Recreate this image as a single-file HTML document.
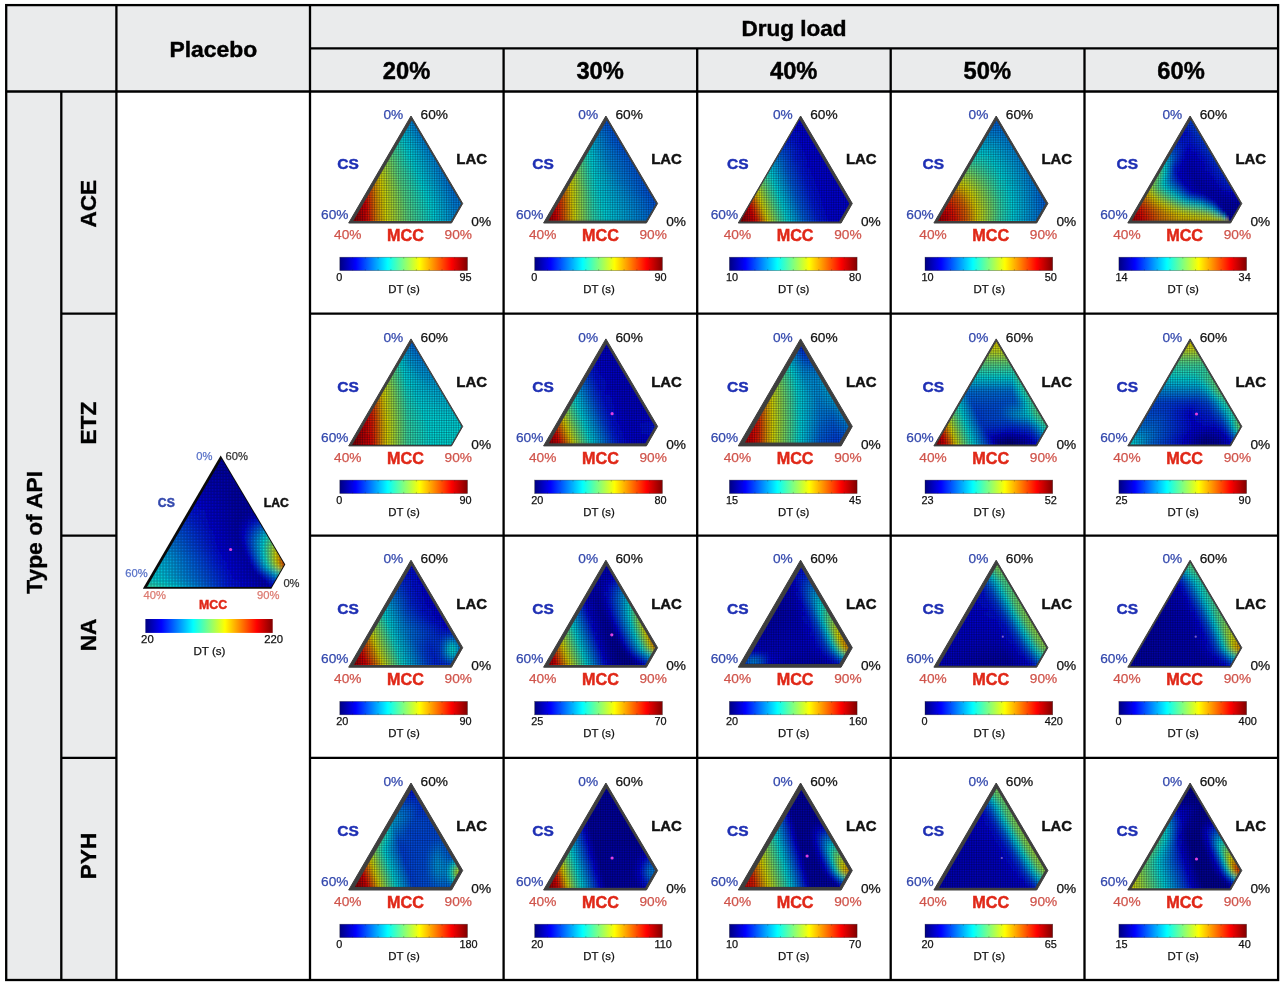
<!DOCTYPE html><html><head><meta charset="utf-8"><title>Disintegration time ternary maps</title>
<style>html,body{margin:0;padding:0;background:#fff}svg{display:block}text{font-family:"Liberation Sans",sans-serif}</style></head><body>
<svg width="1283" height="986" viewBox="0 0 1283 986">
<defs><linearGradient id="jet"><stop offset="0" stop-color="#000080"/><stop offset=".062" stop-color="#0000bf"/><stop offset=".125" stop-color="#00f"/><stop offset=".188" stop-color="#0040ff"/><stop offset=".25" stop-color="#0080ff"/><stop offset=".312" stop-color="#00bfff"/><stop offset=".375" stop-color="#0ff"/><stop offset=".438" stop-color="#40ffbf"/><stop offset=".5" stop-color="#80ff80"/><stop offset=".562" stop-color="#bfff40"/><stop offset=".625" stop-color="#ff0"/><stop offset=".688" stop-color="#ffbf00"/><stop offset=".75" stop-color="#ff8000"/><stop offset=".812" stop-color="#ff4000"/><stop offset=".875" stop-color="#f00"/><stop offset=".938" stop-color="#bf0000"/><stop offset="1" stop-color="#800000"/></linearGradient>
<filter id="vb" x="-10%" y="-10%" width="120%" height="120%"><feGaussianBlur stdDeviation="0.6 2.2"/></filter>
<g id="meshg"><path d="M-3 2v-112M-.6 2v-112M1.8 2v-112M4.2 2v-112M6.6 2v-112M9 2v-112M11.4 2v-112M13.8 2v-112M16.2 2v-112M18.6 2v-112M21 2v-112M23.4 2v-112M25.8 2v-112M28.2 2v-112M30.6 2v-112M33 2v-112M35.4 2v-112M37.8 2v-112M40.2 2v-112M42.6 2v-112M45 2v-112M47.4 2v-112M49.8 2v-112M52.2 2v-112M54.6 2v-112M57 2v-112M59.4 2v-112M61.8 2v-112M64.2 2v-112M66.6 2v-112M69 2v-112M71.4 2v-112M73.8 2v-112M76.2 2v-112M78.6 2v-112M81 2v-112M83.4 2v-112M85.8 2v-112M88.2 2v-112M90.6 2v-112M93 2v-112M95.4 2v-112M97.8 2v-112M100.2 2v-112M102.6 2v-112M105 2v-112M107.4 2v-112M109.8 2v-112M112.2 2v-112M114.6 2v-112M117 2v-112M119.4 2v-112M-4 1H122M-4 -1.4H122M-4 -3.8H122M-4 -6.2H122M-4 -8.6H122M-4 -11H122M-4 -13.4H122M-4 -15.8H122M-4 -18.2H122M-4 -20.6H122M-4 -23H122M-4 -25.4H122M-4 -27.8H122M-4 -30.2H122M-4 -32.6H122M-4 -35H122M-4 -37.4H122M-4 -39.8H122M-4 -42.2H122M-4 -44.6H122M-4 -47H122M-4 -49.4H122M-4 -51.8H122M-4 -54.2H122M-4 -56.6H122M-4 -59H122M-4 -61.4H122M-4 -63.8H122M-4 -66.2H122M-4 -68.6H122M-4 -71H122M-4 -73.4H122M-4 -75.8H122M-4 -78.2H122M-4 -80.6H122M-4 -83H122M-4 -85.4H122M-4 -87.8H122M-4 -90.2H122M-4 -92.6H122M-4 -95H122M-4 -97.4H122M-4 -99.8H122M-4 -102.2H122M-4 -104.6H122M-4 -107H122M-4 -109.4H122" stroke="#00061a" stroke-opacity=".3" stroke-width=".9" fill="none"/></g>
<g id="meshd"><path d="M0 0h1" stroke="#dff" stroke-opacity=".0" stroke-width=".6" fill="none"/></g>
<g id="cbt"><rect x="-8.9" y="34.2" width="127.7" height="13.4" fill="none" stroke="#222" stroke-opacity=".55" stroke-width=".6"/><path d="M3.9 34.2v1.6M3.9 47.6v-1.6M16.6 34.2v1.6M16.6 47.6v-1.6M29.4 34.2v1.6M29.4 47.6v-1.6M42.2 34.2v1.6M42.2 47.6v-1.6M55 34.2v1.6M55 47.6v-1.6M67.7 34.2v1.6M67.7 47.6v-1.6M80.5 34.2v1.6M80.5 47.6v-1.6M93.3 34.2v1.6M93.3 47.6v-1.6M106 34.2v1.6M106 47.6v-1.6" stroke="#222" stroke-opacity=".5" stroke-width=".5"/></g>
</defs>
<rect width="1283" height="986" fill="#fff"/>
<rect x="6.2" y="5.1" width="1271.9" height="86.4" fill="#eaebec"/>
<rect x="6.2" y="91.5" width="110.2" height="888.5" fill="#eaebec"/>
<rect x="6.2" y="5.1" width="1271.9" height="974.9" fill="none" stroke="#000" stroke-width="2.3"/>
<path d="M6.2 91.5L1278.1 91.5M310 48.3L1278.1 48.3M116.4 5.1L116.4 980M310 5.1L310 980M61.3 91.5L61.3 980M503.6 48.3L503.6 980M697.2 48.3L697.2 980M890.7 48.3L890.7 980M1084.5 48.3L1084.5 980M61.3 313.6L116.4 313.6M310 313.6L1278.1 313.6M61.3 535.7L116.4 535.7M310 535.7L1278.1 535.7M61.3 757.9L116.4 757.9M310 757.9L1278.1 757.9" stroke="#000" stroke-width="2.3" fill="none"/>
<text x="213.3" y="57" font-size="22.9" fill="#000" stroke="#000" stroke-width=".45" font-weight="bold" text-anchor="middle">Placebo</text>
<text x="794" y="35.7" font-size="22.5" fill="#000" stroke="#000" stroke-width=".45" font-weight="bold" text-anchor="middle">Drug load</text>
<text x="406.5" y="79.3" font-size="23.7" fill="#000" stroke="#000" stroke-width=".45" font-weight="bold" text-anchor="middle">20%</text>
<text x="600.1" y="79.3" font-size="23.7" fill="#000" stroke="#000" stroke-width=".45" font-weight="bold" text-anchor="middle">30%</text>
<text x="793.7" y="79.3" font-size="23.7" fill="#000" stroke="#000" stroke-width=".45" font-weight="bold" text-anchor="middle">40%</text>
<text x="987.3" y="79.3" font-size="23.7" fill="#000" stroke="#000" stroke-width=".45" font-weight="bold" text-anchor="middle">50%</text>
<text x="1181" y="79.3" font-size="23.7" fill="#000" stroke="#000" stroke-width=".45" font-weight="bold" text-anchor="middle">60%</text>
<g font-weight="bold" text-anchor="middle" fill="#000" stroke="#000" stroke-width=".35">
<text transform="translate(41.9 532.3) rotate(-90)" font-size="22.8">Type of API</text>
<text transform="translate(96.2 203.7) rotate(-90)" font-size="22.6">ACE</text>
<text transform="translate(96.2 423.1) rotate(-90)" font-size="22.6">ETZ</text>
<text transform="translate(96.2 635.0) rotate(-90)" font-size="22.6">NA</text>
<text transform="translate(96.2 856.0) rotate(-90)" font-size="22.6">PYH</text>
</g>
<defs><linearGradient id="g1"><stop offset="0" stop-color="#51d685"/><stop offset=".117" stop-color="#43d694"/><stop offset=".299" stop-color="#00d2d6"/><stop offset=".636" stop-color="#0023d6"/><stop offset=".766" stop-color="#0000cf"/><stop offset=".948" stop-color="#0000a6"/><stop offset="1" stop-color="#0000d3"/></linearGradient><linearGradient id="g2"><stop offset="0" stop-color="#51d685"/><stop offset=".117" stop-color="#43d694"/><stop offset=".299" stop-color="#00d2d6"/><stop offset=".636" stop-color="#0023d6"/><stop offset=".766" stop-color="#0000cf"/><stop offset=".948" stop-color="#0000a6"/><stop offset="1" stop-color="#0000d3"/></linearGradient><linearGradient id="g3"><stop offset="0" stop-color="#44d692"/><stop offset=".117" stop-color="#33d6a3"/><stop offset=".273" stop-color="#00cdd6"/><stop offset=".61" stop-color="#0022d6"/><stop offset=".74" stop-color="#0000ce"/><stop offset=".909" stop-color="#0000a7"/><stop offset=".961" stop-color="#0001d6"/><stop offset="1" stop-color="#002bd6"/></linearGradient><linearGradient id="g4"><stop offset="0" stop-color="#18d6bf"/><stop offset=".182" stop-color="#00ccd6"/><stop offset=".636" stop-color="#000dd6"/><stop offset=".753" stop-color="#0000c2"/><stop offset=".857" stop-color="#0000a8"/><stop offset=".909" stop-color="#000cd6"/><stop offset="1" stop-color="#0089d6"/></linearGradient><linearGradient id="g5"><stop offset="0" stop-color="#04d6d2"/><stop offset=".13" stop-color="#00c7d6"/><stop offset=".636" stop-color="#0001d6"/><stop offset=".805" stop-color="#0000ac"/><stop offset=".844" stop-color="#0000d6"/><stop offset=".961" stop-color="#00bad6"/><stop offset=".974" stop-color="#00d0d6"/><stop offset=".987" stop-color="#13d6c3"/><stop offset="1" stop-color="#13d6c3"/></linearGradient><linearGradient id="g6"><stop offset="0" stop-color="#00d2d6"/><stop offset=".117" stop-color="#00bfd6"/><stop offset=".597" stop-color="#0002d6"/><stop offset=".753" stop-color="#0000b0"/><stop offset=".792" stop-color="#000bd6"/><stop offset=".896" stop-color="#05d6d1"/><stop offset=".961" stop-color="#a3d633"/><stop offset=".974" stop-color="#b5d621"/><stop offset="1" stop-color="#b5d621"/></linearGradient><linearGradient id="g7"><stop offset="0" stop-color="#00c5d6"/><stop offset=".117" stop-color="#00b2d6"/><stop offset=".558" stop-color="#0002d6"/><stop offset=".714" stop-color="#0000b2"/><stop offset=".74" stop-color="#000ed6"/><stop offset=".818" stop-color="#00c1d6"/><stop offset=".831" stop-color="#0cd6ca"/><stop offset=".896" stop-color="#c5d612"/><stop offset=".909" stop-color="#d6be00"/><stop offset=".948" stop-color="#d63700"/><stop offset="1" stop-color="#d63700"/></linearGradient><linearGradient id="g8"><stop offset="0" stop-color="#00b9d6"/><stop offset=".107" stop-color="#00aad6"/><stop offset=".52" stop-color="#0007d6"/><stop offset=".693" stop-color="#0000b4"/><stop offset=".72" stop-color="#000fd6"/><stop offset=".813" stop-color="#0ad6cc"/><stop offset=".88" stop-color="#c0d616"/><stop offset=".893" stop-color="#d6c300"/><stop offset=".933" stop-color="#d64500"/><stop offset="1" stop-color="#d64500"/></linearGradient><linearGradient id="g9"><stop offset="0" stop-color="#00acd6"/><stop offset=".097" stop-color="#00a0d6"/><stop offset=".514" stop-color="#0004d6"/><stop offset=".681" stop-color="#0000b1"/><stop offset=".708" stop-color="#0004d6"/><stop offset=".806" stop-color="#00c2d6"/><stop offset=".819" stop-color="#0cd6ca"/><stop offset=".903" stop-color="#d6d000"/><stop offset=".931" stop-color="#d68500"/><stop offset="1" stop-color="#d68500"/></linearGradient><linearGradient id="g10"><stop offset="0" stop-color="#009dd6"/><stop offset=".101" stop-color="#008fd6"/><stop offset=".507" stop-color="#0000d6"/><stop offset=".667" stop-color="#0000b2"/><stop offset=".696" stop-color="#0000d1"/><stop offset=".797" stop-color="#00a6d6"/><stop offset=".826" stop-color="#0bd6cb"/><stop offset=".899" stop-color="#aad62d"/><stop offset=".913" stop-color="#d1d605"/><stop offset=".928" stop-color="#d6c000"/><stop offset="1" stop-color="#d6c000"/></linearGradient><linearGradient id="g11"><stop offset="0" stop-color="#008cd6"/><stop offset=".106" stop-color="#007ed6"/><stop offset=".485" stop-color="#0001d6"/><stop offset=".667" stop-color="#0000b4"/><stop offset=".697" stop-color="#0003d6"/><stop offset=".818" stop-color="#00bcd6"/><stop offset=".833" stop-color="#00d6d6"/><stop offset=".924" stop-color="#aed628"/><stop offset="1" stop-color="#aed628"/></linearGradient><linearGradient id="g12"><stop offset="0" stop-color="#007bd6"/><stop offset=".111" stop-color="#006cd6"/><stop offset=".476" stop-color="#0000d4"/><stop offset=".651" stop-color="#0000b0"/><stop offset=".698" stop-color="#0005d6"/><stop offset=".857" stop-color="#00d5d6"/><stop offset=".921" stop-color="#65d671"/><stop offset="1" stop-color="#65d671"/></linearGradient><linearGradient id="g13"><stop offset="0" stop-color="#0069d6"/><stop offset=".117" stop-color="#005dd6"/><stop offset=".467" stop-color="#0000d1"/><stop offset=".65" stop-color="#0000ad"/><stop offset=".7" stop-color="#0001d6"/><stop offset=".883" stop-color="#00c9d6"/><stop offset=".917" stop-color="#1cd6bb"/><stop offset="1" stop-color="#1cd6bb"/></linearGradient><linearGradient id="g14"><stop offset="0" stop-color="#005ad6"/><stop offset=".123" stop-color="#004ed6"/><stop offset=".456" stop-color="#0000ce"/><stop offset=".649" stop-color="#0000ab"/><stop offset=".719" stop-color="#0003d6"/><stop offset=".912" stop-color="#00a8d6"/><stop offset="1" stop-color="#00a8d6"/></linearGradient><linearGradient id="g15"><stop offset="0" stop-color="#004bd6"/><stop offset=".132" stop-color="#003ed6"/><stop offset=".415" stop-color="#0000d0"/><stop offset=".66" stop-color="#00a"/><stop offset=".755" stop-color="#0005d6"/><stop offset=".906" stop-color="#0066d6"/><stop offset="1" stop-color="#0066d6"/></linearGradient><linearGradient id="g16"><stop offset="0" stop-color="#003cd6"/><stop offset=".16" stop-color="#002ad6"/><stop offset=".4" stop-color="#0000ce"/><stop offset=".68" stop-color="#0000a6"/><stop offset=".84" stop-color="#000ad6"/><stop offset=".92" stop-color="#0025d6"/><stop offset="1" stop-color="#0025d6"/></linearGradient><linearGradient id="g17"><stop offset="0" stop-color="#002dd6"/><stop offset=".191" stop-color="#001ad6"/><stop offset=".383" stop-color="#0000cb"/><stop offset=".723" stop-color="#0000a4"/><stop offset=".936" stop-color="#0000c7"/><stop offset="1" stop-color="#0000c7"/></linearGradient><linearGradient id="g18"><stop offset="0" stop-color="#0021d6"/><stop offset=".205" stop-color="#000ed6"/><stop offset=".409" stop-color="#0000c2"/><stop offset=".727" stop-color="#0000a3"/><stop offset="1" stop-color="#00009f"/></linearGradient><linearGradient id="g19"><stop offset="0" stop-color="#0014d6"/><stop offset=".293" stop-color="#00c"/><stop offset=".683" stop-color="#0000a4"/><stop offset="1" stop-color="#00009f"/></linearGradient><linearGradient id="g20"><stop offset="0" stop-color="#0008d6"/><stop offset=".289" stop-color="#0000c6"/><stop offset=".684" stop-color="#0000a4"/><stop offset="1" stop-color="#00009f"/></linearGradient><linearGradient id="g21"><stop offset="0" stop-color="#0000d2"/><stop offset=".714" stop-color="#0000a2"/><stop offset="1" stop-color="#00009f"/></linearGradient><linearGradient id="g22"><stop offset="0" stop-color="#0000c8"/><stop offset=".75" stop-color="#0000a1"/><stop offset="1" stop-color="#00009f"/></linearGradient><linearGradient id="g23"><stop offset="0" stop-color="#0000bf"/><stop offset=".857" stop-color="#00009f"/><stop offset="1" stop-color="#00009f"/></linearGradient><linearGradient id="g24"><stop offset="0" stop-color="#0000b6"/><stop offset="1" stop-color="#00009f"/></linearGradient><linearGradient id="g25"><stop offset="0" stop-color="#0000ad"/><stop offset="1" stop-color="#0000a0"/></linearGradient><linearGradient id="g26"><stop offset="0" stop-color="#0000a6"/><stop offset="1" stop-color="#0000a0"/></linearGradient><linearGradient id="g27"><stop offset="0" stop-color="#0000a4"/><stop offset="1" stop-color="#0000a0"/></linearGradient><linearGradient id="g28"><stop offset="0" stop-color="#0000a3"/><stop offset="1" stop-color="#0000a0"/></linearGradient><linearGradient id="g29"><stop offset="0" stop-color="#0000a1"/><stop offset="1" stop-color="#0000a0"/></linearGradient><linearGradient id="g30"><stop offset="0" stop-color="#0000a0"/><stop offset="1" stop-color="#0000a0"/></linearGradient><linearGradient id="g31"><stop offset="0" stop-color="#0000a0"/><stop offset="1" stop-color="#0000a0"/></linearGradient><clipPath id="cplc"><polygon points="3.4,-1.4 63.1,-104 113.1,-19.5 102.7,-1.4"/></clipPath></defs>
<g transform="translate(142.8 588.7) scale(1.25 1.246)">
<polygon points="0,0 62.3,-107 114,-19.5 102.8,0" fill="#0a0a0a"/>
<g clip-path="url(#cplc)"><g filter="url(#vb)"><rect x="-8.2" y="4" width="116.8" height="4.6" fill="url(#g1)"/><rect x="-8.2" y="0" width="116.8" height="4.6" fill="url(#g2)"/><rect x="-5.8" y="-4" width="116.8" height="4.6" fill="url(#g3)"/><rect x="-3.5" y="-8" width="116.8" height="4.6" fill="url(#g4)"/><rect x="-1.2" y="-12" width="116.7" height="4.6" fill="url(#g5)"/><rect x="1.2" y="-16" width="116.7" height="4.6" fill="url(#g6)"/><rect x="3.5" y="-20" width="116.7" height="4.6" fill="url(#g7)"/><rect x="5.8" y="-24" width="113.7" height="4.6" fill="url(#g8)"/><rect x="8.1" y="-28" width="109" height="4.6" fill="url(#g9)"/><rect x="10.5" y="-32" width="104.3" height="4.6" fill="url(#g10)"/><rect x="12.8" y="-36" width="99.6" height="4.6" fill="url(#g11)"/><rect x="15.1" y="-40" width="94.9" height="4.6" fill="url(#g12)"/><rect x="17.5" y="-44" width="90.3" height="4.6" fill="url(#g13)"/><rect x="19.8" y="-48" width="85.6" height="4.6" fill="url(#g14)"/><rect x="22.1" y="-52" width="80.9" height="4.6" fill="url(#g15)"/><rect x="24.4" y="-56" width="76.2" height="4.6" fill="url(#g16)"/><rect x="26.8" y="-60" width="71.5" height="4.6" fill="url(#g17)"/><rect x="29.1" y="-64" width="66.8" height="4.6" fill="url(#g18)"/><rect x="31.4" y="-68" width="62.1" height="4.6" fill="url(#g19)"/><rect x="33.8" y="-72" width="57.4" height="4.6" fill="url(#g20)"/><rect x="36.1" y="-76" width="52.7" height="4.6" fill="url(#g21)"/><rect x="38.4" y="-80" width="48" height="4.6" fill="url(#g22)"/><rect x="40.7" y="-84" width="43.3" height="4.6" fill="url(#g23)"/><rect x="43.1" y="-88" width="38.6" height="4.6" fill="url(#g24)"/><rect x="45.4" y="-92" width="33.9" height="4.6" fill="url(#g25)"/><rect x="47.7" y="-96" width="29.3" height="4.6" fill="url(#g26)"/><rect x="50.1" y="-100" width="24.6" height="4.6" fill="url(#g27)"/><rect x="52.4" y="-104" width="19.9" height="4.6" fill="url(#g28)"/><rect x="54.7" y="-108" width="15.2" height="4.6" fill="url(#g29)"/><rect x="56.5" y="-112" width="15" height="4.6" fill="url(#g30)"/><rect x="56.5" y="-116" width="15" height="4.6" fill="url(#g31)"/></g><use href="#meshg"/><use href="#meshd"/></g>
</g>
<circle cx="230.6" cy="549.5" r="1.6" fill="#e040e0"/>
<text x="212.4" y="459.9" font-size="11.2" fill="#5a73c8" stroke="#5a73c8" stroke-width=".25" text-anchor="end">0%</text>
<text x="225.6" y="459.9" font-size="11.2" fill="#333" stroke="#333" stroke-width=".25">60%</text>
<text x="166.3" y="507.4" font-size="12.2" fill="#3348ad" stroke="#3348ad" stroke-width=".45" font-weight="bold" text-anchor="middle">CS</text>
<text x="276.4" y="507.4" font-size="12.2" fill="#111" stroke="#111" stroke-width=".45" font-weight="bold" text-anchor="middle">LAC</text>
<text x="147.7" y="576.6" font-size="11.2" fill="#5a73c8" stroke="#5a73c8" stroke-width=".25" text-anchor="end">60%</text>
<text x="283.4" y="587.2" font-size="11.2" fill="#333" stroke="#333" stroke-width=".25">0%</text>
<text x="154.7" y="598.9" font-size="11.2" fill="#dc7a70" stroke="#dc7a70" stroke-width=".25" text-anchor="middle">40%</text>
<text x="268.2" y="598.9" font-size="11.2" fill="#dc7a70" stroke="#dc7a70" stroke-width=".25" text-anchor="middle">90%</text>
<text x="213.1" y="608.8" font-size="12.3" fill="#e02818" stroke="#e02818" stroke-width=".45" font-weight="bold" text-anchor="middle">MCC</text>
<rect x="145.4" y="619" width="127.3" height="13.9" fill="url(#jet)"/>
<text x="147.4" y="642.5" font-size="11.3" fill="#111" stroke="#111" stroke-width=".25" text-anchor="middle">20</text>
<text x="273.6" y="642.5" font-size="11.3" fill="#111" stroke="#111" stroke-width=".25" text-anchor="middle">220</text>
<text x="209.5" y="655.2" font-size="11.6" fill="#111" stroke="#111" stroke-width=".25" text-anchor="middle">DT (s)</text>
<defs><linearGradient id="g32"><stop offset="0" stop-color="#6b0000"/><stop offset=".091" stop-color="#760000"/><stop offset=".195" stop-color="#b60000"/><stop offset=".234" stop-color="#d60900"/><stop offset=".312" stop-color="#d68100"/><stop offset=".39" stop-color="#d6d600"/><stop offset=".571" stop-color="#5dd679"/><stop offset=".792" stop-color="#00d5d6"/><stop offset=".974" stop-color="#008bd6"/><stop offset="1" stop-color="#0084d6"/></linearGradient><linearGradient id="g33"><stop offset="0" stop-color="#6b0000"/><stop offset=".091" stop-color="#760000"/><stop offset=".195" stop-color="#b60000"/><stop offset=".234" stop-color="#d60900"/><stop offset=".312" stop-color="#d68100"/><stop offset=".39" stop-color="#d6d600"/><stop offset=".571" stop-color="#5dd679"/><stop offset=".792" stop-color="#00d5d6"/><stop offset=".974" stop-color="#008bd6"/><stop offset="1" stop-color="#0084d6"/></linearGradient><linearGradient id="g34"><stop offset="0" stop-color="#710000"/><stop offset=".078" stop-color="#7b0000"/><stop offset=".182" stop-color="#be0000"/><stop offset=".221" stop-color="#d61100"/><stop offset=".286" stop-color="#d67b00"/><stop offset=".377" stop-color="#d1d605"/><stop offset=".558" stop-color="#59d67d"/><stop offset=".779" stop-color="#00d1d6"/><stop offset=".974" stop-color="#0085d6"/><stop offset="1" stop-color="#0081d6"/></linearGradient><linearGradient id="g35"><stop offset="0" stop-color="#7e0000"/><stop offset=".078" stop-color="#870000"/><stop offset=".156" stop-color="#b90000"/><stop offset=".195" stop-color="#d60c00"/><stop offset=".273" stop-color="#d68400"/><stop offset=".351" stop-color="#d4d603"/><stop offset=".532" stop-color="#5ad67c"/><stop offset=".753" stop-color="#00d2d6"/><stop offset=".935" stop-color="#0089d6"/><stop offset="1" stop-color="#007dd6"/></linearGradient><linearGradient id="g36"><stop offset="0" stop-color="#8b0000"/><stop offset=".078" stop-color="#950000"/><stop offset=".169" stop-color="#d60800"/><stop offset=".247" stop-color="#d68000"/><stop offset=".325" stop-color="#d6d601"/><stop offset=".506" stop-color="#5bd67c"/><stop offset=".727" stop-color="#00d3d6"/><stop offset=".922" stop-color="#0084d6"/><stop offset="1" stop-color="#007ad6"/></linearGradient><linearGradient id="g37"><stop offset="0" stop-color="#900"/><stop offset=".078" stop-color="#a30000"/><stop offset=".143" stop-color="#d60500"/><stop offset=".234" stop-color="#d68b00"/><stop offset=".299" stop-color="#d6d300"/><stop offset=".494" stop-color="#54d682"/><stop offset=".701" stop-color="#00d2d6"/><stop offset=".883" stop-color="#0087d6"/><stop offset="1" stop-color="#0076d6"/></linearGradient><linearGradient id="g38"><stop offset="0" stop-color="#a70000"/><stop offset=".078" stop-color="#b10000"/><stop offset=".117" stop-color="#d60200"/><stop offset=".156" stop-color="#d63300"/><stop offset=".208" stop-color="#d68800"/><stop offset=".286" stop-color="#ced608"/><stop offset=".468" stop-color="#53d683"/><stop offset=".662" stop-color="#02d6d4"/><stop offset=".883" stop-color="#007dd6"/><stop offset="1" stop-color="#0073d6"/></linearGradient><linearGradient id="g39"><stop offset="0" stop-color="#b60000"/><stop offset=".067" stop-color="#b00"/><stop offset=".093" stop-color="#d60000"/><stop offset=".147" stop-color="#d64500"/><stop offset=".2" stop-color="#d69400"/><stop offset=".267" stop-color="#d0d606"/><stop offset=".453" stop-color="#52d684"/><stop offset=".653" stop-color="#00d6d6"/><stop offset=".867" stop-color="#007ed6"/><stop offset="1" stop-color="#0070d6"/></linearGradient><linearGradient id="g40"><stop offset="0" stop-color="#cf0000"/><stop offset=".069" stop-color="#d50000"/><stop offset=".125" stop-color="#d63e00"/><stop offset=".181" stop-color="#d69200"/><stop offset=".25" stop-color="#d3d604"/><stop offset=".444" stop-color="#51d685"/><stop offset=".639" stop-color="#02d6d5"/><stop offset=".903" stop-color="#0074d6"/><stop offset="1" stop-color="#006ed6"/></linearGradient><linearGradient id="g41"><stop offset="0" stop-color="#d61300"/><stop offset=".072" stop-color="#d61800"/><stop offset=".174" stop-color="#d69e00"/><stop offset=".232" stop-color="#d5d602"/><stop offset=".42" stop-color="#58d67f"/><stop offset=".638" stop-color="#00d5d6"/><stop offset=".913" stop-color="#0071d6"/><stop offset="1" stop-color="#006cd6"/></linearGradient><linearGradient id="g42"><stop offset="0" stop-color="#d62e00"/><stop offset=".076" stop-color="#d63300"/><stop offset=".152" stop-color="#d69d00"/><stop offset=".212" stop-color="#d6d600"/><stop offset=".409" stop-color="#56d680"/><stop offset=".621" stop-color="#00d6d6"/><stop offset=".924" stop-color="#006ed6"/><stop offset="1" stop-color="#006dd6"/></linearGradient><linearGradient id="g43"><stop offset="0" stop-color="#d65300"/><stop offset=".079" stop-color="#d65c00"/><stop offset=".143" stop-color="#d6aa00"/><stop offset=".19" stop-color="#d6d500"/><stop offset=".397" stop-color="#54d682"/><stop offset=".619" stop-color="#00d3d6"/><stop offset=".921" stop-color="#006fd6"/><stop offset="1" stop-color="#006ed6"/></linearGradient><linearGradient id="g44"><stop offset="0" stop-color="#d67e00"/><stop offset=".083" stop-color="#d68600"/><stop offset=".167" stop-color="#d6d400"/><stop offset=".367" stop-color="#5ad67d"/><stop offset=".6" stop-color="#00d4d6"/><stop offset=".933" stop-color="#006ed6"/><stop offset="1" stop-color="#006ed6"/></linearGradient><linearGradient id="g45"><stop offset="0" stop-color="#d6a400"/><stop offset=".088" stop-color="#d6a800"/><stop offset=".158" stop-color="#cbd60b"/><stop offset=".368" stop-color="#50d687"/><stop offset=".596" stop-color="#00d0d6"/><stop offset=".93" stop-color="#006ed6"/><stop offset="1" stop-color="#006ed6"/></linearGradient><linearGradient id="g46"><stop offset="0" stop-color="#d6c000"/><stop offset=".094" stop-color="#d6c600"/><stop offset=".132" stop-color="#c9d60d"/><stop offset=".321" stop-color="#5ad67c"/><stop offset=".585" stop-color="#00ced6"/><stop offset=".943" stop-color="#006ed6"/><stop offset="1" stop-color="#006ed6"/></linearGradient><linearGradient id="g47"><stop offset="0" stop-color="#cfd607"/><stop offset=".1" stop-color="#c9d60d"/><stop offset=".26" stop-color="#6cd66a"/><stop offset=".54" stop-color="#01d6d5"/><stop offset=".94" stop-color="#0070d6"/><stop offset="1" stop-color="#0070d6"/></linearGradient><linearGradient id="g48"><stop offset="0" stop-color="#b2d624"/><stop offset=".106" stop-color="#acd62a"/><stop offset=".383" stop-color="#2dd6a9"/><stop offset=".553" stop-color="#00cdd6"/><stop offset=".936" stop-color="#0073d6"/><stop offset="1" stop-color="#0073d6"/></linearGradient><linearGradient id="g49"><stop offset="0" stop-color="#95d641"/><stop offset=".114" stop-color="#8fd647"/><stop offset=".432" stop-color="#14d6c2"/><stop offset=".545" stop-color="#00c9d6"/><stop offset=".932" stop-color="#0076d6"/><stop offset="1" stop-color="#0076d6"/></linearGradient><linearGradient id="g50"><stop offset="0" stop-color="#7cd65a"/><stop offset=".122" stop-color="#79d65e"/><stop offset=".463" stop-color="#03d6d4"/><stop offset=".927" stop-color="#0078d6"/><stop offset="1" stop-color="#0078d6"/></linearGradient><linearGradient id="g51"><stop offset="0" stop-color="#66d671"/><stop offset=".132" stop-color="#62d674"/><stop offset=".447" stop-color="#00d5d6"/><stop offset=".895" stop-color="#007bd6"/><stop offset="1" stop-color="#007bd6"/></linearGradient><linearGradient id="g52"><stop offset="0" stop-color="#4fd688"/><stop offset=".171" stop-color="#41d695"/><stop offset=".429" stop-color="#00d0d6"/><stop offset=".857" stop-color="#007fd6"/><stop offset="1" stop-color="#007dd6"/></linearGradient><linearGradient id="g53"><stop offset="0" stop-color="#37d69f"/><stop offset=".187" stop-color="#2ad6ac"/><stop offset=".406" stop-color="#00cbd6"/><stop offset=".844" stop-color="#007ed6"/><stop offset="1" stop-color="#007dd6"/></linearGradient><linearGradient id="g54"><stop offset="0" stop-color="#20d6b6"/><stop offset=".214" stop-color="#13d6c3"/><stop offset=".393" stop-color="#00c3d6"/><stop offset=".857" stop-color="#007bd6"/><stop offset="1" stop-color="#007bd6"/></linearGradient><linearGradient id="g55"><stop offset="0" stop-color="#0bd6cc"/><stop offset=".28" stop-color="#00ced6"/><stop offset=".84" stop-color="#007ad6"/><stop offset="1" stop-color="#007ad6"/></linearGradient><linearGradient id="g56"><stop offset="0" stop-color="#00cdd6"/><stop offset=".273" stop-color="#00c1d6"/><stop offset=".818" stop-color="#0078d6"/><stop offset="1" stop-color="#0078d6"/></linearGradient><linearGradient id="g57"><stop offset="0" stop-color="#00b8d6"/><stop offset=".316" stop-color="#00add6"/><stop offset=".789" stop-color="#0076d6"/><stop offset="1" stop-color="#0076d6"/></linearGradient><linearGradient id="g58"><stop offset="0" stop-color="#00a3d6"/><stop offset=".375" stop-color="#009ad6"/><stop offset=".812" stop-color="#0076d6"/><stop offset="1" stop-color="#0076d6"/></linearGradient><linearGradient id="g59"><stop offset="0" stop-color="#0090d6"/><stop offset="1" stop-color="#0077d6"/></linearGradient><linearGradient id="g60"><stop offset="0" stop-color="#007cd6"/><stop offset="1" stop-color="#0077d6"/></linearGradient><linearGradient id="g61"><stop offset="0" stop-color="#0077d6"/><stop offset="1" stop-color="#0077d6"/></linearGradient><linearGradient id="g62"><stop offset="0" stop-color="#0077d6"/><stop offset="1" stop-color="#0077d6"/></linearGradient><clipPath id="cr0c0"><polygon points="4.6,-2 63.2,-102.6 112.3,-19.5 102.2,-2"/></clipPath></defs>
<g transform="translate(348.7 223)">
<polygon points="0,0 62.3,-107 114,-19.5 102.8,0" fill="#3e3e3e" stroke="#3e3e3e" stroke-width="1" stroke-linejoin="miter" stroke-miterlimit="6"/>
<g clip-path="url(#cr0c0)"><g filter="url(#vb)"><rect x="-8.2" y="4" width="116.8" height="4.6" fill="url(#g32)"/><rect x="-8.2" y="0" width="116.8" height="4.6" fill="url(#g33)"/><rect x="-5.8" y="-4" width="116.8" height="4.6" fill="url(#g34)"/><rect x="-3.5" y="-8" width="116.8" height="4.6" fill="url(#g35)"/><rect x="-1.2" y="-12" width="116.7" height="4.6" fill="url(#g36)"/><rect x="1.2" y="-16" width="116.7" height="4.6" fill="url(#g37)"/><rect x="3.5" y="-20" width="116.7" height="4.6" fill="url(#g38)"/><rect x="5.8" y="-24" width="113.7" height="4.6" fill="url(#g39)"/><rect x="8.1" y="-28" width="109" height="4.6" fill="url(#g40)"/><rect x="10.5" y="-32" width="104.3" height="4.6" fill="url(#g41)"/><rect x="12.8" y="-36" width="99.6" height="4.6" fill="url(#g42)"/><rect x="15.1" y="-40" width="94.9" height="4.6" fill="url(#g43)"/><rect x="17.5" y="-44" width="90.3" height="4.6" fill="url(#g44)"/><rect x="19.8" y="-48" width="85.6" height="4.6" fill="url(#g45)"/><rect x="22.1" y="-52" width="80.9" height="4.6" fill="url(#g46)"/><rect x="24.4" y="-56" width="76.2" height="4.6" fill="url(#g47)"/><rect x="26.8" y="-60" width="71.5" height="4.6" fill="url(#g48)"/><rect x="29.1" y="-64" width="66.8" height="4.6" fill="url(#g49)"/><rect x="31.4" y="-68" width="62.1" height="4.6" fill="url(#g50)"/><rect x="33.8" y="-72" width="57.4" height="4.6" fill="url(#g51)"/><rect x="36.1" y="-76" width="52.7" height="4.6" fill="url(#g52)"/><rect x="38.4" y="-80" width="48" height="4.6" fill="url(#g53)"/><rect x="40.7" y="-84" width="43.3" height="4.6" fill="url(#g54)"/><rect x="43.1" y="-88" width="38.6" height="4.6" fill="url(#g55)"/><rect x="45.4" y="-92" width="33.9" height="4.6" fill="url(#g56)"/><rect x="47.7" y="-96" width="29.3" height="4.6" fill="url(#g57)"/><rect x="50.1" y="-100" width="24.6" height="4.6" fill="url(#g58)"/><rect x="52.4" y="-104" width="19.9" height="4.6" fill="url(#g59)"/><rect x="54.7" y="-108" width="15.2" height="4.6" fill="url(#g60)"/><rect x="56.5" y="-112" width="15" height="4.6" fill="url(#g61)"/><rect x="56.5" y="-116" width="15" height="4.6" fill="url(#g62)"/></g><use href="#meshg"/></g>
<text x="54.5" y="-104.1" font-size="13.7" fill="#3348ad" stroke="#3348ad" stroke-width=".25" text-anchor="end">0%</text>
<text x="71.9" y="-104.1" font-size="13.7" fill="#111" stroke="#111" stroke-width=".25">60%</text>
<text x="-.6" y="-53.6" font-size="15.5" fill="#1f30b4" stroke="#1f30b4" stroke-width=".45" font-weight="bold" text-anchor="middle">CS</text>
<text x="122.9" y="-58.7" font-size="14.9" fill="#111" stroke="#111" stroke-width=".45" font-weight="bold" text-anchor="middle">LAC</text>
<text x="-.2" y="-4" font-size="13.7" fill="#3348ad" stroke="#3348ad" stroke-width=".25" text-anchor="end">60%</text>
<text x="122.6" y="2.9" font-size="13.7" fill="#111" stroke="#111" stroke-width=".25">0%</text>
<text x="-.9" y="16.3" font-size="13.7" fill="#d0554c" stroke="#d0554c" stroke-width=".25" text-anchor="middle">40%</text>
<text x="56.8" y="17.7" font-size="16.2" fill="#e02818" stroke="#e02818" stroke-width=".45" font-weight="bold" text-anchor="middle">MCC</text>
<text x="109.6" y="16.3" font-size="13.7" fill="#d0554c" stroke="#d0554c" stroke-width=".25" text-anchor="middle">90%</text>
<rect x="-8.9" y="34.2" width="127.7" height="13.4" fill="url(#jet)"/><use href="#cbt"/>
<text x="-12.4" y="58" font-size="10.9" fill="#111" stroke="#111" stroke-width=".25">0</text>
<text x="110.8" y="58" font-size="10.9" fill="#111" stroke="#111" stroke-width=".25">95</text>
<text x="55.4" y="70.3" font-size="11.4" fill="#111" stroke="#111" stroke-width=".25" text-anchor="middle">DT (s)</text>
</g>
<defs><linearGradient id="g63"><stop offset="0" stop-color="#6b0000"/><stop offset=".078" stop-color="#730000"/><stop offset=".195" stop-color="#d60900"/><stop offset=".338" stop-color="#d1d605"/><stop offset=".494" stop-color="#33d6a3"/><stop offset=".597" stop-color="#00d5d6"/><stop offset="1" stop-color="#0062d6"/></linearGradient><linearGradient id="g64"><stop offset="0" stop-color="#6b0000"/><stop offset=".078" stop-color="#730000"/><stop offset=".195" stop-color="#d60900"/><stop offset=".338" stop-color="#d1d605"/><stop offset=".494" stop-color="#33d6a3"/><stop offset=".597" stop-color="#00d5d6"/><stop offset="1" stop-color="#0062d6"/></linearGradient><linearGradient id="g65"><stop offset="0" stop-color="#750000"/><stop offset=".065" stop-color="#7a0000"/><stop offset=".169" stop-color="#d60400"/><stop offset=".26" stop-color="#d68100"/><stop offset=".312" stop-color="#d6d600"/><stop offset=".468" stop-color="#36d6a0"/><stop offset=".584" stop-color="#00d2d6"/><stop offset="1" stop-color="#005fd6"/></linearGradient><linearGradient id="g66"><stop offset="0" stop-color="#8a0000"/><stop offset=".065" stop-color="#8f0000"/><stop offset=".143" stop-color="#d60100"/><stop offset=".195" stop-color="#d64000"/><stop offset=".286" stop-color="#d6d000"/><stop offset=".455" stop-color="#30d6a7"/><stop offset=".558" stop-color="#00d2d6"/><stop offset="1" stop-color="#005ad6"/></linearGradient><linearGradient id="g67"><stop offset="0" stop-color="#a00000"/><stop offset=".065" stop-color="#a40000"/><stop offset=".13" stop-color="#d60a00"/><stop offset=".234" stop-color="#d69d00"/><stop offset=".273" stop-color="#d0d606"/><stop offset=".429" stop-color="#30d6a6"/><stop offset=".532" stop-color="#00d1d6"/><stop offset=".987" stop-color="#0056d6"/><stop offset="1" stop-color="#0056d6"/></linearGradient><linearGradient id="g68"><stop offset="0" stop-color="#b60000"/><stop offset=".065" stop-color="#ba0000"/><stop offset=".104" stop-color="#d60800"/><stop offset=".169" stop-color="#d65b00"/><stop offset=".247" stop-color="#d5d601"/><stop offset=".403" stop-color="#32d6a5"/><stop offset=".494" stop-color="#00d5d6"/><stop offset=".961" stop-color="#0053d6"/><stop offset="1" stop-color="#0052d6"/></linearGradient><linearGradient id="g69"><stop offset="0" stop-color="#c00"/><stop offset=".078" stop-color="#d60600"/><stop offset=".143" stop-color="#d65600"/><stop offset=".221" stop-color="#d6d100"/><stop offset=".39" stop-color="#29d6ae"/><stop offset=".481" stop-color="#00ced6"/><stop offset=".948" stop-color="#004fd6"/><stop offset="1" stop-color="#004fd6"/></linearGradient><linearGradient id="g70"><stop offset="0" stop-color="#d60c00"/><stop offset=".067" stop-color="#d61100"/><stop offset=".133" stop-color="#d66400"/><stop offset=".2" stop-color="#d6cb00"/><stop offset=".267" stop-color="#92d644"/><stop offset=".4" stop-color="#19d6bd"/><stop offset=".467" stop-color="#00ccd6"/><stop offset=".947" stop-color="#004cd6"/><stop offset="1" stop-color="#004cd6"/></linearGradient><linearGradient id="g71"><stop offset="0" stop-color="#d62300"/><stop offset=".069" stop-color="#d62700"/><stop offset=".194" stop-color="#d2d605"/><stop offset=".375" stop-color="#20d6b6"/><stop offset=".458" stop-color="#00cbd6"/><stop offset=".958" stop-color="#004ad6"/><stop offset="1" stop-color="#004ad6"/></linearGradient><linearGradient id="g72"><stop offset="0" stop-color="#d64000"/><stop offset=".072" stop-color="#d64700"/><stop offset=".174" stop-color="#d6d500"/><stop offset=".362" stop-color="#20d6b6"/><stop offset=".435" stop-color="#00d0d6"/><stop offset=".841" stop-color="#0060d6"/><stop offset=".986" stop-color="#0049d6"/><stop offset="1" stop-color="#0049d6"/></linearGradient><linearGradient id="g73"><stop offset="0" stop-color="#d66300"/><stop offset=".076" stop-color="#d66a00"/><stop offset=".152" stop-color="#d6cf00"/><stop offset=".364" stop-color="#17d6c0"/><stop offset=".439" stop-color="#00c7d6"/><stop offset=".939" stop-color="#004ad6"/><stop offset="1" stop-color="#004ad6"/></linearGradient><linearGradient id="g74"><stop offset="0" stop-color="#d68500"/><stop offset=".079" stop-color="#d68c00"/><stop offset=".143" stop-color="#cdd609"/><stop offset=".349" stop-color="#17d6c0"/><stop offset=".413" stop-color="#00ced6"/><stop offset=".714" stop-color="#007ad6"/><stop offset=".968" stop-color="#004bd6"/><stop offset="1" stop-color="#004bd6"/></linearGradient><linearGradient id="g75"><stop offset="0" stop-color="#d6a800"/><stop offset=".083" stop-color="#d6af00"/><stop offset=".117" stop-color="#d2d604"/><stop offset=".267" stop-color="#48d68e"/><stop offset=".383" stop-color="#00d4d6"/><stop offset=".65" stop-color="#0085d6"/><stop offset=".967" stop-color="#004bd6"/><stop offset="1" stop-color="#004bd6"/></linearGradient><linearGradient id="g76"><stop offset="0" stop-color="#d6ce00"/><stop offset=".088" stop-color="#d6d600"/><stop offset=".175" stop-color="#83d654"/><stop offset=".351" stop-color="#04d6d2"/><stop offset=".667" stop-color="#007fd6"/><stop offset=".965" stop-color="#004cd6"/><stop offset="1" stop-color="#004cd6"/></linearGradient><linearGradient id="g77"><stop offset="0" stop-color="#b8d61f"/><stop offset=".094" stop-color="#afd628"/><stop offset=".321" stop-color="#09d6cd"/><stop offset=".679" stop-color="#0079d6"/><stop offset=".962" stop-color="#004cd6"/><stop offset="1" stop-color="#004cd6"/></linearGradient><linearGradient id="g78"><stop offset="0" stop-color="#97d63f"/><stop offset=".1" stop-color="#91d645"/><stop offset=".32" stop-color="#00d4d6"/><stop offset=".58" stop-color="#0087d6"/><stop offset=".96" stop-color="#004cd6"/><stop offset="1" stop-color="#004cd6"/></linearGradient><linearGradient id="g79"><stop offset="0" stop-color="#7cd65a"/><stop offset=".106" stop-color="#76d660"/><stop offset=".298" stop-color="#00d4d6"/><stop offset=".553" stop-color="#0088d6"/><stop offset=".957" stop-color="#004dd6"/><stop offset="1" stop-color="#004dd6"/></linearGradient><linearGradient id="g80"><stop offset="0" stop-color="#61d675"/><stop offset=".114" stop-color="#5bd67b"/><stop offset=".273" stop-color="#00d5d6"/><stop offset=".523" stop-color="#008ad6"/><stop offset=".955" stop-color="#004dd6"/><stop offset="1" stop-color="#004dd6"/></linearGradient><linearGradient id="g81"><stop offset="0" stop-color="#45d691"/><stop offset=".122" stop-color="#40d697"/><stop offset=".244" stop-color="#00d5d6"/><stop offset=".488" stop-color="#008cd6"/><stop offset=".951" stop-color="#004cd6"/><stop offset="1" stop-color="#004cd6"/></linearGradient><linearGradient id="g82"><stop offset="0" stop-color="#29d6ad"/><stop offset=".132" stop-color="#24d6b2"/><stop offset=".211" stop-color="#00d5d6"/><stop offset=".5" stop-color="#0084d6"/><stop offset=".947" stop-color="#004cd6"/><stop offset="1" stop-color="#004cd6"/></linearGradient><linearGradient id="g83"><stop offset="0" stop-color="#0fd6c8"/><stop offset=".143" stop-color="#0ad6cc"/><stop offset=".343" stop-color="#009dd6"/><stop offset=".857" stop-color="#004dd6"/><stop offset="1" stop-color="#004cd6"/></linearGradient><linearGradient id="g84"><stop offset="0" stop-color="#00ccd6"/><stop offset=".156" stop-color="#00c8d6"/><stop offset=".5" stop-color="#0078d6"/><stop offset=".937" stop-color="#004bd6"/><stop offset="1" stop-color="#004bd6"/></linearGradient><linearGradient id="g85"><stop offset="0" stop-color="#00b4d6"/><stop offset=".179" stop-color="#00aed6"/><stop offset=".643" stop-color="#005ed6"/><stop offset="1" stop-color="#004bd6"/></linearGradient><linearGradient id="g86"><stop offset="0" stop-color="#009fd6"/><stop offset=".24" stop-color="#0094d6"/><stop offset=".84" stop-color="#004ad6"/><stop offset="1" stop-color="#004ad6"/></linearGradient><linearGradient id="g87"><stop offset="0" stop-color="#008ed6"/><stop offset=".273" stop-color="#0082d6"/><stop offset=".864" stop-color="#0049d6"/><stop offset="1" stop-color="#0049d6"/></linearGradient><linearGradient id="g88"><stop offset="0" stop-color="#007cd6"/><stop offset=".316" stop-color="#0071d6"/><stop offset=".842" stop-color="#0048d6"/><stop offset="1" stop-color="#0048d6"/></linearGradient><linearGradient id="g89"><stop offset="0" stop-color="#006ad6"/><stop offset="1" stop-color="#0048d6"/></linearGradient><linearGradient id="g90"><stop offset="0" stop-color="#005bd6"/><stop offset="1" stop-color="#0049d6"/></linearGradient><linearGradient id="g91"><stop offset="0" stop-color="#004dd6"/><stop offset="1" stop-color="#004ad6"/></linearGradient><linearGradient id="g92"><stop offset="0" stop-color="#004ad6"/><stop offset="1" stop-color="#004ad6"/></linearGradient><linearGradient id="g93"><stop offset="0" stop-color="#004ad6"/><stop offset="1" stop-color="#004ad6"/></linearGradient><clipPath id="cr0c1"><polygon points="4.9,-2.5 63.2,-102.6 112.3,-19.5 102.5,-2.5"/></clipPath></defs>
<g transform="translate(543.6 223)">
<polygon points="0,0 62.3,-107 114,-19.5 102.8,0" fill="#3e3e3e" stroke="#3e3e3e" stroke-width="1" stroke-linejoin="miter" stroke-miterlimit="6"/>
<g clip-path="url(#cr0c1)"><g filter="url(#vb)"><rect x="-8.2" y="4" width="116.8" height="4.6" fill="url(#g63)"/><rect x="-8.2" y="0" width="116.8" height="4.6" fill="url(#g64)"/><rect x="-5.8" y="-4" width="116.8" height="4.6" fill="url(#g65)"/><rect x="-3.5" y="-8" width="116.8" height="4.6" fill="url(#g66)"/><rect x="-1.2" y="-12" width="116.7" height="4.6" fill="url(#g67)"/><rect x="1.2" y="-16" width="116.7" height="4.6" fill="url(#g68)"/><rect x="3.5" y="-20" width="116.7" height="4.6" fill="url(#g69)"/><rect x="5.8" y="-24" width="113.7" height="4.6" fill="url(#g70)"/><rect x="8.1" y="-28" width="109" height="4.6" fill="url(#g71)"/><rect x="10.5" y="-32" width="104.3" height="4.6" fill="url(#g72)"/><rect x="12.8" y="-36" width="99.6" height="4.6" fill="url(#g73)"/><rect x="15.1" y="-40" width="94.9" height="4.6" fill="url(#g74)"/><rect x="17.5" y="-44" width="90.3" height="4.6" fill="url(#g75)"/><rect x="19.8" y="-48" width="85.6" height="4.6" fill="url(#g76)"/><rect x="22.1" y="-52" width="80.9" height="4.6" fill="url(#g77)"/><rect x="24.4" y="-56" width="76.2" height="4.6" fill="url(#g78)"/><rect x="26.8" y="-60" width="71.5" height="4.6" fill="url(#g79)"/><rect x="29.1" y="-64" width="66.8" height="4.6" fill="url(#g80)"/><rect x="31.4" y="-68" width="62.1" height="4.6" fill="url(#g81)"/><rect x="33.8" y="-72" width="57.4" height="4.6" fill="url(#g82)"/><rect x="36.1" y="-76" width="52.7" height="4.6" fill="url(#g83)"/><rect x="38.4" y="-80" width="48" height="4.6" fill="url(#g84)"/><rect x="40.7" y="-84" width="43.3" height="4.6" fill="url(#g85)"/><rect x="43.1" y="-88" width="38.6" height="4.6" fill="url(#g86)"/><rect x="45.4" y="-92" width="33.9" height="4.6" fill="url(#g87)"/><rect x="47.7" y="-96" width="29.3" height="4.6" fill="url(#g88)"/><rect x="50.1" y="-100" width="24.6" height="4.6" fill="url(#g89)"/><rect x="52.4" y="-104" width="19.9" height="4.6" fill="url(#g90)"/><rect x="54.7" y="-108" width="15.2" height="4.6" fill="url(#g91)"/><rect x="56.5" y="-112" width="15" height="4.6" fill="url(#g92)"/><rect x="56.5" y="-116" width="15" height="4.6" fill="url(#g93)"/></g><use href="#meshg"/></g>
<text x="54.5" y="-104.1" font-size="13.7" fill="#3348ad" stroke="#3348ad" stroke-width=".25" text-anchor="end">0%</text>
<text x="71.9" y="-104.1" font-size="13.7" fill="#111" stroke="#111" stroke-width=".25">60%</text>
<text x="-.6" y="-53.6" font-size="15.5" fill="#1f30b4" stroke="#1f30b4" stroke-width=".45" font-weight="bold" text-anchor="middle">CS</text>
<text x="122.9" y="-58.7" font-size="14.9" fill="#111" stroke="#111" stroke-width=".45" font-weight="bold" text-anchor="middle">LAC</text>
<text x="-.2" y="-4" font-size="13.7" fill="#3348ad" stroke="#3348ad" stroke-width=".25" text-anchor="end">60%</text>
<text x="122.6" y="2.9" font-size="13.7" fill="#111" stroke="#111" stroke-width=".25">0%</text>
<text x="-.9" y="16.3" font-size="13.7" fill="#d0554c" stroke="#d0554c" stroke-width=".25" text-anchor="middle">40%</text>
<text x="56.8" y="17.7" font-size="16.2" fill="#e02818" stroke="#e02818" stroke-width=".45" font-weight="bold" text-anchor="middle">MCC</text>
<text x="109.6" y="16.3" font-size="13.7" fill="#d0554c" stroke="#d0554c" stroke-width=".25" text-anchor="middle">90%</text>
<rect x="-8.9" y="34.2" width="127.7" height="13.4" fill="url(#jet)"/><use href="#cbt"/>
<text x="-12.4" y="58" font-size="10.9" fill="#111" stroke="#111" stroke-width=".25">0</text>
<text x="110.8" y="58" font-size="10.9" fill="#111" stroke="#111" stroke-width=".25">90</text>
<text x="55.4" y="70.3" font-size="11.4" fill="#111" stroke="#111" stroke-width=".25" text-anchor="middle">DT (s)</text>
</g>
<defs><linearGradient id="g94"><stop offset="0" stop-color="#6b0000"/><stop offset=".091" stop-color="#700"/><stop offset=".195" stop-color="#be0000"/><stop offset=".234" stop-color="#d60e00"/><stop offset=".325" stop-color="#d6c900"/><stop offset=".364" stop-color="#a6d630"/><stop offset=".455" stop-color="#31d6a5"/><stop offset=".506" stop-color="#00d0d6"/><stop offset=".636" stop-color="#0063d6"/><stop offset=".766" stop-color="#001dd6"/><stop offset=".87" stop-color="#0000d1"/><stop offset="1" stop-color="#00c"/></linearGradient><linearGradient id="g95"><stop offset="0" stop-color="#6b0000"/><stop offset=".091" stop-color="#700"/><stop offset=".195" stop-color="#be0000"/><stop offset=".234" stop-color="#d60e00"/><stop offset=".325" stop-color="#d6c900"/><stop offset=".364" stop-color="#a6d630"/><stop offset=".455" stop-color="#31d6a5"/><stop offset=".506" stop-color="#00d0d6"/><stop offset=".636" stop-color="#0063d6"/><stop offset=".766" stop-color="#001dd6"/><stop offset=".87" stop-color="#0000d1"/><stop offset="1" stop-color="#00c"/></linearGradient><linearGradient id="g96"><stop offset="0" stop-color="#750000"/><stop offset=".078" stop-color="#7f0000"/><stop offset=".169" stop-color="#be0000"/><stop offset=".208" stop-color="#d60e00"/><stop offset=".299" stop-color="#d6c900"/><stop offset=".338" stop-color="#a6d630"/><stop offset=".429" stop-color="#31d6a5"/><stop offset=".481" stop-color="#00d0d6"/><stop offset=".61" stop-color="#0063d6"/><stop offset=".74" stop-color="#001dd6"/><stop offset=".844" stop-color="#0000d1"/><stop offset="1" stop-color="#0000cb"/></linearGradient><linearGradient id="g97"><stop offset="0" stop-color="#800"/><stop offset=".078" stop-color="#920000"/><stop offset=".169" stop-color="#d60800"/><stop offset=".195" stop-color="#d63000"/><stop offset=".273" stop-color="#d6d500"/><stop offset=".377" stop-color="#47d68f"/><stop offset=".442" stop-color="#00d6d6"/><stop offset=".584" stop-color="#005fd6"/><stop offset=".714" stop-color="#001bd6"/><stop offset=".818" stop-color="#0000d1"/><stop offset="1" stop-color="#0000ca"/></linearGradient><linearGradient id="g98"><stop offset="0" stop-color="#9b0000"/><stop offset=".078" stop-color="#a50000"/><stop offset=".13" stop-color="#d60100"/><stop offset=".169" stop-color="#d63e00"/><stop offset=".234" stop-color="#d6c800"/><stop offset=".26" stop-color="#bad61c"/><stop offset=".351" stop-color="#41d696"/><stop offset=".416" stop-color="#00d1d6"/><stop offset=".545" stop-color="#0063d6"/><stop offset=".675" stop-color="#001dd6"/><stop offset=".779" stop-color="#0000d1"/><stop offset="1" stop-color="#0000c9"/></linearGradient><linearGradient id="g99"><stop offset="0" stop-color="#b20000"/><stop offset=".065" stop-color="#b70000"/><stop offset=".104" stop-color="#d60700"/><stop offset=".13" stop-color="#d62f00"/><stop offset=".208" stop-color="#d6d400"/><stop offset=".312" stop-color="#48d68e"/><stop offset=".377" stop-color="#01d6d6"/><stop offset=".519" stop-color="#005fd6"/><stop offset=".649" stop-color="#001bd6"/><stop offset=".753" stop-color="#0000d1"/><stop offset="1" stop-color="#0000c8"/></linearGradient><linearGradient id="g100"><stop offset="0" stop-color="#d20000"/><stop offset=".065" stop-color="#d60100"/><stop offset=".104" stop-color="#d63d00"/><stop offset=".169" stop-color="#d6c700"/><stop offset=".195" stop-color="#bbd61b"/><stop offset=".286" stop-color="#41d695"/><stop offset=".351" stop-color="#00d1d6"/><stop offset=".481" stop-color="#0064d6"/><stop offset=".61" stop-color="#001dd6"/><stop offset=".714" stop-color="#0000d1"/><stop offset="1" stop-color="#0000c8"/></linearGradient><linearGradient id="g101"><stop offset="0" stop-color="#d62300"/><stop offset=".067" stop-color="#d62e00"/><stop offset=".147" stop-color="#d6d400"/><stop offset=".267" stop-color="#3ad69c"/><stop offset=".32" stop-color="#01d6d5"/><stop offset=".467" stop-color="#005fd6"/><stop offset=".6" stop-color="#001bd6"/><stop offset=".707" stop-color="#0000d1"/><stop offset="1" stop-color="#0000c8"/></linearGradient><linearGradient id="g102"><stop offset="0" stop-color="#d66a00"/><stop offset=".069" stop-color="#d67500"/><stop offset=".125" stop-color="#cfd607"/><stop offset=".222" stop-color="#50d686"/><stop offset=".306" stop-color="#00d2d6"/><stop offset=".444" stop-color="#0064d6"/><stop offset=".597" stop-color="#0019d6"/><stop offset=".708" stop-color="#0000d1"/><stop offset="1" stop-color="#0000c8"/></linearGradient><linearGradient id="g103"><stop offset="0" stop-color="#d6af00"/><stop offset=".072" stop-color="#d6b900"/><stop offset=".087" stop-color="#d6d300"/><stop offset=".217" stop-color="#3bd69b"/><stop offset=".275" stop-color="#02d6d4"/><stop offset=".449" stop-color="#0058d6"/><stop offset=".594" stop-color="#0017d6"/><stop offset=".71" stop-color="#0000d1"/><stop offset="1" stop-color="#0000c8"/></linearGradient><linearGradient id="g104"><stop offset="0" stop-color="#c3d613"/><stop offset=".076" stop-color="#bcd61a"/><stop offset=".182" stop-color="#42d694"/><stop offset=".258" stop-color="#00d2d6"/><stop offset=".409" stop-color="#0065d6"/><stop offset=".576" stop-color="#001ad6"/><stop offset=".697" stop-color="#0000d1"/><stop offset="1" stop-color="#0000c9"/></linearGradient><linearGradient id="g105"><stop offset="0" stop-color="#93d643"/><stop offset=".079" stop-color="#8cd64a"/><stop offset=".222" stop-color="#03d6d4"/><stop offset=".413" stop-color="#0059d6"/><stop offset=".571" stop-color="#0017d6"/><stop offset=".698" stop-color="#0000d1"/><stop offset="1" stop-color="#0000c9"/></linearGradient><linearGradient id="g106"><stop offset="0" stop-color="#64d672"/><stop offset=".083" stop-color="#60d677"/><stop offset=".2" stop-color="#00d3d6"/><stop offset=".383" stop-color="#005dd6"/><stop offset=".567" stop-color="#0015d6"/><stop offset=".7" stop-color="#0000d1"/><stop offset="1" stop-color="#0000c9"/></linearGradient><linearGradient id="g107"><stop offset="0" stop-color="#41d696"/><stop offset=".088" stop-color="#3cd69a"/><stop offset=".158" stop-color="#03d6d3"/><stop offset=".368" stop-color="#005ad6"/><stop offset=".544" stop-color="#0018d6"/><stop offset=".684" stop-color="#0000d1"/><stop offset="1" stop-color="#0000ca"/></linearGradient><linearGradient id="g108"><stop offset="0" stop-color="#1dd6b9"/><stop offset=".094" stop-color="#17d6bf"/><stop offset=".151" stop-color="#00c6d6"/><stop offset=".34" stop-color="#005bd6"/><stop offset=".528" stop-color="#0018d6"/><stop offset=".66" stop-color="#0000d1"/><stop offset="1" stop-color="#0000ca"/></linearGradient><linearGradient id="g109"><stop offset="0" stop-color="#00d1d6"/><stop offset=".1" stop-color="#00ccd6"/><stop offset=".3" stop-color="#0060d6"/><stop offset=".5" stop-color="#001bd6"/><stop offset=".66" stop-color="#0000d1"/><stop offset="1" stop-color="#0000ca"/></linearGradient><linearGradient id="g110"><stop offset="0" stop-color="#00b3d6"/><stop offset=".106" stop-color="#00aed6"/><stop offset=".319" stop-color="#004bd6"/><stop offset=".596" stop-color="#0001d6"/><stop offset="1" stop-color="#0000cb"/></linearGradient><linearGradient id="g111"><stop offset="0" stop-color="#0095d6"/><stop offset=".114" stop-color="#0090d6"/><stop offset=".409" stop-color="#0025d6"/><stop offset=".636" stop-color="#0000d1"/><stop offset="1" stop-color="#0000cb"/></linearGradient><linearGradient id="g112"><stop offset="0" stop-color="#0079d6"/><stop offset=".146" stop-color="#006dd6"/><stop offset=".415" stop-color="#001ed6"/><stop offset=".634" stop-color="#0000d1"/><stop offset="1" stop-color="#0000cb"/></linearGradient><linearGradient id="g113"><stop offset="0" stop-color="#0064d6"/><stop offset=".158" stop-color="#0059d6"/><stop offset=".421" stop-color="#0017d6"/><stop offset=".632" stop-color="#0000d1"/><stop offset="1" stop-color="#00c"/></linearGradient><linearGradient id="g114"><stop offset="0" stop-color="#004fd6"/><stop offset=".171" stop-color="#0044d6"/><stop offset=".571" stop-color="#0000d2"/><stop offset="1" stop-color="#00c"/></linearGradient><linearGradient id="g115"><stop offset="0" stop-color="#003bd6"/><stop offset=".187" stop-color="#0030d6"/><stop offset=".562" stop-color="#0000d1"/><stop offset="1" stop-color="#00c"/></linearGradient><linearGradient id="g116"><stop offset="0" stop-color="#002ad6"/><stop offset=".286" stop-color="#0019d6"/><stop offset=".536" stop-color="#0000d1"/><stop offset="1" stop-color="#0000cd"/></linearGradient><linearGradient id="g117"><stop offset="0" stop-color="#001ed6"/><stop offset=".6" stop-color="#0000d0"/><stop offset="1" stop-color="#0000cd"/></linearGradient><linearGradient id="g118"><stop offset="0" stop-color="#0012d6"/><stop offset=".773" stop-color="#0000ce"/><stop offset="1" stop-color="#0000cd"/></linearGradient><linearGradient id="g119"><stop offset="0" stop-color="#0006d6"/><stop offset="1" stop-color="#0000ce"/></linearGradient><linearGradient id="g120"><stop offset="0" stop-color="#0000d2"/><stop offset="1" stop-color="#0000ce"/></linearGradient><linearGradient id="g121"><stop offset="0" stop-color="#0000d0"/><stop offset="1" stop-color="#0000ce"/></linearGradient><linearGradient id="g122"><stop offset="0" stop-color="#0000cf"/><stop offset="1" stop-color="#0000cf"/></linearGradient><linearGradient id="g123"><stop offset="0" stop-color="#0000cf"/><stop offset="1" stop-color="#0000cf"/></linearGradient><linearGradient id="g124"><stop offset="0" stop-color="#0000cf"/><stop offset="1" stop-color="#0000cf"/></linearGradient><clipPath id="cr0c2"><polygon points="2,-1.5 61.3,-103.3 111,-19.3 100.8,-1.5"/></clipPath></defs>
<g transform="translate(738.3 223)">
<polygon points="0,0 62.3,-107 114,-19.5 102.8,0" fill="#3e3e3e" stroke="#3e3e3e" stroke-width="1" stroke-linejoin="miter" stroke-miterlimit="6"/>
<g clip-path="url(#cr0c2)"><g filter="url(#vb)"><rect x="-8.2" y="4" width="116.8" height="4.6" fill="url(#g94)"/><rect x="-8.2" y="0" width="116.8" height="4.6" fill="url(#g95)"/><rect x="-5.8" y="-4" width="116.8" height="4.6" fill="url(#g96)"/><rect x="-3.5" y="-8" width="116.8" height="4.6" fill="url(#g97)"/><rect x="-1.2" y="-12" width="116.7" height="4.6" fill="url(#g98)"/><rect x="1.2" y="-16" width="116.7" height="4.6" fill="url(#g99)"/><rect x="3.5" y="-20" width="116.7" height="4.6" fill="url(#g100)"/><rect x="5.8" y="-24" width="113.7" height="4.6" fill="url(#g101)"/><rect x="8.1" y="-28" width="109" height="4.6" fill="url(#g102)"/><rect x="10.5" y="-32" width="104.3" height="4.6" fill="url(#g103)"/><rect x="12.8" y="-36" width="99.6" height="4.6" fill="url(#g104)"/><rect x="15.1" y="-40" width="94.9" height="4.6" fill="url(#g105)"/><rect x="17.5" y="-44" width="90.3" height="4.6" fill="url(#g106)"/><rect x="19.8" y="-48" width="85.6" height="4.6" fill="url(#g107)"/><rect x="22.1" y="-52" width="80.9" height="4.6" fill="url(#g108)"/><rect x="24.4" y="-56" width="76.2" height="4.6" fill="url(#g109)"/><rect x="26.8" y="-60" width="71.5" height="4.6" fill="url(#g110)"/><rect x="29.1" y="-64" width="66.8" height="4.6" fill="url(#g111)"/><rect x="31.4" y="-68" width="62.1" height="4.6" fill="url(#g112)"/><rect x="33.8" y="-72" width="57.4" height="4.6" fill="url(#g113)"/><rect x="36.1" y="-76" width="52.7" height="4.6" fill="url(#g114)"/><rect x="38.4" y="-80" width="48" height="4.6" fill="url(#g115)"/><rect x="40.7" y="-84" width="43.3" height="4.6" fill="url(#g116)"/><rect x="43.1" y="-88" width="38.6" height="4.6" fill="url(#g117)"/><rect x="45.4" y="-92" width="33.9" height="4.6" fill="url(#g118)"/><rect x="47.7" y="-96" width="29.3" height="4.6" fill="url(#g119)"/><rect x="50.1" y="-100" width="24.6" height="4.6" fill="url(#g120)"/><rect x="52.4" y="-104" width="19.9" height="4.6" fill="url(#g121)"/><rect x="54.7" y="-108" width="15.2" height="4.6" fill="url(#g122)"/><rect x="56.5" y="-112" width="15" height="4.6" fill="url(#g123)"/><rect x="56.5" y="-116" width="15" height="4.6" fill="url(#g124)"/></g><use href="#meshg"/></g>
<text x="54.5" y="-104.1" font-size="13.7" fill="#3348ad" stroke="#3348ad" stroke-width=".25" text-anchor="end">0%</text>
<text x="71.9" y="-104.1" font-size="13.7" fill="#111" stroke="#111" stroke-width=".25">60%</text>
<text x="-.6" y="-53.6" font-size="15.5" fill="#1f30b4" stroke="#1f30b4" stroke-width=".45" font-weight="bold" text-anchor="middle">CS</text>
<text x="122.9" y="-58.7" font-size="14.9" fill="#111" stroke="#111" stroke-width=".45" font-weight="bold" text-anchor="middle">LAC</text>
<text x="-.2" y="-4" font-size="13.7" fill="#3348ad" stroke="#3348ad" stroke-width=".25" text-anchor="end">60%</text>
<text x="122.6" y="2.9" font-size="13.7" fill="#111" stroke="#111" stroke-width=".25">0%</text>
<text x="-.9" y="16.3" font-size="13.7" fill="#d0554c" stroke="#d0554c" stroke-width=".25" text-anchor="middle">40%</text>
<text x="56.8" y="17.7" font-size="16.2" fill="#e02818" stroke="#e02818" stroke-width=".45" font-weight="bold" text-anchor="middle">MCC</text>
<text x="109.6" y="16.3" font-size="13.7" fill="#d0554c" stroke="#d0554c" stroke-width=".25" text-anchor="middle">90%</text>
<rect x="-8.9" y="34.2" width="127.7" height="13.4" fill="url(#jet)"/><use href="#cbt"/>
<text x="-12.4" y="58" font-size="10.9" fill="#111" stroke="#111" stroke-width=".25">10</text>
<text x="110.8" y="58" font-size="10.9" fill="#111" stroke="#111" stroke-width=".25">80</text>
<text x="55.4" y="70.3" font-size="11.4" fill="#111" stroke="#111" stroke-width=".25" text-anchor="middle">DT (s)</text>
</g>
<defs><linearGradient id="g125"><stop offset="0" stop-color="#7c0000"/><stop offset=".078" stop-color="#810000"/><stop offset=".234" stop-color="#d60800"/><stop offset=".351" stop-color="#d66200"/><stop offset=".429" stop-color="#d6c700"/><stop offset=".468" stop-color="#bfd618"/><stop offset=".623" stop-color="#36d6a0"/><stop offset=".727" stop-color="#00d0d6"/><stop offset="1" stop-color="#005ad6"/></linearGradient><linearGradient id="g126"><stop offset="0" stop-color="#7c0000"/><stop offset=".078" stop-color="#810000"/><stop offset=".234" stop-color="#d60800"/><stop offset=".351" stop-color="#d66200"/><stop offset=".429" stop-color="#d6c700"/><stop offset=".468" stop-color="#bfd618"/><stop offset=".623" stop-color="#36d6a0"/><stop offset=".727" stop-color="#00d0d6"/><stop offset="1" stop-color="#005ad6"/></linearGradient><linearGradient id="g127"><stop offset="0" stop-color="#870000"/><stop offset=".091" stop-color="#950000"/><stop offset=".221" stop-color="#d60a00"/><stop offset=".338" stop-color="#d66700"/><stop offset=".416" stop-color="#d6c900"/><stop offset=".455" stop-color="#bcd61a"/><stop offset=".61" stop-color="#35d6a1"/><stop offset=".714" stop-color="#00d0d6"/><stop offset="1" stop-color="#0059d6"/></linearGradient><linearGradient id="g128"><stop offset="0" stop-color="#9c0000"/><stop offset=".091" stop-color="#a80000"/><stop offset=".195" stop-color="#d60900"/><stop offset=".312" stop-color="#d65d00"/><stop offset=".39" stop-color="#d6c100"/><stop offset=".429" stop-color="#c5d611"/><stop offset=".597" stop-color="#33d6a3"/><stop offset=".701" stop-color="#00cfd6"/><stop offset="1" stop-color="#0057d6"/></linearGradient><linearGradient id="g129"><stop offset="0" stop-color="#b20000"/><stop offset=".104" stop-color="#c10000"/><stop offset=".169" stop-color="#d60b00"/><stop offset=".299" stop-color="#d66e00"/><stop offset=".377" stop-color="#d6cb00"/><stop offset=".429" stop-color="#b0d626"/><stop offset=".597" stop-color="#28d6ae"/><stop offset=".688" stop-color="#00ccd6"/><stop offset=".974" stop-color="#0058d6"/><stop offset="1" stop-color="#0057d6"/></linearGradient><linearGradient id="g130"><stop offset="0" stop-color="#c70000"/><stop offset=".13" stop-color="#d60b00"/><stop offset=".26" stop-color="#d65f00"/><stop offset=".338" stop-color="#d6bf00"/><stop offset=".377" stop-color="#c9d60d"/><stop offset=".558" stop-color="#32d6a4"/><stop offset=".662" stop-color="#00cfd6"/><stop offset=".961" stop-color="#0058d6"/><stop offset="1" stop-color="#0057d6"/></linearGradient><linearGradient id="g131"><stop offset="0" stop-color="#d60600"/><stop offset=".104" stop-color="#d61500"/><stop offset=".234" stop-color="#d66900"/><stop offset=".325" stop-color="#d6ce00"/><stop offset=".558" stop-color="#24d6b2"/><stop offset=".636" stop-color="#00d0d6"/><stop offset=".935" stop-color="#0058d6"/><stop offset="1" stop-color="#0057d6"/></linearGradient><linearGradient id="g132"><stop offset="0" stop-color="#d61f00"/><stop offset=".093" stop-color="#d62900"/><stop offset=".2" stop-color="#d66700"/><stop offset=".293" stop-color="#d6c800"/><stop offset=".36" stop-color="#abd62b"/><stop offset=".547" stop-color="#24d6b2"/><stop offset=".627" stop-color="#00d0d6"/><stop offset=".933" stop-color="#0058d6"/><stop offset="1" stop-color="#0058d6"/></linearGradient><linearGradient id="g133"><stop offset="0" stop-color="#d63a00"/><stop offset=".111" stop-color="#d64900"/><stop offset=".181" stop-color="#d67900"/><stop offset=".278" stop-color="#d6d000"/><stop offset=".542" stop-color="#23d6b3"/><stop offset=".625" stop-color="#00d0d6"/><stop offset=".944" stop-color="#0059d6"/><stop offset="1" stop-color="#0059d6"/></linearGradient><linearGradient id="g134"><stop offset="0" stop-color="#d65500"/><stop offset=".101" stop-color="#d66100"/><stop offset=".261" stop-color="#d2d604"/><stop offset=".507" stop-color="#2ed6a8"/><stop offset=".623" stop-color="#00cfd6"/><stop offset=".957" stop-color="#005ed6"/><stop offset="1" stop-color="#005ed6"/></linearGradient><linearGradient id="g135"><stop offset="0" stop-color="#d68400"/><stop offset=".091" stop-color="#d68d00"/><stop offset=".227" stop-color="#cfd607"/><stop offset=".515" stop-color="#25d6b2"/><stop offset=".621" stop-color="#00cdd6"/><stop offset=".955" stop-color="#0064d6"/><stop offset="1" stop-color="#0064d6"/></linearGradient><linearGradient id="g136"><stop offset="0" stop-color="#d6b400"/><stop offset=".111" stop-color="#d6bf00"/><stop offset=".19" stop-color="#c8d60e"/><stop offset=".524" stop-color="#1ad6bc"/><stop offset=".619" stop-color="#00cbd6"/><stop offset=".952" stop-color="#0068d6"/><stop offset="1" stop-color="#0068d6"/></linearGradient><linearGradient id="g137"><stop offset="0" stop-color="#d5d601"/><stop offset=".117" stop-color="#cad60c"/><stop offset=".55" stop-color="#09d6cd"/><stop offset=".95" stop-color="#006dd6"/><stop offset="1" stop-color="#006dd6"/></linearGradient><linearGradient id="g138"><stop offset="0" stop-color="#b2d625"/><stop offset=".123" stop-color="#a7d62f"/><stop offset=".561" stop-color="#00d4d6"/><stop offset=".947" stop-color="#0070d6"/><stop offset="1" stop-color="#0070d6"/></linearGradient><linearGradient id="g139"><stop offset="0" stop-color="#8ed648"/><stop offset=".132" stop-color="#83d653"/><stop offset=".547" stop-color="#00d1d6"/><stop offset=".943" stop-color="#0073d6"/><stop offset="1" stop-color="#0073d6"/></linearGradient><linearGradient id="g140"><stop offset="0" stop-color="#6ed668"/><stop offset=".16" stop-color="#61d675"/><stop offset=".52" stop-color="#00d1d6"/><stop offset=".94" stop-color="#0076d6"/><stop offset="1" stop-color="#0076d6"/></linearGradient><linearGradient id="g141"><stop offset="0" stop-color="#52d685"/><stop offset=".17" stop-color="#45d692"/><stop offset=".489" stop-color="#00d0d6"/><stop offset=".936" stop-color="#0078d6"/><stop offset="1" stop-color="#0078d6"/></linearGradient><linearGradient id="g142"><stop offset="0" stop-color="#36d6a0"/><stop offset=".25" stop-color="#21d6b5"/><stop offset=".455" stop-color="#00cdd6"/><stop offset=".932" stop-color="#0079d6"/><stop offset="1" stop-color="#0079d6"/></linearGradient><linearGradient id="g143"><stop offset="0" stop-color="#21d6b5"/><stop offset=".268" stop-color="#0dd6ca"/><stop offset=".512" stop-color="#00bbd6"/><stop offset=".927" stop-color="#0079d6"/><stop offset="1" stop-color="#0079d6"/></linearGradient><linearGradient id="g144"><stop offset="0" stop-color="#0cd6ca"/><stop offset=".316" stop-color="#00ccd6"/><stop offset=".947" stop-color="#0079d6"/><stop offset="1" stop-color="#0079d6"/></linearGradient><linearGradient id="g145"><stop offset="0" stop-color="#00cfd6"/><stop offset=".4" stop-color="#00b7d6"/><stop offset=".943" stop-color="#0078d6"/><stop offset="1" stop-color="#0078d6"/></linearGradient><linearGradient id="g146"><stop offset="0" stop-color="#00bfd6"/><stop offset=".469" stop-color="#00a4d6"/><stop offset=".937" stop-color="#0076d6"/><stop offset="1" stop-color="#0076d6"/></linearGradient><linearGradient id="g147"><stop offset="0" stop-color="#00b0d6"/><stop offset=".5" stop-color="#0097d6"/><stop offset=".964" stop-color="#0074d6"/><stop offset="1" stop-color="#0074d6"/></linearGradient><linearGradient id="g148"><stop offset="0" stop-color="#00a0d6"/><stop offset=".6" stop-color="#0085d6"/><stop offset="1" stop-color="#0071d6"/></linearGradient><linearGradient id="g149"><stop offset="0" stop-color="#0090d6"/><stop offset="1" stop-color="#006dd6"/></linearGradient><linearGradient id="g150"><stop offset="0" stop-color="#0081d6"/><stop offset="1" stop-color="#0068d6"/></linearGradient><linearGradient id="g151"><stop offset="0" stop-color="#0071d6"/><stop offset="1" stop-color="#0062d6"/></linearGradient><linearGradient id="g152"><stop offset="0" stop-color="#0062d6"/><stop offset="1" stop-color="#005bd6"/></linearGradient><linearGradient id="g153"><stop offset="0" stop-color="#0058d6"/><stop offset="1" stop-color="#0058d6"/></linearGradient><linearGradient id="g154"><stop offset="0" stop-color="#0057d6"/><stop offset="1" stop-color="#0057d6"/></linearGradient><linearGradient id="g155"><stop offset="0" stop-color="#0057d6"/><stop offset="1" stop-color="#0057d6"/></linearGradient><clipPath id="cr0c3"><polygon points="4.1,-2 62.6,-102.6 111.7,-19.5 101.6,-2"/></clipPath></defs>
<g transform="translate(933.9 223)">
<polygon points="0,0 62.3,-107 114,-19.5 102.8,0" fill="#3e3e3e" stroke="#3e3e3e" stroke-width="1" stroke-linejoin="miter" stroke-miterlimit="6"/>
<g clip-path="url(#cr0c3)"><g filter="url(#vb)"><rect x="-8.2" y="4" width="116.8" height="4.6" fill="url(#g125)"/><rect x="-8.2" y="0" width="116.8" height="4.6" fill="url(#g126)"/><rect x="-5.8" y="-4" width="116.8" height="4.6" fill="url(#g127)"/><rect x="-3.5" y="-8" width="116.8" height="4.6" fill="url(#g128)"/><rect x="-1.2" y="-12" width="116.7" height="4.6" fill="url(#g129)"/><rect x="1.2" y="-16" width="116.7" height="4.6" fill="url(#g130)"/><rect x="3.5" y="-20" width="116.7" height="4.6" fill="url(#g131)"/><rect x="5.8" y="-24" width="113.7" height="4.6" fill="url(#g132)"/><rect x="8.1" y="-28" width="109" height="4.6" fill="url(#g133)"/><rect x="10.5" y="-32" width="104.3" height="4.6" fill="url(#g134)"/><rect x="12.8" y="-36" width="99.6" height="4.6" fill="url(#g135)"/><rect x="15.1" y="-40" width="94.9" height="4.6" fill="url(#g136)"/><rect x="17.5" y="-44" width="90.3" height="4.6" fill="url(#g137)"/><rect x="19.8" y="-48" width="85.6" height="4.6" fill="url(#g138)"/><rect x="22.1" y="-52" width="80.9" height="4.6" fill="url(#g139)"/><rect x="24.4" y="-56" width="76.2" height="4.6" fill="url(#g140)"/><rect x="26.8" y="-60" width="71.5" height="4.6" fill="url(#g141)"/><rect x="29.1" y="-64" width="66.8" height="4.6" fill="url(#g142)"/><rect x="31.4" y="-68" width="62.1" height="4.6" fill="url(#g143)"/><rect x="33.8" y="-72" width="57.4" height="4.6" fill="url(#g144)"/><rect x="36.1" y="-76" width="52.7" height="4.6" fill="url(#g145)"/><rect x="38.4" y="-80" width="48" height="4.6" fill="url(#g146)"/><rect x="40.7" y="-84" width="43.3" height="4.6" fill="url(#g147)"/><rect x="43.1" y="-88" width="38.6" height="4.6" fill="url(#g148)"/><rect x="45.4" y="-92" width="33.9" height="4.6" fill="url(#g149)"/><rect x="47.7" y="-96" width="29.3" height="4.6" fill="url(#g150)"/><rect x="50.1" y="-100" width="24.6" height="4.6" fill="url(#g151)"/><rect x="52.4" y="-104" width="19.9" height="4.6" fill="url(#g152)"/><rect x="54.7" y="-108" width="15.2" height="4.6" fill="url(#g153)"/><rect x="56.5" y="-112" width="15" height="4.6" fill="url(#g154)"/><rect x="56.5" y="-116" width="15" height="4.6" fill="url(#g155)"/></g><use href="#meshg"/></g>
<text x="54.5" y="-104.1" font-size="13.7" fill="#3348ad" stroke="#3348ad" stroke-width=".25" text-anchor="end">0%</text>
<text x="71.9" y="-104.1" font-size="13.7" fill="#111" stroke="#111" stroke-width=".25">60%</text>
<text x="-.6" y="-53.6" font-size="15.5" fill="#1f30b4" stroke="#1f30b4" stroke-width=".45" font-weight="bold" text-anchor="middle">CS</text>
<text x="122.9" y="-58.7" font-size="14.9" fill="#111" stroke="#111" stroke-width=".45" font-weight="bold" text-anchor="middle">LAC</text>
<text x="-.2" y="-4" font-size="13.7" fill="#3348ad" stroke="#3348ad" stroke-width=".25" text-anchor="end">60%</text>
<text x="122.6" y="2.9" font-size="13.7" fill="#111" stroke="#111" stroke-width=".25">0%</text>
<text x="-.9" y="16.3" font-size="13.7" fill="#d0554c" stroke="#d0554c" stroke-width=".25" text-anchor="middle">40%</text>
<text x="56.8" y="17.7" font-size="16.2" fill="#e02818" stroke="#e02818" stroke-width=".45" font-weight="bold" text-anchor="middle">MCC</text>
<text x="109.6" y="16.3" font-size="13.7" fill="#d0554c" stroke="#d0554c" stroke-width=".25" text-anchor="middle">90%</text>
<rect x="-8.9" y="34.2" width="127.7" height="13.4" fill="url(#jet)"/><use href="#cbt"/>
<text x="-12.4" y="58" font-size="10.9" fill="#111" stroke="#111" stroke-width=".25">10</text>
<text x="110.8" y="58" font-size="10.9" fill="#111" stroke="#111" stroke-width=".25">50</text>
<text x="55.4" y="70.3" font-size="11.4" fill="#111" stroke="#111" stroke-width=".25" text-anchor="middle">DT (s)</text>
</g>
<defs><linearGradient id="g156"><stop offset="0" stop-color="#940000"/><stop offset=".091" stop-color="#9f0000"/><stop offset=".195" stop-color="#d60500"/><stop offset=".351" stop-color="#d66c00"/><stop offset=".506" stop-color="#d6ae00"/><stop offset=".857" stop-color="#d6d600"/><stop offset=".922" stop-color="#d6c900"/><stop offset=".935" stop-color="#00009f"/><stop offset="1" stop-color="#00009f"/></linearGradient><linearGradient id="g157"><stop offset="0" stop-color="#940000"/><stop offset=".091" stop-color="#9f0000"/><stop offset=".195" stop-color="#d60500"/><stop offset=".351" stop-color="#d66c00"/><stop offset=".506" stop-color="#d6ae00"/><stop offset=".857" stop-color="#d6d600"/><stop offset=".922" stop-color="#d6c900"/><stop offset=".935" stop-color="#00009f"/><stop offset="1" stop-color="#00009f"/></linearGradient><linearGradient id="g158"><stop offset="0" stop-color="#970000"/><stop offset=".078" stop-color="#a10000"/><stop offset=".182" stop-color="#d60800"/><stop offset=".338" stop-color="#d66d00"/><stop offset=".481" stop-color="#d6ab00"/><stop offset=".844" stop-color="#ced608"/><stop offset=".909" stop-color="#d6cd00"/><stop offset=".922" stop-color="#00009f"/><stop offset="1" stop-color="#00009f"/></linearGradient><linearGradient id="g159"><stop offset="0" stop-color="#a50000"/><stop offset=".078" stop-color="#ae0000"/><stop offset=".156" stop-color="#d60700"/><stop offset=".312" stop-color="#d66f00"/><stop offset=".468" stop-color="#d6b400"/><stop offset=".74" stop-color="#cad60c"/><stop offset=".818" stop-color="#92d644"/><stop offset=".831" stop-color="#75d661"/><stop offset=".857" stop-color="#05d6d1"/><stop offset=".87" stop-color="#0075d6"/><stop offset=".883" stop-color="#0000b6"/><stop offset=".896" stop-color="#0000a1"/><stop offset="1" stop-color="#0000a1"/></linearGradient><linearGradient id="g160"><stop offset="0" stop-color="#b90000"/><stop offset=".078" stop-color="#c20000"/><stop offset=".13" stop-color="#d60b00"/><stop offset=".299" stop-color="#d67f00"/><stop offset=".481" stop-color="#d6d600"/><stop offset=".701" stop-color="#93d643"/><stop offset=".753" stop-color="#44d692"/><stop offset=".779" stop-color="#07d6cf"/><stop offset=".792" stop-color="#00b6d6"/><stop offset=".818" stop-color="#0043d6"/><stop offset=".831" stop-color="#0000ce"/><stop offset=".844" stop-color="#0000af"/><stop offset=".883" stop-color="#0000a3"/><stop offset="1" stop-color="#0000a3"/></linearGradient><linearGradient id="g161"><stop offset="0" stop-color="#d10000"/><stop offset=".091" stop-color="#d60c00"/><stop offset=".325" stop-color="#d6b800"/><stop offset=".39" stop-color="#cad60c"/><stop offset=".623" stop-color="#58d67f"/><stop offset=".714" stop-color="#00cdd6"/><stop offset=".753" stop-color="#0068d6"/><stop offset=".779" stop-color="#000cd6"/><stop offset=".805" stop-color="#0000af"/><stop offset=".857" stop-color="#0000a4"/><stop offset="1" stop-color="#0000a4"/></linearGradient><linearGradient id="g162"><stop offset="0" stop-color="#d61900"/><stop offset=".078" stop-color="#d62500"/><stop offset=".273" stop-color="#d6c900"/><stop offset=".325" stop-color="#c1d615"/><stop offset=".468" stop-color="#3ed698"/><stop offset=".597" stop-color="#00d6d6"/><stop offset=".675" stop-color="#0081d6"/><stop offset=".727" stop-color="#001ad6"/><stop offset=".74" stop-color="#0000c9"/><stop offset=".792" stop-color="#0000a6"/><stop offset="1" stop-color="#0000a6"/></linearGradient><linearGradient id="g163"><stop offset="0" stop-color="#d64600"/><stop offset=".08" stop-color="#d65300"/><stop offset=".227" stop-color="#d1d605"/><stop offset=".453" stop-color="#00d0d6"/><stop offset=".6" stop-color="#0075d6"/><stop offset=".693" stop-color="#0000d5"/><stop offset=".72" stop-color="#0000bc"/><stop offset=".8" stop-color="#00a"/><stop offset="1" stop-color="#0000b0"/></linearGradient><linearGradient id="g164"><stop offset="0" stop-color="#d67400"/><stop offset=".069" stop-color="#d67800"/><stop offset=".167" stop-color="#d6d300"/><stop offset=".292" stop-color="#57d680"/><stop offset=".389" stop-color="#00d3d6"/><stop offset=".486" stop-color="#0062d6"/><stop offset=".611" stop-color="#0017d6"/><stop offset=".653" stop-color="#0000c3"/><stop offset=".778" stop-color="#0000af"/><stop offset="1" stop-color="#0000c3"/></linearGradient><linearGradient id="g165"><stop offset="0" stop-color="#d6a600"/><stop offset=".072" stop-color="#d6aa00"/><stop offset=".116" stop-color="#d6d200"/><stop offset=".246" stop-color="#44d692"/><stop offset=".333" stop-color="#00d0d6"/><stop offset=".522" stop-color="#0000d6"/><stop offset=".681" stop-color="#0000b2"/><stop offset="1" stop-color="#0000d5"/></linearGradient><linearGradient id="g166"><stop offset="0" stop-color="#c8d60e"/><stop offset=".076" stop-color="#c4d612"/><stop offset=".258" stop-color="#06d6d0"/><stop offset=".394" stop-color="#005cd6"/><stop offset=".47" stop-color="#0007d6"/><stop offset=".561" stop-color="#0000b7"/><stop offset=".727" stop-color="#0000b4"/><stop offset=".879" stop-color="#000bd6"/><stop offset="1" stop-color="#0012d6"/></linearGradient><linearGradient id="g167"><stop offset="0" stop-color="#a7d62f"/><stop offset=".079" stop-color="#a3d633"/><stop offset=".222" stop-color="#00d3d6"/><stop offset=".444" stop-color="#0000ce"/><stop offset=".603" stop-color="#0000ae"/><stop offset=".778" stop-color="#0000ca"/><stop offset=".873" stop-color="#001bd6"/><stop offset="1" stop-color="#0025d6"/></linearGradient><linearGradient id="g168"><stop offset="0" stop-color="#94d642"/><stop offset=".083" stop-color="#91d646"/><stop offset=".183" stop-color="#1ad6bc"/><stop offset=".2" stop-color="#02d6d5"/><stop offset=".3" stop-color="#005fd6"/><stop offset=".4" stop-color="#0000d5"/><stop offset=".567" stop-color="#0000b0"/><stop offset=".75" stop-color="#0000c8"/><stop offset=".817" stop-color="#000fd6"/><stop offset=".933" stop-color="#002fd6"/><stop offset="1" stop-color="#002fd6"/></linearGradient><linearGradient id="g169"><stop offset="0" stop-color="#86d650"/><stop offset=".088" stop-color="#83d654"/><stop offset=".158" stop-color="#32d6a4"/><stop offset=".193" stop-color="#00d3d6"/><stop offset=".281" stop-color="#0054d6"/><stop offset=".368" stop-color="#0000d1"/><stop offset=".561" stop-color="#0000b2"/><stop offset=".737" stop-color="#0000ca"/><stop offset=".825" stop-color="#0018d6"/><stop offset=".947" stop-color="#0030d6"/><stop offset="1" stop-color="#0030d6"/></linearGradient><linearGradient id="g170"><stop offset="0" stop-color="#7bd65b"/><stop offset=".094" stop-color="#76d660"/><stop offset=".151" stop-color="#38d69f"/><stop offset=".189" stop-color="#00d4d6"/><stop offset=".302" stop-color="#0025d6"/><stop offset=".358" stop-color="#0000d3"/><stop offset=".528" stop-color="#0000b3"/><stop offset=".717" stop-color="#0000ca"/><stop offset=".811" stop-color="#0019d6"/><stop offset=".943" stop-color="#0032d6"/><stop offset="1" stop-color="#0032d6"/></linearGradient><linearGradient id="g171"><stop offset="0" stop-color="#4fd687"/><stop offset=".1" stop-color="#4ad68c"/><stop offset=".16" stop-color="#0ed6c8"/><stop offset=".2" stop-color="#00abd6"/><stop offset=".3" stop-color="#001ad6"/><stop offset=".38" stop-color="#00c"/><stop offset=".52" stop-color="#0000b6"/><stop offset=".76" stop-color="#000bd6"/><stop offset=".9" stop-color="#0033d6"/><stop offset="1" stop-color="#0034d6"/></linearGradient><linearGradient id="g172"><stop offset="0" stop-color="#26d6b1"/><stop offset=".106" stop-color="#21d6b5"/><stop offset=".149" stop-color="#04d6d3"/><stop offset=".277" stop-color="#0031d6"/><stop offset=".362" stop-color="#0000d5"/><stop offset=".489" stop-color="#0000b9"/><stop offset=".681" stop-color="#0000ce"/><stop offset=".915" stop-color="#0035d6"/><stop offset="1" stop-color="#0035d6"/></linearGradient><linearGradient id="g173"><stop offset="0" stop-color="#00d6d6"/><stop offset=".114" stop-color="#00d2d6"/><stop offset=".182" stop-color="#00a2d6"/><stop offset=".273" stop-color="#003cd6"/><stop offset=".386" stop-color="#0000d2"/><stop offset=".523" stop-color="#0000bd"/><stop offset=".705" stop-color="#0007d6"/><stop offset=".886" stop-color="#0037d6"/><stop offset="1" stop-color="#0037d6"/></linearGradient><linearGradient id="g174"><stop offset="0" stop-color="#00aed6"/><stop offset=".122" stop-color="#00aad6"/><stop offset=".366" stop-color="#000ed6"/><stop offset=".488" stop-color="#0000c4"/><stop offset=".683" stop-color="#0009d6"/><stop offset=".878" stop-color="#0038d6"/><stop offset="1" stop-color="#0038d6"/></linearGradient><linearGradient id="g175"><stop offset="0" stop-color="#0079d6"/><stop offset=".132" stop-color="#0075d6"/><stop offset=".421" stop-color="#0000d5"/><stop offset=".579" stop-color="#0000d1"/><stop offset=".868" stop-color="#003ad6"/><stop offset="1" stop-color="#003ad6"/></linearGradient><linearGradient id="g176"><stop offset="0" stop-color="#0051d6"/><stop offset=".2" stop-color="#0047d6"/><stop offset=".457" stop-color="#0000d6"/><stop offset=".657" stop-color="#0015d6"/><stop offset=".857" stop-color="#003cd6"/><stop offset="1" stop-color="#003cd6"/></linearGradient><linearGradient id="g177"><stop offset="0" stop-color="#0038d6"/><stop offset=".25" stop-color="#002cd6"/><stop offset=".5" stop-color="#0009d6"/><stop offset=".875" stop-color="#003dd6"/><stop offset="1" stop-color="#003dd6"/></linearGradient><linearGradient id="g178"><stop offset="0" stop-color="#0021d6"/><stop offset=".5" stop-color="#0014d6"/><stop offset=".857" stop-color="#003fd6"/><stop offset="1" stop-color="#003fd6"/></linearGradient><linearGradient id="g179"><stop offset="0" stop-color="#000cd6"/><stop offset=".44" stop-color="#0014d6"/><stop offset=".84" stop-color="#0041d6"/><stop offset="1" stop-color="#0041d6"/></linearGradient><linearGradient id="g180"><stop offset="0" stop-color="#0000d2"/><stop offset=".364" stop-color="#0009d6"/><stop offset=".773" stop-color="#0042d6"/><stop offset="1" stop-color="#0042d6"/></linearGradient><linearGradient id="g181"><stop offset="0" stop-color="#0008d6"/><stop offset=".316" stop-color="#0012d6"/><stop offset=".737" stop-color="#0043d6"/><stop offset="1" stop-color="#0044d6"/></linearGradient><linearGradient id="g182"><stop offset="0" stop-color="#0020d6"/><stop offset=".375" stop-color="#002cd6"/><stop offset=".812" stop-color="#0045d6"/><stop offset="1" stop-color="#0045d6"/></linearGradient><linearGradient id="g183"><stop offset="0" stop-color="#0039d6"/><stop offset="1" stop-color="#0047d6"/></linearGradient><linearGradient id="g184"><stop offset="0" stop-color="#0048d6"/><stop offset="1" stop-color="#0048d6"/></linearGradient><linearGradient id="g185"><stop offset="0" stop-color="#0049d6"/><stop offset="1" stop-color="#0049d6"/></linearGradient><linearGradient id="g186"><stop offset="0" stop-color="#0049d6"/><stop offset="1" stop-color="#0049d6"/></linearGradient><clipPath id="cr0c4"><polygon points="4.3,-2.5 62.9,-103 112.3,-19.5 102.5,-2.5"/></clipPath></defs>
<g transform="translate(1127.8 223)">
<polygon points="0,0 62.3,-107 114,-19.5 102.8,0" fill="#3e3e3e" stroke="#3e3e3e" stroke-width="1" stroke-linejoin="miter" stroke-miterlimit="6"/>
<g clip-path="url(#cr0c4)"><g filter="url(#vb)"><rect x="-8.2" y="4" width="116.8" height="4.6" fill="url(#g156)"/><rect x="-8.2" y="0" width="116.8" height="4.6" fill="url(#g157)"/><rect x="-5.8" y="-4" width="116.8" height="4.6" fill="url(#g158)"/><rect x="-3.5" y="-8" width="116.8" height="4.6" fill="url(#g159)"/><rect x="-1.2" y="-12" width="116.7" height="4.6" fill="url(#g160)"/><rect x="1.2" y="-16" width="116.7" height="4.6" fill="url(#g161)"/><rect x="3.5" y="-20" width="116.7" height="4.6" fill="url(#g162)"/><rect x="5.8" y="-24" width="113.7" height="4.6" fill="url(#g163)"/><rect x="8.1" y="-28" width="109" height="4.6" fill="url(#g164)"/><rect x="10.5" y="-32" width="104.3" height="4.6" fill="url(#g165)"/><rect x="12.8" y="-36" width="99.6" height="4.6" fill="url(#g166)"/><rect x="15.1" y="-40" width="94.9" height="4.6" fill="url(#g167)"/><rect x="17.5" y="-44" width="90.3" height="4.6" fill="url(#g168)"/><rect x="19.8" y="-48" width="85.6" height="4.6" fill="url(#g169)"/><rect x="22.1" y="-52" width="80.9" height="4.6" fill="url(#g170)"/><rect x="24.4" y="-56" width="76.2" height="4.6" fill="url(#g171)"/><rect x="26.8" y="-60" width="71.5" height="4.6" fill="url(#g172)"/><rect x="29.1" y="-64" width="66.8" height="4.6" fill="url(#g173)"/><rect x="31.4" y="-68" width="62.1" height="4.6" fill="url(#g174)"/><rect x="33.8" y="-72" width="57.4" height="4.6" fill="url(#g175)"/><rect x="36.1" y="-76" width="52.7" height="4.6" fill="url(#g176)"/><rect x="38.4" y="-80" width="48" height="4.6" fill="url(#g177)"/><rect x="40.7" y="-84" width="43.3" height="4.6" fill="url(#g178)"/><rect x="43.1" y="-88" width="38.6" height="4.6" fill="url(#g179)"/><rect x="45.4" y="-92" width="33.9" height="4.6" fill="url(#g180)"/><rect x="47.7" y="-96" width="29.3" height="4.6" fill="url(#g181)"/><rect x="50.1" y="-100" width="24.6" height="4.6" fill="url(#g182)"/><rect x="52.4" y="-104" width="19.9" height="4.6" fill="url(#g183)"/><rect x="54.7" y="-108" width="15.2" height="4.6" fill="url(#g184)"/><rect x="56.5" y="-112" width="15" height="4.6" fill="url(#g185)"/><rect x="56.5" y="-116" width="15" height="4.6" fill="url(#g186)"/></g><use href="#meshg"/></g>
<text x="54.5" y="-104.1" font-size="13.7" fill="#3348ad" stroke="#3348ad" stroke-width=".25" text-anchor="end">0%</text>
<text x="71.9" y="-104.1" font-size="13.7" fill="#111" stroke="#111" stroke-width=".25">60%</text>
<text x="-.6" y="-53.6" font-size="15.5" fill="#1f30b4" stroke="#1f30b4" stroke-width=".45" font-weight="bold" text-anchor="middle">CS</text>
<text x="122.9" y="-58.7" font-size="14.9" fill="#111" stroke="#111" stroke-width=".45" font-weight="bold" text-anchor="middle">LAC</text>
<text x="-.2" y="-4" font-size="13.7" fill="#3348ad" stroke="#3348ad" stroke-width=".25" text-anchor="end">60%</text>
<text x="122.6" y="2.9" font-size="13.7" fill="#111" stroke="#111" stroke-width=".25">0%</text>
<text x="-.9" y="16.3" font-size="13.7" fill="#d0554c" stroke="#d0554c" stroke-width=".25" text-anchor="middle">40%</text>
<text x="56.8" y="17.7" font-size="16.2" fill="#e02818" stroke="#e02818" stroke-width=".45" font-weight="bold" text-anchor="middle">MCC</text>
<text x="109.6" y="16.3" font-size="13.7" fill="#d0554c" stroke="#d0554c" stroke-width=".25" text-anchor="middle">90%</text>
<rect x="-8.9" y="34.2" width="127.7" height="13.4" fill="url(#jet)"/><use href="#cbt"/>
<text x="-12.4" y="58" font-size="10.9" fill="#111" stroke="#111" stroke-width=".25">14</text>
<text x="110.8" y="58" font-size="10.9" fill="#111" stroke="#111" stroke-width=".25">34</text>
<text x="55.4" y="70.3" font-size="11.4" fill="#111" stroke="#111" stroke-width=".25" text-anchor="middle">DT (s)</text>
</g>
<defs><linearGradient id="g187"><stop offset="0" stop-color="#6b0000"/><stop offset=".091" stop-color="#760000"/><stop offset=".26" stop-color="#d60800"/><stop offset=".299" stop-color="#d63700"/><stop offset=".377" stop-color="#d6b300"/><stop offset=".416" stop-color="#cfd607"/><stop offset=".571" stop-color="#3cd69b"/><stop offset=".766" stop-color="#04d6d2"/><stop offset="1" stop-color="#04d6d2"/></linearGradient><linearGradient id="g188"><stop offset="0" stop-color="#6b0000"/><stop offset=".091" stop-color="#760000"/><stop offset=".26" stop-color="#d60800"/><stop offset=".299" stop-color="#d63700"/><stop offset=".377" stop-color="#d6b300"/><stop offset=".416" stop-color="#cfd607"/><stop offset=".571" stop-color="#3cd69b"/><stop offset=".766" stop-color="#04d6d2"/><stop offset="1" stop-color="#04d6d2"/></linearGradient><linearGradient id="g189"><stop offset="0" stop-color="#710000"/><stop offset=".078" stop-color="#7a0000"/><stop offset=".234" stop-color="#d60300"/><stop offset=".26" stop-color="#d61500"/><stop offset=".351" stop-color="#d6ab00"/><stop offset=".39" stop-color="#d5d602"/><stop offset=".545" stop-color="#3ed698"/><stop offset=".727" stop-color="#08d6ce"/><stop offset="1" stop-color="#04d6d2"/></linearGradient><linearGradient id="g190"><stop offset="0" stop-color="#7c0000"/><stop offset=".078" stop-color="#860000"/><stop offset=".221" stop-color="#d60900"/><stop offset=".26" stop-color="#d63900"/><stop offset=".325" stop-color="#d6a400"/><stop offset=".364" stop-color="#d6d300"/><stop offset=".532" stop-color="#3bd69b"/><stop offset=".727" stop-color="#04d6d2"/><stop offset="1" stop-color="#04d6d2"/></linearGradient><linearGradient id="g191"><stop offset="0" stop-color="#800"/><stop offset=".078" stop-color="#910000"/><stop offset=".195" stop-color="#d60500"/><stop offset=".221" stop-color="#d61800"/><stop offset=".312" stop-color="#d6ae00"/><stop offset=".351" stop-color="#d3d604"/><stop offset=".506" stop-color="#3cd69a"/><stop offset=".688" stop-color="#06d6d0"/><stop offset="1" stop-color="#04d6d2"/></linearGradient><linearGradient id="g192"><stop offset="0" stop-color="#940000"/><stop offset=".078" stop-color="#9d0000"/><stop offset=".182" stop-color="#d60c00"/><stop offset=".221" stop-color="#d63c00"/><stop offset=".286" stop-color="#d6a800"/><stop offset=".325" stop-color="#d6d600"/><stop offset=".494" stop-color="#38d69e"/><stop offset=".688" stop-color="#01d6d5"/><stop offset="1" stop-color="#02d6d4"/></linearGradient><linearGradient id="g193"><stop offset="0" stop-color="#a00000"/><stop offset=".078" stop-color="#a00"/><stop offset=".156" stop-color="#d60900"/><stop offset=".195" stop-color="#d63400"/><stop offset=".273" stop-color="#d6b200"/><stop offset=".312" stop-color="#cfd608"/><stop offset=".468" stop-color="#39d69e"/><stop offset=".649" stop-color="#03d6d4"/><stop offset="1" stop-color="#00d6d6"/></linearGradient><linearGradient id="g194"><stop offset="0" stop-color="#ae0000"/><stop offset=".08" stop-color="#ba0000"/><stop offset=".133" stop-color="#d60800"/><stop offset=".173" stop-color="#d62c00"/><stop offset=".253" stop-color="#d6ad00"/><stop offset=".293" stop-color="#d1d605"/><stop offset=".467" stop-color="#33d6a3"/><stop offset=".653" stop-color="#00d5d6"/><stop offset="1" stop-color="#00d3d6"/></linearGradient><linearGradient id="g195"><stop offset="0" stop-color="#be0000"/><stop offset=".083" stop-color="#ca0000"/><stop offset=".153" stop-color="#d62400"/><stop offset=".25" stop-color="#d6b800"/><stop offset=".278" stop-color="#d5d601"/><stop offset=".458" stop-color="#33d6a3"/><stop offset=".639" stop-color="#00d6d6"/><stop offset="1" stop-color="#00d0d6"/></linearGradient><linearGradient id="g196"><stop offset="0" stop-color="#cf0000"/><stop offset=".087" stop-color="#d60500"/><stop offset=".145" stop-color="#d63300"/><stop offset=".232" stop-color="#d6b400"/><stop offset=".275" stop-color="#cbd60b"/><stop offset=".464" stop-color="#2dd6a9"/><stop offset=".638" stop-color="#00d4d6"/><stop offset="1" stop-color="#00cdd6"/></linearGradient><linearGradient id="g197"><stop offset="0" stop-color="#d60b00"/><stop offset=".091" stop-color="#d61700"/><stop offset=".136" stop-color="#d64300"/><stop offset=".227" stop-color="#d6c000"/><stop offset=".273" stop-color="#c1d615"/><stop offset=".455" stop-color="#2cd6aa"/><stop offset=".621" stop-color="#00d5d6"/><stop offset=".939" stop-color="#00c9d6"/><stop offset="1" stop-color="#00c9d6"/></linearGradient><linearGradient id="g198"><stop offset="0" stop-color="#d61d00"/><stop offset=".095" stop-color="#d62900"/><stop offset=".206" stop-color="#d6bd00"/><stop offset=".254" stop-color="#c2d614"/><stop offset=".46" stop-color="#25d6b1"/><stop offset=".619" stop-color="#00d2d6"/><stop offset=".857" stop-color="#00c5d6"/><stop offset="1" stop-color="#00c5d6"/></linearGradient><linearGradient id="g199"><stop offset="0" stop-color="#d62f00"/><stop offset=".083" stop-color="#d63700"/><stop offset=".2" stop-color="#d6ca00"/><stop offset=".25" stop-color="#b8d61e"/><stop offset=".45" stop-color="#23d6b3"/><stop offset=".6" stop-color="#00d1d6"/><stop offset=".817" stop-color="#00c0d6"/><stop offset="1" stop-color="#00c0d6"/></linearGradient><linearGradient id="g200"><stop offset="0" stop-color="#d65700"/><stop offset=".088" stop-color="#d65f00"/><stop offset=".175" stop-color="#d6c800"/><stop offset=".211" stop-color="#c6d610"/><stop offset=".456" stop-color="#1bd6bb"/><stop offset=".579" stop-color="#00d0d6"/><stop offset=".807" stop-color="#00bbd6"/><stop offset="1" stop-color="#00bbd6"/></linearGradient><linearGradient id="g201"><stop offset="0" stop-color="#d68000"/><stop offset=".094" stop-color="#d68a00"/><stop offset=".17" stop-color="#d4d602"/><stop offset=".434" stop-color="#1bd6bb"/><stop offset=".566" stop-color="#00cdd6"/><stop offset=".83" stop-color="#00b5d6"/><stop offset="1" stop-color="#00b5d6"/></linearGradient><linearGradient id="g202"><stop offset="0" stop-color="#d6a900"/><stop offset=".1" stop-color="#d6b300"/><stop offset=".14" stop-color="#d6d601"/><stop offset=".44" stop-color="#12d6c4"/><stop offset=".58" stop-color="#00c6d6"/><stop offset=".84" stop-color="#00afd6"/><stop offset="1" stop-color="#00afd6"/></linearGradient><linearGradient id="g203"><stop offset="0" stop-color="#d6d000"/><stop offset=".106" stop-color="#d6d600"/><stop offset=".426" stop-color="#0ed6c8"/><stop offset=".574" stop-color="#00c0d6"/><stop offset=".872" stop-color="#00a8d6"/><stop offset="1" stop-color="#00a8d6"/></linearGradient><linearGradient id="g204"><stop offset="0" stop-color="#bed619"/><stop offset=".114" stop-color="#b7d61f"/><stop offset=".432" stop-color="#04d6d2"/><stop offset=".818" stop-color="#00a1d6"/><stop offset="1" stop-color="#00a1d6"/></linearGradient><linearGradient id="g205"><stop offset="0" stop-color="#9ed638"/><stop offset=".122" stop-color="#98d63e"/><stop offset=".415" stop-color="#00d6d6"/><stop offset=".756" stop-color="#009ed6"/><stop offset="1" stop-color="#0099d6"/></linearGradient><linearGradient id="g206"><stop offset="0" stop-color="#83d653"/><stop offset=".132" stop-color="#7fd657"/><stop offset=".395" stop-color="#00d4d6"/><stop offset=".684" stop-color="#00a0d6"/><stop offset="1" stop-color="#0091d6"/></linearGradient><linearGradient id="g207"><stop offset="0" stop-color="#6ad66c"/><stop offset=".143" stop-color="#66d670"/><stop offset=".371" stop-color="#00d1d6"/><stop offset=".686" stop-color="#0099d6"/><stop offset="1" stop-color="#0089d6"/></linearGradient><linearGradient id="g208"><stop offset="0" stop-color="#50d687"/><stop offset=".156" stop-color="#4cd68a"/><stop offset=".312" stop-color="#03d6d3"/><stop offset=".594" stop-color="#0099d6"/><stop offset="1" stop-color="#0082d6"/></linearGradient><linearGradient id="g209"><stop offset="0" stop-color="#30d6a6"/><stop offset=".179" stop-color="#28d6ae"/><stop offset=".286" stop-color="#00d2d6"/><stop offset=".464" stop-color="#00a5d6"/><stop offset=".893" stop-color="#007dd6"/><stop offset="1" stop-color="#007dd6"/></linearGradient><linearGradient id="g210"><stop offset="0" stop-color="#0ed6c8"/><stop offset=".2" stop-color="#07d6cf"/><stop offset=".44" stop-color="#009ed6"/><stop offset=".88" stop-color="#0077d6"/><stop offset="1" stop-color="#0077d6"/></linearGradient><linearGradient id="g211"><stop offset="0" stop-color="#00c4d6"/><stop offset=".227" stop-color="#00bed6"/><stop offset=".455" stop-color="#0091d6"/><stop offset=".864" stop-color="#0071d6"/><stop offset="1" stop-color="#0071d6"/></linearGradient><linearGradient id="g212"><stop offset="0" stop-color="#00a6d6"/><stop offset=".263" stop-color="#00a1d6"/><stop offset=".789" stop-color="#006ad6"/><stop offset="1" stop-color="#006ad6"/></linearGradient><linearGradient id="g213"><stop offset="0" stop-color="#0088d6"/><stop offset=".438" stop-color="#007ad6"/><stop offset=".875" stop-color="#0063d6"/><stop offset="1" stop-color="#0063d6"/></linearGradient><linearGradient id="g214"><stop offset="0" stop-color="#0073d6"/><stop offset="1" stop-color="#005ed6"/></linearGradient><linearGradient id="g215"><stop offset="0" stop-color="#005ed6"/><stop offset="1" stop-color="#005ad6"/></linearGradient><linearGradient id="g216"><stop offset="0" stop-color="#0059d6"/><stop offset="1" stop-color="#0059d6"/></linearGradient><linearGradient id="g217"><stop offset="0" stop-color="#0059d6"/><stop offset="1" stop-color="#0059d6"/></linearGradient><clipPath id="cr1c0"><polygon points="3.5,-1 63.2,-103.5 112.8,-19.5 102.2,-1"/></clipPath></defs>
<g transform="translate(348.7 445.9)">
<polygon points="0,0 62.3,-107 114,-19.5 102.8,0" fill="#3e3e3e" stroke="#3e3e3e" stroke-width="1" stroke-linejoin="miter" stroke-miterlimit="6"/>
<g clip-path="url(#cr1c0)"><g filter="url(#vb)"><rect x="-8.2" y="4" width="116.8" height="4.6" fill="url(#g187)"/><rect x="-8.2" y="0" width="116.8" height="4.6" fill="url(#g188)"/><rect x="-5.8" y="-4" width="116.8" height="4.6" fill="url(#g189)"/><rect x="-3.5" y="-8" width="116.8" height="4.6" fill="url(#g190)"/><rect x="-1.2" y="-12" width="116.7" height="4.6" fill="url(#g191)"/><rect x="1.2" y="-16" width="116.7" height="4.6" fill="url(#g192)"/><rect x="3.5" y="-20" width="116.7" height="4.6" fill="url(#g193)"/><rect x="5.8" y="-24" width="113.7" height="4.6" fill="url(#g194)"/><rect x="8.1" y="-28" width="109" height="4.6" fill="url(#g195)"/><rect x="10.5" y="-32" width="104.3" height="4.6" fill="url(#g196)"/><rect x="12.8" y="-36" width="99.6" height="4.6" fill="url(#g197)"/><rect x="15.1" y="-40" width="94.9" height="4.6" fill="url(#g198)"/><rect x="17.5" y="-44" width="90.3" height="4.6" fill="url(#g199)"/><rect x="19.8" y="-48" width="85.6" height="4.6" fill="url(#g200)"/><rect x="22.1" y="-52" width="80.9" height="4.6" fill="url(#g201)"/><rect x="24.4" y="-56" width="76.2" height="4.6" fill="url(#g202)"/><rect x="26.8" y="-60" width="71.5" height="4.6" fill="url(#g203)"/><rect x="29.1" y="-64" width="66.8" height="4.6" fill="url(#g204)"/><rect x="31.4" y="-68" width="62.1" height="4.6" fill="url(#g205)"/><rect x="33.8" y="-72" width="57.4" height="4.6" fill="url(#g206)"/><rect x="36.1" y="-76" width="52.7" height="4.6" fill="url(#g207)"/><rect x="38.4" y="-80" width="48" height="4.6" fill="url(#g208)"/><rect x="40.7" y="-84" width="43.3" height="4.6" fill="url(#g209)"/><rect x="43.1" y="-88" width="38.6" height="4.6" fill="url(#g210)"/><rect x="45.4" y="-92" width="33.9" height="4.6" fill="url(#g211)"/><rect x="47.7" y="-96" width="29.3" height="4.6" fill="url(#g212)"/><rect x="50.1" y="-100" width="24.6" height="4.6" fill="url(#g213)"/><rect x="52.4" y="-104" width="19.9" height="4.6" fill="url(#g214)"/><rect x="54.7" y="-108" width="15.2" height="4.6" fill="url(#g215)"/><rect x="56.5" y="-112" width="15" height="4.6" fill="url(#g216)"/><rect x="56.5" y="-116" width="15" height="4.6" fill="url(#g217)"/></g><use href="#meshg"/></g>
<text x="54.5" y="-104.1" font-size="13.7" fill="#3348ad" stroke="#3348ad" stroke-width=".25" text-anchor="end">0%</text>
<text x="71.9" y="-104.1" font-size="13.7" fill="#111" stroke="#111" stroke-width=".25">60%</text>
<text x="-.6" y="-53.6" font-size="15.5" fill="#1f30b4" stroke="#1f30b4" stroke-width=".45" font-weight="bold" text-anchor="middle">CS</text>
<text x="122.9" y="-58.7" font-size="14.9" fill="#111" stroke="#111" stroke-width=".45" font-weight="bold" text-anchor="middle">LAC</text>
<text x="-.2" y="-4" font-size="13.7" fill="#3348ad" stroke="#3348ad" stroke-width=".25" text-anchor="end">60%</text>
<text x="122.6" y="2.9" font-size="13.7" fill="#111" stroke="#111" stroke-width=".25">0%</text>
<text x="-.9" y="16.3" font-size="13.7" fill="#d0554c" stroke="#d0554c" stroke-width=".25" text-anchor="middle">40%</text>
<text x="56.8" y="17.7" font-size="16.2" fill="#e02818" stroke="#e02818" stroke-width=".45" font-weight="bold" text-anchor="middle">MCC</text>
<text x="109.6" y="16.3" font-size="13.7" fill="#d0554c" stroke="#d0554c" stroke-width=".25" text-anchor="middle">90%</text>
<rect x="-8.9" y="34.2" width="127.7" height="13.4" fill="url(#jet)"/><use href="#cbt"/>
<text x="-12.4" y="58" font-size="10.9" fill="#111" stroke="#111" stroke-width=".25">0</text>
<text x="110.8" y="58" font-size="10.9" fill="#111" stroke="#111" stroke-width=".25">90</text>
<text x="55.4" y="70.3" font-size="11.4" fill="#111" stroke="#111" stroke-width=".25" text-anchor="middle">DT (s)</text>
</g>
<defs><linearGradient id="g218"><stop offset="0" stop-color="#6b0000"/><stop offset=".078" stop-color="#700000"/><stop offset=".221" stop-color="#d60900"/><stop offset=".286" stop-color="#d67c00"/><stop offset=".325" stop-color="#d6ca00"/><stop offset=".364" stop-color="#a1d636"/><stop offset=".455" stop-color="#25d6b1"/><stop offset=".494" stop-color="#00cfd6"/><stop offset=".662" stop-color="#003bd6"/><stop offset=".753" stop-color="#0007d6"/><stop offset=".896" stop-color="#0000c3"/><stop offset="1" stop-color="#0000c5"/></linearGradient><linearGradient id="g219"><stop offset="0" stop-color="#6b0000"/><stop offset=".078" stop-color="#700000"/><stop offset=".221" stop-color="#d60900"/><stop offset=".286" stop-color="#d67c00"/><stop offset=".325" stop-color="#d6ca00"/><stop offset=".364" stop-color="#a1d636"/><stop offset=".455" stop-color="#25d6b1"/><stop offset=".494" stop-color="#00cfd6"/><stop offset=".662" stop-color="#003bd6"/><stop offset=".753" stop-color="#0007d6"/><stop offset=".896" stop-color="#0000c3"/><stop offset="1" stop-color="#0000c5"/></linearGradient><linearGradient id="g220"><stop offset="0" stop-color="#750000"/><stop offset=".078" stop-color="#810000"/><stop offset=".195" stop-color="#d60900"/><stop offset=".26" stop-color="#d67c00"/><stop offset=".299" stop-color="#d6ca00"/><stop offset=".338" stop-color="#a0d636"/><stop offset=".429" stop-color="#25d6b1"/><stop offset=".468" stop-color="#00cfd6"/><stop offset=".636" stop-color="#003bd6"/><stop offset=".727" stop-color="#0007d6"/><stop offset=".87" stop-color="#0000c3"/><stop offset="1" stop-color="#0000c8"/></linearGradient><linearGradient id="g221"><stop offset="0" stop-color="#8a0000"/><stop offset=".078" stop-color="#950000"/><stop offset=".156" stop-color="#d60300"/><stop offset=".208" stop-color="#d65700"/><stop offset=".273" stop-color="#d6d600"/><stop offset=".364" stop-color="#4cd68b"/><stop offset=".429" stop-color="#00d6d6"/><stop offset=".597" stop-color="#0040d6"/><stop offset=".688" stop-color="#000ad6"/><stop offset=".818" stop-color="#0000c3"/><stop offset="1" stop-color="#0000ce"/></linearGradient><linearGradient id="g222"><stop offset="0" stop-color="#9e0000"/><stop offset=".078" stop-color="#ab0000"/><stop offset=".13" stop-color="#d60a00"/><stop offset=".195" stop-color="#d67d00"/><stop offset=".234" stop-color="#d6ca00"/><stop offset=".286" stop-color="#8ad64c"/><stop offset=".39" stop-color="#06d6d0"/><stop offset=".61" stop-color="#001ed6"/><stop offset=".714" stop-color="#00c"/><stop offset=".818" stop-color="#0000c8"/><stop offset="1" stop-color="#0000d6"/></linearGradient><linearGradient id="g223"><stop offset="0" stop-color="#ba0000"/><stop offset=".065" stop-color="#bf0000"/><stop offset=".104" stop-color="#d61000"/><stop offset=".208" stop-color="#d6d601"/><stop offset=".299" stop-color="#4bd68b"/><stop offset=".364" stop-color="#00d5d6"/><stop offset=".532" stop-color="#0040d6"/><stop offset=".623" stop-color="#000ad6"/><stop offset=".753" stop-color="#0000c4"/><stop offset=".922" stop-color="#0011d6"/><stop offset="1" stop-color="#0008d6"/></linearGradient><linearGradient id="g224"><stop offset="0" stop-color="#d60500"/><stop offset=".065" stop-color="#d60a00"/><stop offset=".143" stop-color="#d69700"/><stop offset=".169" stop-color="#d6cb00"/><stop offset=".221" stop-color="#8ad64c"/><stop offset=".325" stop-color="#06d6d0"/><stop offset=".545" stop-color="#001ed6"/><stop offset=".649" stop-color="#00c"/><stop offset=".753" stop-color="#0000c7"/><stop offset=".909" stop-color="#0015d6"/><stop offset="1" stop-color="#000cd6"/></linearGradient><linearGradient id="g225"><stop offset="0" stop-color="#d63500"/><stop offset=".067" stop-color="#d63f00"/><stop offset=".147" stop-color="#d5d601"/><stop offset=".24" stop-color="#4bd68b"/><stop offset=".307" stop-color="#00d5d6"/><stop offset=".48" stop-color="#0040d6"/><stop offset=".573" stop-color="#0009d6"/><stop offset=".72" stop-color="#0000c3"/><stop offset=".907" stop-color="#0011d6"/><stop offset="1" stop-color="#000cd6"/></linearGradient><linearGradient id="g226"><stop offset="0" stop-color="#d67400"/><stop offset=".069" stop-color="#d67e00"/><stop offset=".111" stop-color="#d6cc00"/><stop offset=".194" stop-color="#62d674"/><stop offset=".292" stop-color="#00cfd6"/><stop offset=".472" stop-color="#003bd6"/><stop offset=".569" stop-color="#0007d6"/><stop offset=".722" stop-color="#0000c2"/><stop offset=".958" stop-color="#0005d6"/><stop offset="1" stop-color="#0005d6"/></linearGradient><linearGradient id="g227"><stop offset="0" stop-color="#d6b500"/><stop offset=".072" stop-color="#d6bf00"/><stop offset=".087" stop-color="#d5d601"/><stop offset=".188" stop-color="#4bd68b"/><stop offset=".261" stop-color="#00d5d6"/><stop offset=".449" stop-color="#0040d6"/><stop offset=".551" stop-color="#000ad6"/><stop offset=".71" stop-color="#0000c1"/><stop offset="1" stop-color="#0000d1"/></linearGradient><linearGradient id="g228"><stop offset="0" stop-color="#bcd61a"/><stop offset=".076" stop-color="#b4d622"/><stop offset=".167" stop-color="#43d693"/><stop offset=".242" stop-color="#00cfd6"/><stop offset=".439" stop-color="#003cd6"/><stop offset=".545" stop-color="#0008d6"/><stop offset=".712" stop-color="#0000c1"/><stop offset="1" stop-color="#0000c8"/></linearGradient><linearGradient id="g229"><stop offset="0" stop-color="#86d650"/><stop offset=".079" stop-color="#7ed658"/><stop offset=".206" stop-color="#00d5d6"/><stop offset=".413" stop-color="#0041d6"/><stop offset=".524" stop-color="#000ad6"/><stop offset=".714" stop-color="#0000c1"/><stop offset="1" stop-color="#0000c3"/></linearGradient><linearGradient id="g230"><stop offset="0" stop-color="#58d67f"/><stop offset=".083" stop-color="#52d684"/><stop offset=".183" stop-color="#00cfd6"/><stop offset=".4" stop-color="#003cd6"/><stop offset=".5" stop-color="#000cd6"/><stop offset=".667" stop-color="#0000c1"/><stop offset="1" stop-color="#0000c1"/></linearGradient><linearGradient id="g231"><stop offset="0" stop-color="#31d6a5"/><stop offset=".088" stop-color="#2cd6ab"/><stop offset=".14" stop-color="#00d5d6"/><stop offset=".368" stop-color="#0041d6"/><stop offset=".491" stop-color="#000ad6"/><stop offset=".702" stop-color="#0000c1"/><stop offset="1" stop-color="#0000c1"/></linearGradient><linearGradient id="g232"><stop offset="0" stop-color="#0ad6cc"/><stop offset=".113" stop-color="#00cdd6"/><stop offset=".34" stop-color="#0042d6"/><stop offset=".472" stop-color="#000ad6"/><stop offset=".698" stop-color="#0000c1"/><stop offset="1" stop-color="#0000c1"/></linearGradient><linearGradient id="g233"><stop offset="0" stop-color="#00bfd6"/><stop offset=".1" stop-color="#00bad6"/><stop offset=".36" stop-color="#002ad6"/><stop offset=".5" stop-color="#0000d6"/><stop offset=".66" stop-color="#0000c1"/><stop offset="1" stop-color="#0000c1"/></linearGradient><linearGradient id="g234"><stop offset="0" stop-color="#009fd6"/><stop offset=".106" stop-color="#009ad6"/><stop offset=".404" stop-color="#000fd6"/><stop offset=".596" stop-color="#0000c1"/><stop offset="1" stop-color="#0000c1"/></linearGradient><linearGradient id="g235"><stop offset="0" stop-color="#0080d6"/><stop offset=".114" stop-color="#007bd6"/><stop offset=".386" stop-color="#000dd6"/><stop offset=".591" stop-color="#0000c1"/><stop offset="1" stop-color="#0000c1"/></linearGradient><linearGradient id="g236"><stop offset="0" stop-color="#0064d6"/><stop offset=".122" stop-color="#0061d6"/><stop offset=".366" stop-color="#000bd6"/><stop offset=".683" stop-color="#0000c1"/><stop offset="1" stop-color="#0000c1"/></linearGradient><linearGradient id="g237"><stop offset="0" stop-color="#004cd6"/><stop offset=".158" stop-color="#003ed6"/><stop offset=".342" stop-color="#0009d6"/><stop offset=".632" stop-color="#0000c1"/><stop offset="1" stop-color="#0000c1"/></linearGradient><linearGradient id="g238"><stop offset="0" stop-color="#0033d6"/><stop offset=".171" stop-color="#0026d6"/><stop offset=".4" stop-color="#0000d0"/><stop offset=".686" stop-color="#0000c1"/><stop offset="1" stop-color="#0000c1"/></linearGradient><linearGradient id="g239"><stop offset="0" stop-color="#001ad6"/><stop offset=".375" stop-color="#0000cd"/><stop offset=".688" stop-color="#0000c1"/><stop offset="1" stop-color="#0000c1"/></linearGradient><linearGradient id="g240"><stop offset="0" stop-color="#000cd6"/><stop offset=".714" stop-color="#0000c1"/><stop offset="1" stop-color="#0000c1"/></linearGradient><linearGradient id="g241"><stop offset="0" stop-color="#0001d6"/><stop offset=".68" stop-color="#0000c1"/><stop offset="1" stop-color="#0000c1"/></linearGradient><linearGradient id="g242"><stop offset="0" stop-color="#00c"/><stop offset="1" stop-color="#0000c1"/></linearGradient><linearGradient id="g243"><stop offset="0" stop-color="#0000c1"/><stop offset="1" stop-color="#0000c1"/></linearGradient><linearGradient id="g244"><stop offset="0" stop-color="#0000c1"/><stop offset="1" stop-color="#0000c1"/></linearGradient><linearGradient id="g245"><stop offset="0" stop-color="#0000c1"/><stop offset="1" stop-color="#0000c1"/></linearGradient><linearGradient id="g246"><stop offset="0" stop-color="#0000c1"/><stop offset="1" stop-color="#0000c1"/></linearGradient><linearGradient id="g247"><stop offset="0" stop-color="#0000c1"/><stop offset="1" stop-color="#0000c1"/></linearGradient><linearGradient id="g248"><stop offset="0" stop-color="#0000c1"/><stop offset="1" stop-color="#0000c1"/></linearGradient><clipPath id="cr1c1"><polygon points="5.4,-2.7 62.9,-101.5 111.3,-19.5 101.7,-2.7"/></clipPath></defs>
<g transform="translate(543.6 445.9)">
<polygon points="0,0 62.3,-107 114,-19.5 102.8,0" fill="#3e3e3e" stroke="#3e3e3e" stroke-width="1" stroke-linejoin="miter" stroke-miterlimit="6"/>
<g clip-path="url(#cr1c1)"><g filter="url(#vb)"><rect x="-8.2" y="4" width="116.8" height="4.6" fill="url(#g218)"/><rect x="-8.2" y="0" width="116.8" height="4.6" fill="url(#g219)"/><rect x="-5.8" y="-4" width="116.8" height="4.6" fill="url(#g220)"/><rect x="-3.5" y="-8" width="116.8" height="4.6" fill="url(#g221)"/><rect x="-1.2" y="-12" width="116.7" height="4.6" fill="url(#g222)"/><rect x="1.2" y="-16" width="116.7" height="4.6" fill="url(#g223)"/><rect x="3.5" y="-20" width="116.7" height="4.6" fill="url(#g224)"/><rect x="5.8" y="-24" width="113.7" height="4.6" fill="url(#g225)"/><rect x="8.1" y="-28" width="109" height="4.6" fill="url(#g226)"/><rect x="10.5" y="-32" width="104.3" height="4.6" fill="url(#g227)"/><rect x="12.8" y="-36" width="99.6" height="4.6" fill="url(#g228)"/><rect x="15.1" y="-40" width="94.9" height="4.6" fill="url(#g229)"/><rect x="17.5" y="-44" width="90.3" height="4.6" fill="url(#g230)"/><rect x="19.8" y="-48" width="85.6" height="4.6" fill="url(#g231)"/><rect x="22.1" y="-52" width="80.9" height="4.6" fill="url(#g232)"/><rect x="24.4" y="-56" width="76.2" height="4.6" fill="url(#g233)"/><rect x="26.8" y="-60" width="71.5" height="4.6" fill="url(#g234)"/><rect x="29.1" y="-64" width="66.8" height="4.6" fill="url(#g235)"/><rect x="31.4" y="-68" width="62.1" height="4.6" fill="url(#g236)"/><rect x="33.8" y="-72" width="57.4" height="4.6" fill="url(#g237)"/><rect x="36.1" y="-76" width="52.7" height="4.6" fill="url(#g238)"/><rect x="38.4" y="-80" width="48" height="4.6" fill="url(#g239)"/><rect x="40.7" y="-84" width="43.3" height="4.6" fill="url(#g240)"/><rect x="43.1" y="-88" width="38.6" height="4.6" fill="url(#g241)"/><rect x="45.4" y="-92" width="33.9" height="4.6" fill="url(#g242)"/><rect x="47.7" y="-96" width="29.3" height="4.6" fill="url(#g243)"/><rect x="50.1" y="-100" width="24.6" height="4.6" fill="url(#g244)"/><rect x="52.4" y="-104" width="19.9" height="4.6" fill="url(#g245)"/><rect x="54.7" y="-108" width="15.2" height="4.6" fill="url(#g246)"/><rect x="56.5" y="-112" width="15" height="4.6" fill="url(#g247)"/><rect x="56.5" y="-116" width="15" height="4.6" fill="url(#g248)"/></g><use href="#meshg"/></g>
<circle cx="68.5" cy="-32.2" r="1.6" fill="#e040e0"/>
<text x="54.5" y="-104.1" font-size="13.7" fill="#3348ad" stroke="#3348ad" stroke-width=".25" text-anchor="end">0%</text>
<text x="71.9" y="-104.1" font-size="13.7" fill="#111" stroke="#111" stroke-width=".25">60%</text>
<text x="-.6" y="-53.6" font-size="15.5" fill="#1f30b4" stroke="#1f30b4" stroke-width=".45" font-weight="bold" text-anchor="middle">CS</text>
<text x="122.9" y="-58.7" font-size="14.9" fill="#111" stroke="#111" stroke-width=".45" font-weight="bold" text-anchor="middle">LAC</text>
<text x="-.2" y="-4" font-size="13.7" fill="#3348ad" stroke="#3348ad" stroke-width=".25" text-anchor="end">60%</text>
<text x="122.6" y="2.9" font-size="13.7" fill="#111" stroke="#111" stroke-width=".25">0%</text>
<text x="-.9" y="16.3" font-size="13.7" fill="#d0554c" stroke="#d0554c" stroke-width=".25" text-anchor="middle">40%</text>
<text x="56.8" y="17.7" font-size="16.2" fill="#e02818" stroke="#e02818" stroke-width=".45" font-weight="bold" text-anchor="middle">MCC</text>
<text x="109.6" y="16.3" font-size="13.7" fill="#d0554c" stroke="#d0554c" stroke-width=".25" text-anchor="middle">90%</text>
<rect x="-8.9" y="34.2" width="127.7" height="13.4" fill="url(#jet)"/><use href="#cbt"/>
<text x="-12.4" y="58" font-size="10.9" fill="#111" stroke="#111" stroke-width=".25">20</text>
<text x="110.8" y="58" font-size="10.9" fill="#111" stroke="#111" stroke-width=".25">80</text>
<text x="55.4" y="70.3" font-size="11.4" fill="#111" stroke="#111" stroke-width=".25" text-anchor="middle">DT (s)</text>
</g>
<defs><linearGradient id="g249"><stop offset="0" stop-color="#850000"/><stop offset=".078" stop-color="#8a0000"/><stop offset=".208" stop-color="#d60700"/><stop offset=".247" stop-color="#d62000"/><stop offset=".312" stop-color="#d69200"/><stop offset=".364" stop-color="#d6d400"/><stop offset=".597" stop-color="#00d4d6"/><stop offset=".766" stop-color="#0056d6"/><stop offset=".896" stop-color="#0036d6"/><stop offset="1" stop-color="#0037d6"/></linearGradient><linearGradient id="g250"><stop offset="0" stop-color="#850000"/><stop offset=".078" stop-color="#8a0000"/><stop offset=".208" stop-color="#d60700"/><stop offset=".247" stop-color="#d62000"/><stop offset=".312" stop-color="#d69200"/><stop offset=".364" stop-color="#d6d400"/><stop offset=".597" stop-color="#00d4d6"/><stop offset=".766" stop-color="#0056d6"/><stop offset=".896" stop-color="#0036d6"/><stop offset="1" stop-color="#0037d6"/></linearGradient><linearGradient id="g251"><stop offset="0" stop-color="#8b0000"/><stop offset=".078" stop-color="#970000"/><stop offset=".182" stop-color="#d60300"/><stop offset=".234" stop-color="#d62d00"/><stop offset=".299" stop-color="#d69b00"/><stop offset=".351" stop-color="#d1d605"/><stop offset=".571" stop-color="#02d6d4"/><stop offset=".753" stop-color="#0056d6"/><stop offset=".883" stop-color="#0039d6"/><stop offset="1" stop-color="#003fd6"/></linearGradient><linearGradient id="g252"><stop offset="0" stop-color="#980000"/><stop offset=".078" stop-color="#a40000"/><stop offset=".169" stop-color="#d60700"/><stop offset=".208" stop-color="#d62200"/><stop offset=".273" stop-color="#d69300"/><stop offset=".325" stop-color="#d6d500"/><stop offset=".558" stop-color="#00d4d6"/><stop offset=".727" stop-color="#005cd6"/><stop offset=".857" stop-color="#003fd6"/><stop offset=".987" stop-color="#0050d6"/><stop offset="1" stop-color="#0056d6"/></linearGradient><linearGradient id="g253"><stop offset="0" stop-color="#a50000"/><stop offset=".078" stop-color="#b10000"/><stop offset=".156" stop-color="#d60b00"/><stop offset=".195" stop-color="#d62f00"/><stop offset=".273" stop-color="#d6ad00"/><stop offset=".312" stop-color="#d0d606"/><stop offset=".532" stop-color="#01d6d5"/><stop offset=".714" stop-color="#005fd6"/><stop offset=".844" stop-color="#0044d6"/><stop offset=".948" stop-color="#0056d6"/><stop offset="1" stop-color="#006bd6"/></linearGradient><linearGradient id="g254"><stop offset="0" stop-color="#b20000"/><stop offset=".078" stop-color="#be0000"/><stop offset=".13" stop-color="#d60800"/><stop offset=".169" stop-color="#d62300"/><stop offset=".234" stop-color="#d69500"/><stop offset=".286" stop-color="#d6d600"/><stop offset=".519" stop-color="#00d3d6"/><stop offset=".688" stop-color="#0065d6"/><stop offset=".818" stop-color="#004ad6"/><stop offset=".922" stop-color="#0063d6"/><stop offset=".987" stop-color="#007bd6"/><stop offset="1" stop-color="#007bd6"/></linearGradient><linearGradient id="g255"><stop offset="0" stop-color="#bf0000"/><stop offset=".078" stop-color="#ca0000"/><stop offset=".143" stop-color="#d61c00"/><stop offset=".234" stop-color="#d6ae00"/><stop offset=".273" stop-color="#cfd607"/><stop offset=".494" stop-color="#01d6d5"/><stop offset=".675" stop-color="#0068d6"/><stop offset=".792" stop-color="#0051d6"/><stop offset=".961" stop-color="#0086d6"/><stop offset="1" stop-color="#0086d6"/></linearGradient><linearGradient id="g256"><stop offset="0" stop-color="#c00"/><stop offset=".093" stop-color="#d60900"/><stop offset=".133" stop-color="#d62600"/><stop offset=".2" stop-color="#d69600"/><stop offset=".253" stop-color="#d5d601"/><stop offset=".493" stop-color="#00d2d6"/><stop offset=".667" stop-color="#006ed6"/><stop offset=".787" stop-color="#0058d6"/><stop offset=".947" stop-color="#008cd6"/><stop offset="1" stop-color="#008cd6"/></linearGradient><linearGradient id="g257"><stop offset="0" stop-color="#d60200"/><stop offset=".083" stop-color="#d60d00"/><stop offset=".125" stop-color="#d63300"/><stop offset=".194" stop-color="#d69f00"/><stop offset=".25" stop-color="#ced608"/><stop offset=".486" stop-color="#00d6d6"/><stop offset=".681" stop-color="#0071d6"/><stop offset=".792" stop-color="#005fd6"/><stop offset=".944" stop-color="#0092d6"/><stop offset="1" stop-color="#0092d6"/></linearGradient><linearGradient id="g258"><stop offset="0" stop-color="#d60f00"/><stop offset=".087" stop-color="#d61a00"/><stop offset=".188" stop-color="#d6a900"/><stop offset=".232" stop-color="#d4d603"/><stop offset=".493" stop-color="#00d1d6"/><stop offset=".681" stop-color="#0076d6"/><stop offset=".812" stop-color="#006bd6"/><stop offset=".942" stop-color="#0097d6"/><stop offset="1" stop-color="#0097d6"/></linearGradient><linearGradient id="g259"><stop offset="0" stop-color="#d61d00"/><stop offset=".076" stop-color="#d62000"/><stop offset=".167" stop-color="#d6a200"/><stop offset=".212" stop-color="#d6d300"/><stop offset=".485" stop-color="#00d4d6"/><stop offset=".682" stop-color="#007ad6"/><stop offset=".818" stop-color="#0075d6"/><stop offset=".939" stop-color="#009cd6"/><stop offset="1" stop-color="#009cd6"/></linearGradient><linearGradient id="g260"><stop offset="0" stop-color="#d63b00"/><stop offset=".079" stop-color="#d64400"/><stop offset=".159" stop-color="#d6ac00"/><stop offset=".206" stop-color="#d1d605"/><stop offset=".476" stop-color="#02d6d5"/><stop offset=".698" stop-color="#007dd6"/><stop offset=".825" stop-color="#007fd6"/><stop offset=".937" stop-color="#00a1d6"/><stop offset="1" stop-color="#00a1d6"/></linearGradient><linearGradient id="g261"><stop offset="0" stop-color="#d66200"/><stop offset=".083" stop-color="#d66a00"/><stop offset=".183" stop-color="#d5d601"/><stop offset=".483" stop-color="#00d1d6"/><stop offset=".7" stop-color="#0080d6"/><stop offset=".85" stop-color="#0092d6"/><stop offset=".95" stop-color="#00a5d6"/><stop offset="1" stop-color="#00a5d6"/></linearGradient><linearGradient id="g262"><stop offset="0" stop-color="#d68a00"/><stop offset=".088" stop-color="#d69000"/><stop offset=".158" stop-color="#d6d200"/><stop offset=".474" stop-color="#00d4d6"/><stop offset=".702" stop-color="#0083d6"/><stop offset=".965" stop-color="#00a9d6"/><stop offset="1" stop-color="#00a9d6"/></linearGradient><linearGradient id="g263"><stop offset="0" stop-color="#d6a700"/><stop offset=".094" stop-color="#d6ae00"/><stop offset=".151" stop-color="#ccd60a"/><stop offset=".472" stop-color="#00d1d6"/><stop offset=".698" stop-color="#0089d6"/><stop offset=".962" stop-color="#00acd6"/><stop offset="1" stop-color="#00acd6"/></linearGradient><linearGradient id="g264"><stop offset="0" stop-color="#d6c500"/><stop offset=".1" stop-color="#d6cc00"/><stop offset=".24" stop-color="#82d655"/><stop offset=".46" stop-color="#00d3d6"/><stop offset=".66" stop-color="#0090d6"/><stop offset=".76" stop-color="#0090d6"/><stop offset=".92" stop-color="#00a8d6"/><stop offset="1" stop-color="#00a8d6"/></linearGradient><linearGradient id="g265"><stop offset="0" stop-color="#c9d60e"/><stop offset=".106" stop-color="#c3d613"/><stop offset=".447" stop-color="#00d4d6"/><stop offset=".596" stop-color="#00a0d6"/><stop offset=".745" stop-color="#0089d6"/><stop offset=".872" stop-color="#00a9d6"/><stop offset="1" stop-color="#00a5d6"/></linearGradient><linearGradient id="g266"><stop offset="0" stop-color="#aed629"/><stop offset=".114" stop-color="#a9d62e"/><stop offset=".432" stop-color="#00d4d6"/><stop offset=".568" stop-color="#00a2d6"/><stop offset=".727" stop-color="#008ad6"/><stop offset=".864" stop-color="#00a9d6"/><stop offset="1" stop-color="#00a6d6"/></linearGradient><linearGradient id="g267"><stop offset="0" stop-color="#92d644"/><stop offset=".122" stop-color="#8dd649"/><stop offset=".415" stop-color="#00d2d6"/><stop offset=".561" stop-color="#009cd6"/><stop offset=".732" stop-color="#008bd6"/><stop offset=".902" stop-color="#00a2d6"/><stop offset="1" stop-color="#00a2d6"/></linearGradient><linearGradient id="g268"><stop offset="0" stop-color="#75d661"/><stop offset=".132" stop-color="#70d666"/><stop offset=".395" stop-color="#00cfd6"/><stop offset=".553" stop-color="#0095d6"/><stop offset=".789" stop-color="#0087d6"/><stop offset="1" stop-color="#0090d6"/></linearGradient><linearGradient id="g269"><stop offset="0" stop-color="#57d67f"/><stop offset=".143" stop-color="#53d683"/><stop offset=".343" stop-color="#00d6d6"/><stop offset=".543" stop-color="#008dd6"/><stop offset=".914" stop-color="#0078d6"/><stop offset="1" stop-color="#0078d6"/></linearGradient><linearGradient id="g270"><stop offset="0" stop-color="#38d69e"/><stop offset=".156" stop-color="#34d6a2"/><stop offset=".312" stop-color="#00cfd6"/><stop offset=".562" stop-color="#007fd6"/><stop offset=".969" stop-color="#0060d6"/><stop offset="1" stop-color="#0060d6"/></linearGradient><linearGradient id="g271"><stop offset="0" stop-color="#17d6c0"/><stop offset=".179" stop-color="#11d6c5"/><stop offset=".321" stop-color="#00b6d6"/><stop offset=".571" stop-color="#006fd6"/><stop offset=".929" stop-color="#004cd6"/><stop offset="1" stop-color="#004cd6"/></linearGradient><linearGradient id="g272"><stop offset="0" stop-color="#00c9d6"/><stop offset=".2" stop-color="#00c3d6"/><stop offset=".56" stop-color="#005ed6"/><stop offset=".88" stop-color="#003ad6"/><stop offset="1" stop-color="#003ad6"/></linearGradient><linearGradient id="g273"><stop offset="0" stop-color="#00a2d6"/><stop offset=".227" stop-color="#009dd6"/><stop offset=".591" stop-color="#0048d6"/><stop offset=".909" stop-color="#002fd6"/><stop offset="1" stop-color="#002fd6"/></linearGradient><linearGradient id="g274"><stop offset="0" stop-color="#0079d6"/><stop offset=".263" stop-color="#0074d6"/><stop offset=".632" stop-color="#002fd6"/><stop offset="1" stop-color="#0022d6"/></linearGradient><linearGradient id="g275"><stop offset="0" stop-color="#004dd6"/><stop offset=".312" stop-color="#0047d6"/><stop offset=".688" stop-color="#0014d6"/><stop offset="1" stop-color="#0012d6"/></linearGradient><linearGradient id="g276"><stop offset="0" stop-color="#001dd6"/><stop offset=".385" stop-color="#0018d6"/><stop offset=".692" stop-color="#0000d0"/><stop offset="1" stop-color="#0000d0"/></linearGradient><linearGradient id="g277"><stop offset="0" stop-color="#0000c3"/><stop offset="1" stop-color="#0000bc"/></linearGradient><linearGradient id="g278"><stop offset="0" stop-color="#0000b6"/><stop offset="1" stop-color="#0000b6"/></linearGradient><linearGradient id="g279"><stop offset="0" stop-color="#0000b6"/><stop offset="1" stop-color="#0000b6"/></linearGradient><clipPath id="cr1c2"><polygon points="6.7,-3.3 62.8,-99.7 110.2,-19.5 100.9,-3.3"/></clipPath></defs>
<g transform="translate(738.3 445.9)">
<polygon points="0,0 62.3,-107 114,-19.5 102.8,0" fill="#3e3e3e" stroke="#3e3e3e" stroke-width="1" stroke-linejoin="miter" stroke-miterlimit="6"/>
<g clip-path="url(#cr1c2)"><g filter="url(#vb)"><rect x="-8.2" y="4" width="116.8" height="4.6" fill="url(#g249)"/><rect x="-8.2" y="0" width="116.8" height="4.6" fill="url(#g250)"/><rect x="-5.8" y="-4" width="116.8" height="4.6" fill="url(#g251)"/><rect x="-3.5" y="-8" width="116.8" height="4.6" fill="url(#g252)"/><rect x="-1.2" y="-12" width="116.7" height="4.6" fill="url(#g253)"/><rect x="1.2" y="-16" width="116.7" height="4.6" fill="url(#g254)"/><rect x="3.5" y="-20" width="116.7" height="4.6" fill="url(#g255)"/><rect x="5.8" y="-24" width="113.7" height="4.6" fill="url(#g256)"/><rect x="8.1" y="-28" width="109" height="4.6" fill="url(#g257)"/><rect x="10.5" y="-32" width="104.3" height="4.6" fill="url(#g258)"/><rect x="12.8" y="-36" width="99.6" height="4.6" fill="url(#g259)"/><rect x="15.1" y="-40" width="94.9" height="4.6" fill="url(#g260)"/><rect x="17.5" y="-44" width="90.3" height="4.6" fill="url(#g261)"/><rect x="19.8" y="-48" width="85.6" height="4.6" fill="url(#g262)"/><rect x="22.1" y="-52" width="80.9" height="4.6" fill="url(#g263)"/><rect x="24.4" y="-56" width="76.2" height="4.6" fill="url(#g264)"/><rect x="26.8" y="-60" width="71.5" height="4.6" fill="url(#g265)"/><rect x="29.1" y="-64" width="66.8" height="4.6" fill="url(#g266)"/><rect x="31.4" y="-68" width="62.1" height="4.6" fill="url(#g267)"/><rect x="33.8" y="-72" width="57.4" height="4.6" fill="url(#g268)"/><rect x="36.1" y="-76" width="52.7" height="4.6" fill="url(#g269)"/><rect x="38.4" y="-80" width="48" height="4.6" fill="url(#g270)"/><rect x="40.7" y="-84" width="43.3" height="4.6" fill="url(#g271)"/><rect x="43.1" y="-88" width="38.6" height="4.6" fill="url(#g272)"/><rect x="45.4" y="-92" width="33.9" height="4.6" fill="url(#g273)"/><rect x="47.7" y="-96" width="29.3" height="4.6" fill="url(#g274)"/><rect x="50.1" y="-100" width="24.6" height="4.6" fill="url(#g275)"/><rect x="52.4" y="-104" width="19.9" height="4.6" fill="url(#g276)"/><rect x="54.7" y="-108" width="15.2" height="4.6" fill="url(#g277)"/><rect x="56.5" y="-112" width="15" height="4.6" fill="url(#g278)"/><rect x="56.5" y="-116" width="15" height="4.6" fill="url(#g279)"/></g><use href="#meshg"/></g>
<text x="54.5" y="-104.1" font-size="13.7" fill="#3348ad" stroke="#3348ad" stroke-width=".25" text-anchor="end">0%</text>
<text x="71.9" y="-104.1" font-size="13.7" fill="#111" stroke="#111" stroke-width=".25">60%</text>
<text x="-.6" y="-53.6" font-size="15.5" fill="#1f30b4" stroke="#1f30b4" stroke-width=".45" font-weight="bold" text-anchor="middle">CS</text>
<text x="122.9" y="-58.7" font-size="14.9" fill="#111" stroke="#111" stroke-width=".45" font-weight="bold" text-anchor="middle">LAC</text>
<text x="-.2" y="-4" font-size="13.7" fill="#3348ad" stroke="#3348ad" stroke-width=".25" text-anchor="end">60%</text>
<text x="122.6" y="2.9" font-size="13.7" fill="#111" stroke="#111" stroke-width=".25">0%</text>
<text x="-.9" y="16.3" font-size="13.7" fill="#d0554c" stroke="#d0554c" stroke-width=".25" text-anchor="middle">40%</text>
<text x="56.8" y="17.7" font-size="16.2" fill="#e02818" stroke="#e02818" stroke-width=".45" font-weight="bold" text-anchor="middle">MCC</text>
<text x="109.6" y="16.3" font-size="13.7" fill="#d0554c" stroke="#d0554c" stroke-width=".25" text-anchor="middle">90%</text>
<rect x="-8.9" y="34.2" width="127.7" height="13.4" fill="url(#jet)"/><use href="#cbt"/>
<text x="-12.4" y="58" font-size="10.9" fill="#111" stroke="#111" stroke-width=".25">15</text>
<text x="110.8" y="58" font-size="10.9" fill="#111" stroke="#111" stroke-width=".25">45</text>
<text x="55.4" y="70.3" font-size="11.4" fill="#111" stroke="#111" stroke-width=".25" text-anchor="middle">DT (s)</text>
</g>
<defs><linearGradient id="g280"><stop offset="0" stop-color="#6b0000"/><stop offset=".078" stop-color="#730000"/><stop offset=".169" stop-color="#d50000"/><stop offset=".195" stop-color="#d62200"/><stop offset=".26" stop-color="#d6c300"/><stop offset=".273" stop-color="#cfd607"/><stop offset=".364" stop-color="#3cd69a"/><stop offset=".416" stop-color="#00cfd6"/><stop offset=".584" stop-color="#0000d1"/><stop offset=".636" stop-color="#000084"/><stop offset=".74" stop-color="#000070"/><stop offset=".87" stop-color="#0000a9"/><stop offset=".948" stop-color="#0006d6"/><stop offset="1" stop-color="#0036d6"/></linearGradient><linearGradient id="g281"><stop offset="0" stop-color="#6b0000"/><stop offset=".078" stop-color="#730000"/><stop offset=".169" stop-color="#d50000"/><stop offset=".195" stop-color="#d62200"/><stop offset=".26" stop-color="#d6c300"/><stop offset=".273" stop-color="#cfd607"/><stop offset=".364" stop-color="#3cd69a"/><stop offset=".416" stop-color="#00cfd6"/><stop offset=".584" stop-color="#0000d1"/><stop offset=".636" stop-color="#000084"/><stop offset=".74" stop-color="#000070"/><stop offset=".87" stop-color="#0000a9"/><stop offset=".948" stop-color="#0006d6"/><stop offset="1" stop-color="#0036d6"/></linearGradient><linearGradient id="g282"><stop offset="0" stop-color="#7c0000"/><stop offset=".065" stop-color="#810000"/><stop offset=".143" stop-color="#d50000"/><stop offset=".169" stop-color="#d62200"/><stop offset=".234" stop-color="#d6c200"/><stop offset=".247" stop-color="#cfd607"/><stop offset=".338" stop-color="#3dd69a"/><stop offset=".39" stop-color="#00cfd6"/><stop offset=".558" stop-color="#0000d1"/><stop offset=".61" stop-color="#000083"/><stop offset=".714" stop-color="#00006c"/><stop offset=".831" stop-color="#00009a"/><stop offset=".922" stop-color="#0002d6"/><stop offset="1" stop-color="#005bd6"/></linearGradient><linearGradient id="g283"><stop offset="0" stop-color="#9d0000"/><stop offset=".065" stop-color="#a20000"/><stop offset=".117" stop-color="#d60500"/><stop offset=".143" stop-color="#d63200"/><stop offset=".208" stop-color="#d6d000"/><stop offset=".312" stop-color="#35d6a2"/><stop offset=".351" stop-color="#01d6d5"/><stop offset=".506" stop-color="#001bd6"/><stop offset=".532" stop-color="#0000c7"/><stop offset=".571" stop-color="#00009a"/><stop offset=".688" stop-color="#00007b"/><stop offset=".818" stop-color="#0000a9"/><stop offset=".896" stop-color="#0009d6"/><stop offset=".961" stop-color="#0059d6"/><stop offset="1" stop-color="#00a2d6"/></linearGradient><linearGradient id="g284"><stop offset="0" stop-color="#c00000"/><stop offset=".065" stop-color="#c50000"/><stop offset=".091" stop-color="#d60b00"/><stop offset=".117" stop-color="#d64100"/><stop offset=".182" stop-color="#d2d605"/><stop offset=".273" stop-color="#3ed698"/><stop offset=".325" stop-color="#00d1d6"/><stop offset=".494" stop-color="#0000d3"/><stop offset=".649" stop-color="#0000a1"/><stop offset=".779" stop-color="#0000bc"/><stop offset=".844" stop-color="#0008d6"/><stop offset=".909" stop-color="#0049d6"/><stop offset=".987" stop-color="#00d5d6"/><stop offset="1" stop-color="#00d5d6"/></linearGradient><linearGradient id="g285"><stop offset="0" stop-color="#d60c00"/><stop offset=".065" stop-color="#d61200"/><stop offset=".143" stop-color="#d6cd00"/><stop offset=".247" stop-color="#36d6a0"/><stop offset=".286" stop-color="#02d6d4"/><stop offset=".442" stop-color="#001ed6"/><stop offset=".597" stop-color="#0000d0"/><stop offset=".766" stop-color="#000cd6"/><stop offset=".844" stop-color="#0037d6"/><stop offset=".909" stop-color="#0094d6"/><stop offset=".948" stop-color="#05d6d1"/><stop offset=".974" stop-color="#1fd6b7"/><stop offset="1" stop-color="#1fd6b7"/></linearGradient><linearGradient id="g286"><stop offset="0" stop-color="#d65300"/><stop offset=".052" stop-color="#d65300"/><stop offset=".065" stop-color="#d66000"/><stop offset=".117" stop-color="#d4d603"/><stop offset=".208" stop-color="#40d696"/><stop offset=".26" stop-color="#00d2d6"/><stop offset=".403" stop-color="#0031d6"/><stop offset=".662" stop-color="#001ed6"/><stop offset=".792" stop-color="#0040d6"/><stop offset=".857" stop-color="#008ad6"/><stop offset=".896" stop-color="#00ced6"/><stop offset=".948" stop-color="#33d6a3"/><stop offset="1" stop-color="#33d6a3"/></linearGradient><linearGradient id="g287"><stop offset="0" stop-color="#d6a200"/><stop offset=".053" stop-color="#d6a200"/><stop offset=".067" stop-color="#d6ad00"/><stop offset=".08" stop-color="#d6cb00"/><stop offset=".133" stop-color="#83d653"/><stop offset=".227" stop-color="#03d6d3"/><stop offset=".36" stop-color="#003fd6"/><stop offset=".64" stop-color="#003ad6"/><stop offset=".773" stop-color="#005cd6"/><stop offset=".84" stop-color="#00a0d6"/><stop offset=".88" stop-color="#09d6cd"/><stop offset=".92" stop-color="#36d6a0"/><stop offset="1" stop-color="#3bd69b"/></linearGradient><linearGradient id="g288"><stop offset="0" stop-color="#c7d60f"/><stop offset=".069" stop-color="#bed618"/><stop offset=".167" stop-color="#30d6a6"/><stop offset=".208" stop-color="#00d3d6"/><stop offset=".347" stop-color="#003fd6"/><stop offset=".597" stop-color="#004cd6"/><stop offset=".778" stop-color="#0089d6"/><stop offset=".847" stop-color="#00d0d6"/><stop offset=".917" stop-color="#44d692"/><stop offset="1" stop-color="#46d690"/></linearGradient><linearGradient id="g289"><stop offset="0" stop-color="#8ed648"/><stop offset=".072" stop-color="#85d651"/><stop offset=".174" stop-color="#05d6d1"/><stop offset=".319" stop-color="#0042d6"/><stop offset=".551" stop-color="#0051d6"/><stop offset=".797" stop-color="#00bed6"/><stop offset=".826" stop-color="#03d6d3"/><stop offset=".899" stop-color="#4bd68b"/><stop offset="1" stop-color="#50d686"/></linearGradient><linearGradient id="g290"><stop offset="0" stop-color="#5ad67c"/><stop offset=".076" stop-color="#54d682"/><stop offset=".152" stop-color="#00d5d6"/><stop offset=".303" stop-color="#0042d6"/><stop offset=".53" stop-color="#0052d6"/><stop offset=".773" stop-color="#00b4d6"/><stop offset=".818" stop-color="#04d6d2"/><stop offset=".894" stop-color="#4cd68a"/><stop offset="1" stop-color="#51d685"/></linearGradient><linearGradient id="g291"><stop offset="0" stop-color="#30d6a7"/><stop offset=".079" stop-color="#29d6ad"/><stop offset=".127" stop-color="#00ced6"/><stop offset=".27" stop-color="#0045d6"/><stop offset=".54" stop-color="#0051d6"/><stop offset=".746" stop-color="#008ed6"/><stop offset=".825" stop-color="#00d4d6"/><stop offset=".905" stop-color="#47d690"/><stop offset="1" stop-color="#48d68e"/></linearGradient><linearGradient id="g292"><stop offset="0" stop-color="#05d6d1"/><stop offset=".083" stop-color="#00d6d6"/><stop offset=".233" stop-color="#004ed6"/><stop offset=".567" stop-color="#0051d6"/><stop offset=".717" stop-color="#0067d6"/><stop offset=".8" stop-color="#00aad6"/><stop offset=".833" stop-color="#00d2d6"/><stop offset=".9" stop-color="#3ad69c"/><stop offset="1" stop-color="#3ed698"/></linearGradient><linearGradient id="g293"><stop offset="0" stop-color="#00b7d6"/><stop offset=".088" stop-color="#00b2d6"/><stop offset=".193" stop-color="#005ad6"/><stop offset=".702" stop-color="#0058d6"/><stop offset=".789" stop-color="#009dd6"/><stop offset=".842" stop-color="#07d6d0"/><stop offset=".895" stop-color="#34d6a2"/><stop offset="1" stop-color="#39d69d"/></linearGradient><linearGradient id="g294"><stop offset="0" stop-color="#0094d6"/><stop offset=".094" stop-color="#008ed6"/><stop offset=".151" stop-color="#0062d6"/><stop offset=".717" stop-color="#0065d6"/><stop offset=".83" stop-color="#01d6d5"/><stop offset=".887" stop-color="#32d6a5"/><stop offset="1" stop-color="#38d69e"/></linearGradient><linearGradient id="g295"><stop offset="0" stop-color="#006dd6"/><stop offset=".7" stop-color="#0068d6"/><stop offset=".78" stop-color="#00aad6"/><stop offset=".82" stop-color="#01d6d6"/><stop offset=".88" stop-color="#31d6a5"/><stop offset="1" stop-color="#38d69e"/></linearGradient><linearGradient id="g296"><stop offset="0" stop-color="#0082d6"/><stop offset=".723" stop-color="#0083d6"/><stop offset=".809" stop-color="#01d6d5"/><stop offset=".872" stop-color="#31d6a5"/><stop offset="1" stop-color="#38d69f"/></linearGradient><linearGradient id="g297"><stop offset="0" stop-color="#00a1d6"/><stop offset=".727" stop-color="#00a1d6"/><stop offset=".795" stop-color="#01d6d5"/><stop offset=".864" stop-color="#31d6a5"/><stop offset="1" stop-color="#38d69f"/></linearGradient><linearGradient id="g298"><stop offset="0" stop-color="#00bfd6"/><stop offset=".756" stop-color="#00c2d6"/><stop offset=".78" stop-color="#02d6d5"/><stop offset=".854" stop-color="#32d6a5"/><stop offset="1" stop-color="#38d69f"/></linearGradient><linearGradient id="g299"><stop offset="0" stop-color="#04d6d2"/><stop offset=".763" stop-color="#04d6d2"/><stop offset=".868" stop-color="#37d69f"/><stop offset="1" stop-color="#38d69f"/></linearGradient><linearGradient id="g300"><stop offset="0" stop-color="#20d6b6"/><stop offset="1" stop-color="#20d6b6"/></linearGradient><linearGradient id="g301"><stop offset="0" stop-color="#3bd69b"/><stop offset="1" stop-color="#3bd69b"/></linearGradient><linearGradient id="g302"><stop offset="0" stop-color="#57d680"/><stop offset="1" stop-color="#57d680"/></linearGradient><linearGradient id="g303"><stop offset="0" stop-color="#74d663"/><stop offset="1" stop-color="#74d663"/></linearGradient><linearGradient id="g304"><stop offset="0" stop-color="#96d640"/><stop offset="1" stop-color="#96d640"/></linearGradient><linearGradient id="g305"><stop offset="0" stop-color="#b8d61e"/><stop offset="1" stop-color="#b8d61e"/></linearGradient><linearGradient id="g306"><stop offset="0" stop-color="#cbd60b"/><stop offset="1" stop-color="#cbd60b"/></linearGradient><linearGradient id="g307"><stop offset="0" stop-color="#d6d300"/><stop offset="1" stop-color="#d6d300"/></linearGradient><linearGradient id="g308"><stop offset="0" stop-color="#d6c400"/><stop offset="1" stop-color="#d6c400"/></linearGradient><linearGradient id="g309"><stop offset="0" stop-color="#d6c100"/><stop offset="1" stop-color="#d6c100"/></linearGradient><linearGradient id="g310"><stop offset="0" stop-color="#d6c100"/><stop offset="1" stop-color="#d6c100"/></linearGradient><clipPath id="cr1c3"><polygon points="2.5,-1.3 62.4,-104.2 112.5,-19.5 102,-1.3"/></clipPath></defs>
<g transform="translate(933.9 445.9)">
<polygon points="0,0 62.3,-107 114,-19.5 102.8,0" fill="#3e3e3e" stroke="#3e3e3e" stroke-width="1" stroke-linejoin="miter" stroke-miterlimit="6"/>
<g clip-path="url(#cr1c3)"><g filter="url(#vb)"><rect x="-8.2" y="4" width="116.8" height="4.6" fill="url(#g280)"/><rect x="-8.2" y="0" width="116.8" height="4.6" fill="url(#g281)"/><rect x="-5.8" y="-4" width="116.8" height="4.6" fill="url(#g282)"/><rect x="-3.5" y="-8" width="116.8" height="4.6" fill="url(#g283)"/><rect x="-1.2" y="-12" width="116.7" height="4.6" fill="url(#g284)"/><rect x="1.2" y="-16" width="116.7" height="4.6" fill="url(#g285)"/><rect x="3.5" y="-20" width="116.7" height="4.6" fill="url(#g286)"/><rect x="5.8" y="-24" width="113.7" height="4.6" fill="url(#g287)"/><rect x="8.1" y="-28" width="109" height="4.6" fill="url(#g288)"/><rect x="10.5" y="-32" width="104.3" height="4.6" fill="url(#g289)"/><rect x="12.8" y="-36" width="99.6" height="4.6" fill="url(#g290)"/><rect x="15.1" y="-40" width="94.9" height="4.6" fill="url(#g291)"/><rect x="17.5" y="-44" width="90.3" height="4.6" fill="url(#g292)"/><rect x="19.8" y="-48" width="85.6" height="4.6" fill="url(#g293)"/><rect x="22.1" y="-52" width="80.9" height="4.6" fill="url(#g294)"/><rect x="24.4" y="-56" width="76.2" height="4.6" fill="url(#g295)"/><rect x="26.8" y="-60" width="71.5" height="4.6" fill="url(#g296)"/><rect x="29.1" y="-64" width="66.8" height="4.6" fill="url(#g297)"/><rect x="31.4" y="-68" width="62.1" height="4.6" fill="url(#g298)"/><rect x="33.8" y="-72" width="57.4" height="4.6" fill="url(#g299)"/><rect x="36.1" y="-76" width="52.7" height="4.6" fill="url(#g300)"/><rect x="38.4" y="-80" width="48" height="4.6" fill="url(#g301)"/><rect x="40.7" y="-84" width="43.3" height="4.6" fill="url(#g302)"/><rect x="43.1" y="-88" width="38.6" height="4.6" fill="url(#g303)"/><rect x="45.4" y="-92" width="33.9" height="4.6" fill="url(#g304)"/><rect x="47.7" y="-96" width="29.3" height="4.6" fill="url(#g305)"/><rect x="50.1" y="-100" width="24.6" height="4.6" fill="url(#g306)"/><rect x="52.4" y="-104" width="19.9" height="4.6" fill="url(#g307)"/><rect x="54.7" y="-108" width="15.2" height="4.6" fill="url(#g308)"/><rect x="56.5" y="-112" width="15" height="4.6" fill="url(#g309)"/><rect x="56.5" y="-116" width="15" height="4.6" fill="url(#g310)"/></g><use href="#meshg"/></g>
<text x="54.5" y="-104.1" font-size="13.7" fill="#3348ad" stroke="#3348ad" stroke-width=".25" text-anchor="end">0%</text>
<text x="71.9" y="-104.1" font-size="13.7" fill="#111" stroke="#111" stroke-width=".25">60%</text>
<text x="-.6" y="-53.6" font-size="15.5" fill="#1f30b4" stroke="#1f30b4" stroke-width=".45" font-weight="bold" text-anchor="middle">CS</text>
<text x="122.9" y="-58.7" font-size="14.9" fill="#111" stroke="#111" stroke-width=".45" font-weight="bold" text-anchor="middle">LAC</text>
<text x="-.2" y="-4" font-size="13.7" fill="#3348ad" stroke="#3348ad" stroke-width=".25" text-anchor="end">60%</text>
<text x="122.6" y="2.9" font-size="13.7" fill="#111" stroke="#111" stroke-width=".25">0%</text>
<text x="-.9" y="16.3" font-size="13.7" fill="#d0554c" stroke="#d0554c" stroke-width=".25" text-anchor="middle">40%</text>
<text x="56.8" y="17.7" font-size="16.2" fill="#e02818" stroke="#e02818" stroke-width=".45" font-weight="bold" text-anchor="middle">MCC</text>
<text x="109.6" y="16.3" font-size="13.7" fill="#d0554c" stroke="#d0554c" stroke-width=".25" text-anchor="middle">90%</text>
<rect x="-8.9" y="34.2" width="127.7" height="13.4" fill="url(#jet)"/><use href="#cbt"/>
<text x="-12.4" y="58" font-size="10.9" fill="#111" stroke="#111" stroke-width=".25">23</text>
<text x="110.8" y="58" font-size="10.9" fill="#111" stroke="#111" stroke-width=".25">52</text>
<text x="55.4" y="70.3" font-size="11.4" fill="#111" stroke="#111" stroke-width=".25" text-anchor="middle">DT (s)</text>
</g>
<defs><linearGradient id="g311"><stop offset="0" stop-color="#15d6c1"/><stop offset=".104" stop-color="#0ad6cc"/><stop offset=".273" stop-color="#0062d6"/><stop offset=".558" stop-color="#0000cd"/><stop offset=".727" stop-color="#008"/><stop offset=".844" stop-color="#009"/><stop offset=".961" stop-color="#0005d6"/><stop offset="1" stop-color="#002ad6"/></linearGradient><linearGradient id="g312"><stop offset="0" stop-color="#15d6c1"/><stop offset=".104" stop-color="#0ad6cc"/><stop offset=".273" stop-color="#0062d6"/><stop offset=".558" stop-color="#0000cd"/><stop offset=".727" stop-color="#008"/><stop offset=".844" stop-color="#009"/><stop offset=".961" stop-color="#0005d6"/><stop offset="1" stop-color="#002ad6"/></linearGradient><linearGradient id="g313"><stop offset="0" stop-color="#12d6c4"/><stop offset=".091" stop-color="#05d6d1"/><stop offset=".247" stop-color="#0068d6"/><stop offset=".532" stop-color="#0000cf"/><stop offset=".701" stop-color="#000087"/><stop offset=".818" stop-color="#000095"/><stop offset=".935" stop-color="#0003d6"/><stop offset="1" stop-color="#0051d6"/></linearGradient><linearGradient id="g314"><stop offset="0" stop-color="#00d3d6"/><stop offset=".078" stop-color="#00cbd6"/><stop offset=".247" stop-color="#0066d6"/><stop offset=".519" stop-color="#0000ce"/><stop offset=".688" stop-color="#00008c"/><stop offset=".805" stop-color="#00009e"/><stop offset=".896" stop-color="#0000d5"/><stop offset=".961" stop-color="#0057d6"/><stop offset="1" stop-color="#00a0d6"/></linearGradient><linearGradient id="g315"><stop offset="0" stop-color="#00b8d6"/><stop offset=".091" stop-color="#00abd6"/><stop offset=".506" stop-color="#0000d2"/><stop offset=".675" stop-color="#00009b"/><stop offset=".805" stop-color="#0000b5"/><stop offset=".857" stop-color="#0002d6"/><stop offset=".909" stop-color="#004bd6"/><stop offset=".974" stop-color="#00d3d6"/><stop offset=".987" stop-color="#13d6c3"/><stop offset="1" stop-color="#13d6c3"/></linearGradient><linearGradient id="g316"><stop offset="0" stop-color="#0098d6"/><stop offset=".13" stop-color="#0086d6"/><stop offset=".519" stop-color="#0000cf"/><stop offset=".675" stop-color="#0000b1"/><stop offset=".792" stop-color="#0000ce"/><stop offset=".831" stop-color="#0017d6"/><stop offset=".883" stop-color="#0071d6"/><stop offset=".922" stop-color="#00d3d6"/><stop offset=".961" stop-color="#4bd68b"/><stop offset="1" stop-color="#52d684"/></linearGradient><linearGradient id="g317"><stop offset="0" stop-color="#0083d6"/><stop offset=".182" stop-color="#006cd6"/><stop offset=".532" stop-color="#0000d0"/><stop offset=".701" stop-color="#0000ce"/><stop offset=".766" stop-color="#000dd6"/><stop offset=".818" stop-color="#0041d6"/><stop offset=".87" stop-color="#00b5d6"/><stop offset=".883" stop-color="#03d6d3"/><stop offset=".922" stop-color="#61d675"/><stop offset=".948" stop-color="#7ad65c"/><stop offset="1" stop-color="#7ad65c"/></linearGradient><linearGradient id="g318"><stop offset="0" stop-color="#0074d6"/><stop offset=".2" stop-color="#005fd6"/><stop offset=".533" stop-color="#0000d6"/><stop offset=".72" stop-color="#0011d6"/><stop offset=".787" stop-color="#0037d6"/><stop offset=".84" stop-color="#008cd6"/><stop offset=".867" stop-color="#00cdd6"/><stop offset=".92" stop-color="#6ad66c"/><stop offset=".973" stop-color="#78d65e"/><stop offset="1" stop-color="#78d65e"/></linearGradient><linearGradient id="g319"><stop offset="0" stop-color="#0068d6"/><stop offset=".222" stop-color="#0053d6"/><stop offset=".514" stop-color="#0002d6"/><stop offset=".722" stop-color="#0020d6"/><stop offset=".792" stop-color="#004bd6"/><stop offset=".847" stop-color="#009ed6"/><stop offset=".875" stop-color="#00d6d6"/><stop offset=".917" stop-color="#47d68f"/><stop offset=".958" stop-color="#57d67f"/><stop offset="1" stop-color="#57d67f"/></linearGradient><linearGradient id="g320"><stop offset="0" stop-color="#005cd6"/><stop offset=".232" stop-color="#0049d6"/><stop offset=".493" stop-color="#0001d6"/><stop offset=".696" stop-color="#0021d6"/><stop offset=".783" stop-color="#0050d6"/><stop offset=".884" stop-color="#09d6ce"/><stop offset=".928" stop-color="#35d6a1"/><stop offset="1" stop-color="#37d69f"/></linearGradient><linearGradient id="g321"><stop offset="0" stop-color="#0055d6"/><stop offset=".258" stop-color="#003fd6"/><stop offset=".5" stop-color="#0004d6"/><stop offset=".697" stop-color="#002bd6"/><stop offset=".788" stop-color="#0066d6"/><stop offset=".879" stop-color="#08d6ce"/><stop offset=".924" stop-color="#2cd6aa"/><stop offset="1" stop-color="#2dd6a9"/></linearGradient><linearGradient id="g322"><stop offset="0" stop-color="#004ed6"/><stop offset=".27" stop-color="#0039d6"/><stop offset=".508" stop-color="#000ed6"/><stop offset=".698" stop-color="#0036d6"/><stop offset=".778" stop-color="#006cd6"/><stop offset=".857" stop-color="#00d0d6"/><stop offset=".921" stop-color="#2dd6a9"/><stop offset="1" stop-color="#2ed6a8"/></linearGradient><linearGradient id="g323"><stop offset="0" stop-color="#004dd6"/><stop offset=".317" stop-color="#0034d6"/><stop offset=".533" stop-color="#001ed6"/><stop offset=".7" stop-color="#0043d6"/><stop offset=".783" stop-color="#0083d6"/><stop offset=".85" stop-color="#00d5d6"/><stop offset=".917" stop-color="#32d6a4"/><stop offset="1" stop-color="#32d6a4"/></linearGradient><linearGradient id="g324"><stop offset="0" stop-color="#0055d6"/><stop offset=".561" stop-color="#0036d6"/><stop offset=".702" stop-color="#0058d6"/><stop offset=".789" stop-color="#00a0d6"/><stop offset=".842" stop-color="#09d6ce"/><stop offset=".895" stop-color="#35d6a1"/><stop offset="1" stop-color="#3bd69b"/></linearGradient><linearGradient id="g325"><stop offset="0" stop-color="#006ad6"/><stop offset=".585" stop-color="#005ad6"/><stop offset=".698" stop-color="#0077d6"/><stop offset=".811" stop-color="#07d6d0"/><stop offset=".887" stop-color="#4ad68c"/><stop offset="1" stop-color="#51d686"/></linearGradient><linearGradient id="g326"><stop offset="0" stop-color="#0080d6"/><stop offset=".6" stop-color="#007bd6"/><stop offset=".7" stop-color="#009bd6"/><stop offset=".78" stop-color="#08d6ce"/><stop offset=".88" stop-color="#60d676"/><stop offset="1" stop-color="#66d670"/></linearGradient><linearGradient id="g327"><stop offset="0" stop-color="#0095d6"/><stop offset=".617" stop-color="#009bd6"/><stop offset=".745" stop-color="#02d6d4"/><stop offset=".872" stop-color="#60d677"/><stop offset="1" stop-color="#65d671"/></linearGradient><linearGradient id="g328"><stop offset="0" stop-color="#00add6"/><stop offset=".591" stop-color="#00b4d6"/><stop offset=".705" stop-color="#02d6d4"/><stop offset=".864" stop-color="#5bd67b"/><stop offset="1" stop-color="#5fd677"/></linearGradient><linearGradient id="g329"><stop offset="0" stop-color="#00c6d6"/><stop offset=".585" stop-color="#00ced6"/><stop offset=".683" stop-color="#12d6c5"/><stop offset=".854" stop-color="#56d680"/><stop offset="1" stop-color="#59d67d"/></linearGradient><linearGradient id="g330"><stop offset="0" stop-color="#04d6d2"/><stop offset=".579" stop-color="#0ed6c8"/><stop offset=".868" stop-color="#4fd687"/><stop offset="1" stop-color="#50d687"/></linearGradient><linearGradient id="g331"><stop offset="0" stop-color="#15d6c1"/><stop offset=".6" stop-color="#21d6b5"/><stop offset=".914" stop-color="#43d694"/><stop offset="1" stop-color="#43d694"/></linearGradient><linearGradient id="g332"><stop offset="0" stop-color="#27d6b0"/><stop offset="1" stop-color="#36d6a1"/></linearGradient><linearGradient id="g333"><stop offset="0" stop-color="#42d694"/><stop offset="1" stop-color="#42d694"/></linearGradient><linearGradient id="g334"><stop offset="0" stop-color="#5dd679"/><stop offset="1" stop-color="#5dd679"/></linearGradient><linearGradient id="g335"><stop offset="0" stop-color="#81d656"/><stop offset="1" stop-color="#81d656"/></linearGradient><linearGradient id="g336"><stop offset="0" stop-color="#abd62b"/><stop offset="1" stop-color="#abd62b"/></linearGradient><linearGradient id="g337"><stop offset="0" stop-color="#cad60c"/><stop offset="1" stop-color="#cad60c"/></linearGradient><linearGradient id="g338"><stop offset="0" stop-color="#d6d000"/><stop offset="1" stop-color="#d6d000"/></linearGradient><linearGradient id="g339"><stop offset="0" stop-color="#d6bd00"/><stop offset="1" stop-color="#d6bd00"/></linearGradient><linearGradient id="g340"><stop offset="0" stop-color="#d6b800"/><stop offset="1" stop-color="#d6b800"/></linearGradient><linearGradient id="g341"><stop offset="0" stop-color="#d6b800"/><stop offset="1" stop-color="#d6b800"/></linearGradient><clipPath id="cr1c4"><polygon points="2.5,-1.3 62.4,-104.2 112.5,-19.5 102,-1.3"/></clipPath></defs>
<g transform="translate(1127.8 445.9)">
<polygon points="0,0 62.3,-107 114,-19.5 102.8,0" fill="#3e3e3e" stroke="#3e3e3e" stroke-width="1" stroke-linejoin="miter" stroke-miterlimit="6"/>
<g clip-path="url(#cr1c4)"><g filter="url(#vb)"><rect x="-8.2" y="4" width="116.8" height="4.6" fill="url(#g311)"/><rect x="-8.2" y="0" width="116.8" height="4.6" fill="url(#g312)"/><rect x="-5.8" y="-4" width="116.8" height="4.6" fill="url(#g313)"/><rect x="-3.5" y="-8" width="116.8" height="4.6" fill="url(#g314)"/><rect x="-1.2" y="-12" width="116.7" height="4.6" fill="url(#g315)"/><rect x="1.2" y="-16" width="116.7" height="4.6" fill="url(#g316)"/><rect x="3.5" y="-20" width="116.7" height="4.6" fill="url(#g317)"/><rect x="5.8" y="-24" width="113.7" height="4.6" fill="url(#g318)"/><rect x="8.1" y="-28" width="109" height="4.6" fill="url(#g319)"/><rect x="10.5" y="-32" width="104.3" height="4.6" fill="url(#g320)"/><rect x="12.8" y="-36" width="99.6" height="4.6" fill="url(#g321)"/><rect x="15.1" y="-40" width="94.9" height="4.6" fill="url(#g322)"/><rect x="17.5" y="-44" width="90.3" height="4.6" fill="url(#g323)"/><rect x="19.8" y="-48" width="85.6" height="4.6" fill="url(#g324)"/><rect x="22.1" y="-52" width="80.9" height="4.6" fill="url(#g325)"/><rect x="24.4" y="-56" width="76.2" height="4.6" fill="url(#g326)"/><rect x="26.8" y="-60" width="71.5" height="4.6" fill="url(#g327)"/><rect x="29.1" y="-64" width="66.8" height="4.6" fill="url(#g328)"/><rect x="31.4" y="-68" width="62.1" height="4.6" fill="url(#g329)"/><rect x="33.8" y="-72" width="57.4" height="4.6" fill="url(#g330)"/><rect x="36.1" y="-76" width="52.7" height="4.6" fill="url(#g331)"/><rect x="38.4" y="-80" width="48" height="4.6" fill="url(#g332)"/><rect x="40.7" y="-84" width="43.3" height="4.6" fill="url(#g333)"/><rect x="43.1" y="-88" width="38.6" height="4.6" fill="url(#g334)"/><rect x="45.4" y="-92" width="33.9" height="4.6" fill="url(#g335)"/><rect x="47.7" y="-96" width="29.3" height="4.6" fill="url(#g336)"/><rect x="50.1" y="-100" width="24.6" height="4.6" fill="url(#g337)"/><rect x="52.4" y="-104" width="19.9" height="4.6" fill="url(#g338)"/><rect x="54.7" y="-108" width="15.2" height="4.6" fill="url(#g339)"/><rect x="56.5" y="-112" width="15" height="4.6" fill="url(#g340)"/><rect x="56.5" y="-116" width="15" height="4.6" fill="url(#g341)"/></g><use href="#meshg"/></g>
<circle cx="68.7" cy="-31.9" r="1.6" fill="#e040e0"/>
<text x="54.5" y="-104.1" font-size="13.7" fill="#3348ad" stroke="#3348ad" stroke-width=".25" text-anchor="end">0%</text>
<text x="71.9" y="-104.1" font-size="13.7" fill="#111" stroke="#111" stroke-width=".25">60%</text>
<text x="-.6" y="-53.6" font-size="15.5" fill="#1f30b4" stroke="#1f30b4" stroke-width=".45" font-weight="bold" text-anchor="middle">CS</text>
<text x="122.9" y="-58.7" font-size="14.9" fill="#111" stroke="#111" stroke-width=".45" font-weight="bold" text-anchor="middle">LAC</text>
<text x="-.2" y="-4" font-size="13.7" fill="#3348ad" stroke="#3348ad" stroke-width=".25" text-anchor="end">60%</text>
<text x="122.6" y="2.9" font-size="13.7" fill="#111" stroke="#111" stroke-width=".25">0%</text>
<text x="-.9" y="16.3" font-size="13.7" fill="#d0554c" stroke="#d0554c" stroke-width=".25" text-anchor="middle">40%</text>
<text x="56.8" y="17.7" font-size="16.2" fill="#e02818" stroke="#e02818" stroke-width=".45" font-weight="bold" text-anchor="middle">MCC</text>
<text x="109.6" y="16.3" font-size="13.7" fill="#d0554c" stroke="#d0554c" stroke-width=".25" text-anchor="middle">90%</text>
<rect x="-8.9" y="34.2" width="127.7" height="13.4" fill="url(#jet)"/><use href="#cbt"/>
<text x="-12.4" y="58" font-size="10.9" fill="#111" stroke="#111" stroke-width=".25">25</text>
<text x="110.8" y="58" font-size="10.9" fill="#111" stroke="#111" stroke-width=".25">90</text>
<text x="55.4" y="70.3" font-size="11.4" fill="#111" stroke="#111" stroke-width=".25" text-anchor="middle">DT (s)</text>
</g>
<defs><linearGradient id="g342"><stop offset="0" stop-color="#6b0000"/><stop offset=".091" stop-color="#780000"/><stop offset=".234" stop-color="#d60500"/><stop offset=".325" stop-color="#d67c00"/><stop offset=".377" stop-color="#d1d605"/><stop offset=".532" stop-color="#11d6c5"/><stop offset=".571" stop-color="#00c4d6"/><stop offset=".766" stop-color="#0039d6"/><stop offset=".857" stop-color="#001cd6"/><stop offset="1" stop-color="#0012d6"/></linearGradient><linearGradient id="g343"><stop offset="0" stop-color="#6b0000"/><stop offset=".091" stop-color="#780000"/><stop offset=".234" stop-color="#d60500"/><stop offset=".325" stop-color="#d67c00"/><stop offset=".377" stop-color="#d1d605"/><stop offset=".532" stop-color="#11d6c5"/><stop offset=".571" stop-color="#00c4d6"/><stop offset=".766" stop-color="#0039d6"/><stop offset=".857" stop-color="#001cd6"/><stop offset="1" stop-color="#0012d6"/></linearGradient><linearGradient id="g344"><stop offset="0" stop-color="#750000"/><stop offset=".078" stop-color="#7f0000"/><stop offset=".208" stop-color="#d60500"/><stop offset=".299" stop-color="#d67c00"/><stop offset=".351" stop-color="#d1d605"/><stop offset=".506" stop-color="#11d6c5"/><stop offset=".545" stop-color="#00c4d6"/><stop offset=".74" stop-color="#0039d6"/><stop offset=".831" stop-color="#001ed6"/><stop offset=".961" stop-color="#0028d6"/><stop offset="1" stop-color="#0014d6"/></linearGradient><linearGradient id="g345"><stop offset="0" stop-color="#800"/><stop offset=".078" stop-color="#930000"/><stop offset=".169" stop-color="#d60000"/><stop offset=".221" stop-color="#d63b00"/><stop offset=".286" stop-color="#d69f00"/><stop offset=".312" stop-color="#d6d300"/><stop offset=".481" stop-color="#0ad6cd"/><stop offset=".662" stop-color="#0056d6"/><stop offset=".766" stop-color="#0022d6"/><stop offset=".844" stop-color="#0034d6"/><stop offset=".922" stop-color="#005cd6"/><stop offset=".987" stop-color="#0029d6"/><stop offset="1" stop-color="#001cd6"/></linearGradient><linearGradient id="g346"><stop offset="0" stop-color="#9b0000"/><stop offset=".078" stop-color="#a60000"/><stop offset=".143" stop-color="#d60500"/><stop offset=".234" stop-color="#d67c00"/><stop offset=".286" stop-color="#d1d605"/><stop offset=".442" stop-color="#11d6c5"/><stop offset=".481" stop-color="#00c4d6"/><stop offset=".675" stop-color="#003ad6"/><stop offset=".753" stop-color="#0022d6"/><stop offset=".818" stop-color="#0046d6"/><stop offset=".883" stop-color="#0093d6"/><stop offset=".922" stop-color="#008cd6"/><stop offset=".987" stop-color="#002bd6"/><stop offset="1" stop-color="#002bd6"/></linearGradient><linearGradient id="g347"><stop offset="0" stop-color="#b20000"/><stop offset=".065" stop-color="#b60000"/><stop offset=".117" stop-color="#d60b00"/><stop offset=".221" stop-color="#d6a000"/><stop offset=".247" stop-color="#d6d300"/><stop offset=".416" stop-color="#0ad6cd"/><stop offset=".623" stop-color="#0047d6"/><stop offset=".701" stop-color="#0025d6"/><stop offset=".766" stop-color="#0033d6"/><stop offset=".87" stop-color="#00cad6"/><stop offset=".896" stop-color="#00c5d6"/><stop offset=".948" stop-color="#0065d6"/><stop offset=".974" stop-color="#003dd6"/><stop offset="1" stop-color="#003dd6"/></linearGradient><linearGradient id="g348"><stop offset="0" stop-color="#cd0000"/><stop offset=".078" stop-color="#d60500"/><stop offset=".169" stop-color="#d67c00"/><stop offset=".221" stop-color="#d0d606"/><stop offset=".377" stop-color="#11d6c5"/><stop offset=".416" stop-color="#00c4d6"/><stop offset=".584" stop-color="#004dd6"/><stop offset=".675" stop-color="#0027d6"/><stop offset=".74" stop-color="#0034d6"/><stop offset=".779" stop-color="#0064d6"/><stop offset=".831" stop-color="#00ccd6"/><stop offset=".87" stop-color="#09d6cd"/><stop offset=".883" stop-color="#00d2d6"/><stop offset=".948" stop-color="#0045d6"/><stop offset="1" stop-color="#0045d6"/></linearGradient><linearGradient id="g349"><stop offset="0" stop-color="#d61200"/><stop offset=".067" stop-color="#d61600"/><stop offset=".16" stop-color="#d6a100"/><stop offset=".187" stop-color="#d6d400"/><stop offset=".36" stop-color="#09d6cd"/><stop offset=".573" stop-color="#004dd6"/><stop offset=".667" stop-color="#002dd6"/><stop offset=".747" stop-color="#003bd6"/><stop offset=".787" stop-color="#006ed6"/><stop offset=".84" stop-color="#00c5d6"/><stop offset=".867" stop-color="#00cfd6"/><stop offset=".907" stop-color="#009bd6"/><stop offset=".933" stop-color="#0061d6"/><stop offset="1" stop-color="#0056d6"/></linearGradient><linearGradient id="g350"><stop offset="0" stop-color="#d63e00"/><stop offset=".069" stop-color="#d64500"/><stop offset=".167" stop-color="#d0d606"/><stop offset=".333" stop-color="#11d6c6"/><stop offset=".375" stop-color="#00c4d6"/><stop offset=".528" stop-color="#0062d6"/><stop offset=".653" stop-color="#0036d6"/><stop offset=".75" stop-color="#0033d6"/><stop offset=".806" stop-color="#0061d6"/><stop offset=".861" stop-color="#0099d6"/><stop offset=".903" stop-color="#008dd6"/><stop offset=".944" stop-color="#005fd6"/><stop offset="1" stop-color="#005fd6"/></linearGradient><linearGradient id="g351"><stop offset="0" stop-color="#d66d00"/><stop offset=".072" stop-color="#d67400"/><stop offset=".13" stop-color="#d6d400"/><stop offset=".319" stop-color="#0ad6cc"/><stop offset=".493" stop-color="#006fd6"/><stop offset=".652" stop-color="#003ed6"/><stop offset=".783" stop-color="#0030d6"/><stop offset=".884" stop-color="#005fd6"/><stop offset=".971" stop-color="#004ad6"/><stop offset="1" stop-color="#004ad6"/></linearGradient><linearGradient id="g352"><stop offset="0" stop-color="#d6a500"/><stop offset=".076" stop-color="#d6ae00"/><stop offset=".106" stop-color="#d0d606"/><stop offset=".288" stop-color="#11d6c5"/><stop offset=".333" stop-color="#00c5d6"/><stop offset=".485" stop-color="#006fd6"/><stop offset=".773" stop-color="#0023d6"/><stop offset="1" stop-color="#0027d6"/></linearGradient><linearGradient id="g353"><stop offset="0" stop-color="#cdd609"/><stop offset=".079" stop-color="#c7d60f"/><stop offset=".27" stop-color="#0ad6cc"/><stop offset=".397" stop-color="#0090d6"/><stop offset=".619" stop-color="#0045d6"/><stop offset=".857" stop-color="#000fd6"/><stop offset="1" stop-color="#000bd6"/></linearGradient><linearGradient id="g354"><stop offset="0" stop-color="#a1d635"/><stop offset=".083" stop-color="#9bd63b"/><stop offset=".25" stop-color="#04d6d3"/><stop offset=".467" stop-color="#006ad6"/><stop offset=".85" stop-color="#0004d6"/><stop offset="1" stop-color="#0000d2"/></linearGradient><linearGradient id="g355"><stop offset="0" stop-color="#75d661"/><stop offset=".088" stop-color="#6fd667"/><stop offset=".228" stop-color="#00d5d6"/><stop offset=".439" stop-color="#006ad6"/><stop offset=".754" stop-color="#000dd6"/><stop offset="1" stop-color="#00c"/></linearGradient><linearGradient id="g356"><stop offset="0" stop-color="#4fd688"/><stop offset=".094" stop-color="#49d68e"/><stop offset=".189" stop-color="#01d6d5"/><stop offset=".453" stop-color="#0059d6"/><stop offset=".642" stop-color="#0022d6"/><stop offset=".83" stop-color="#0000d2"/><stop offset="1" stop-color="#0000ca"/></linearGradient><linearGradient id="g357"><stop offset="0" stop-color="#2ad6ac"/><stop offset=".1" stop-color="#24d6b2"/><stop offset=".16" stop-color="#00d2d6"/><stop offset=".44" stop-color="#0052d6"/><stop offset=".64" stop-color="#0019d6"/><stop offset=".82" stop-color="#0000d1"/><stop offset="1" stop-color="#0000ca"/></linearGradient><linearGradient id="g358"><stop offset="0" stop-color="#06d6d0"/><stop offset=".128" stop-color="#00cdd6"/><stop offset=".447" stop-color="#0043d6"/><stop offset=".66" stop-color="#000fd6"/><stop offset=".872" stop-color="#00c"/><stop offset="1" stop-color="#0000ca"/></linearGradient><linearGradient id="g359"><stop offset="0" stop-color="#00c1d6"/><stop offset=".114" stop-color="#00bdd6"/><stop offset=".477" stop-color="#002dd6"/><stop offset=".773" stop-color="#0000d1"/><stop offset="1" stop-color="#0000ca"/></linearGradient><linearGradient id="g360"><stop offset="0" stop-color="#00a7d6"/><stop offset=".122" stop-color="#00a3d6"/><stop offset=".512" stop-color="#0020d6"/><stop offset=".78" stop-color="#0000d0"/><stop offset="1" stop-color="#0000cb"/></linearGradient><linearGradient id="g361"><stop offset="0" stop-color="#008cd6"/><stop offset=".132" stop-color="#0088d6"/><stop offset=".5" stop-color="#001ed6"/><stop offset=".789" stop-color="#0000cf"/><stop offset="1" stop-color="#00c"/></linearGradient><linearGradient id="g362"><stop offset="0" stop-color="#0074d6"/><stop offset=".171" stop-color="#0069d6"/><stop offset=".457" stop-color="#001fd6"/><stop offset=".771" stop-color="#0000d0"/><stop offset="1" stop-color="#00c"/></linearGradient><linearGradient id="g363"><stop offset="0" stop-color="#005fd6"/><stop offset=".187" stop-color="#0054d6"/><stop offset=".469" stop-color="#001ad6"/><stop offset=".781" stop-color="#0000d0"/><stop offset="1" stop-color="#0000cd"/></linearGradient><linearGradient id="g364"><stop offset="0" stop-color="#004bd6"/><stop offset=".214" stop-color="#003ed6"/><stop offset=".571" stop-color="#000bd6"/><stop offset="1" stop-color="#0000ce"/></linearGradient><linearGradient id="g365"><stop offset="0" stop-color="#0036d6"/><stop offset=".24" stop-color="#002ad6"/><stop offset=".76" stop-color="#0000d0"/><stop offset="1" stop-color="#0000ce"/></linearGradient><linearGradient id="g366"><stop offset="0" stop-color="#0024d6"/><stop offset=".818" stop-color="#0000cf"/><stop offset="1" stop-color="#0000cf"/></linearGradient><linearGradient id="g367"><stop offset="0" stop-color="#001bd6"/><stop offset=".947" stop-color="#0000d0"/><stop offset="1" stop-color="#0000d0"/></linearGradient><linearGradient id="g368"><stop offset="0" stop-color="#0011d6"/><stop offset="1" stop-color="#0000d0"/></linearGradient><linearGradient id="g369"><stop offset="0" stop-color="#0007d6"/><stop offset="1" stop-color="#0000d1"/></linearGradient><linearGradient id="g370"><stop offset="0" stop-color="#0000d4"/><stop offset="1" stop-color="#0000d2"/></linearGradient><linearGradient id="g371"><stop offset="0" stop-color="#0000d2"/><stop offset="1" stop-color="#0000d2"/></linearGradient><linearGradient id="g372"><stop offset="0" stop-color="#0000d2"/><stop offset="1" stop-color="#0000d2"/></linearGradient><clipPath id="cr2c0"><polygon points="5.2,-2.3 62.9,-101.5 111.3,-19.5 101.5,-2.3"/></clipPath></defs>
<g transform="translate(348.7 667.2)">
<polygon points="0,0 62.3,-107 114,-19.5 102.8,0" fill="#3e3e3e" stroke="#3e3e3e" stroke-width="1" stroke-linejoin="miter" stroke-miterlimit="6"/>
<g clip-path="url(#cr2c0)"><g filter="url(#vb)"><rect x="-8.2" y="4" width="116.8" height="4.6" fill="url(#g342)"/><rect x="-8.2" y="0" width="116.8" height="4.6" fill="url(#g343)"/><rect x="-5.8" y="-4" width="116.8" height="4.6" fill="url(#g344)"/><rect x="-3.5" y="-8" width="116.8" height="4.6" fill="url(#g345)"/><rect x="-1.2" y="-12" width="116.7" height="4.6" fill="url(#g346)"/><rect x="1.2" y="-16" width="116.7" height="4.6" fill="url(#g347)"/><rect x="3.5" y="-20" width="116.7" height="4.6" fill="url(#g348)"/><rect x="5.8" y="-24" width="113.7" height="4.6" fill="url(#g349)"/><rect x="8.1" y="-28" width="109" height="4.6" fill="url(#g350)"/><rect x="10.5" y="-32" width="104.3" height="4.6" fill="url(#g351)"/><rect x="12.8" y="-36" width="99.6" height="4.6" fill="url(#g352)"/><rect x="15.1" y="-40" width="94.9" height="4.6" fill="url(#g353)"/><rect x="17.5" y="-44" width="90.3" height="4.6" fill="url(#g354)"/><rect x="19.8" y="-48" width="85.6" height="4.6" fill="url(#g355)"/><rect x="22.1" y="-52" width="80.9" height="4.6" fill="url(#g356)"/><rect x="24.4" y="-56" width="76.2" height="4.6" fill="url(#g357)"/><rect x="26.8" y="-60" width="71.5" height="4.6" fill="url(#g358)"/><rect x="29.1" y="-64" width="66.8" height="4.6" fill="url(#g359)"/><rect x="31.4" y="-68" width="62.1" height="4.6" fill="url(#g360)"/><rect x="33.8" y="-72" width="57.4" height="4.6" fill="url(#g361)"/><rect x="36.1" y="-76" width="52.7" height="4.6" fill="url(#g362)"/><rect x="38.4" y="-80" width="48" height="4.6" fill="url(#g363)"/><rect x="40.7" y="-84" width="43.3" height="4.6" fill="url(#g364)"/><rect x="43.1" y="-88" width="38.6" height="4.6" fill="url(#g365)"/><rect x="45.4" y="-92" width="33.9" height="4.6" fill="url(#g366)"/><rect x="47.7" y="-96" width="29.3" height="4.6" fill="url(#g367)"/><rect x="50.1" y="-100" width="24.6" height="4.6" fill="url(#g368)"/><rect x="52.4" y="-104" width="19.9" height="4.6" fill="url(#g369)"/><rect x="54.7" y="-108" width="15.2" height="4.6" fill="url(#g370)"/><rect x="56.5" y="-112" width="15" height="4.6" fill="url(#g371)"/><rect x="56.5" y="-116" width="15" height="4.6" fill="url(#g372)"/></g><use href="#meshg"/></g>
<text x="54.5" y="-104.1" font-size="13.7" fill="#3348ad" stroke="#3348ad" stroke-width=".25" text-anchor="end">0%</text>
<text x="71.9" y="-104.1" font-size="13.7" fill="#111" stroke="#111" stroke-width=".25">60%</text>
<text x="-.6" y="-53.6" font-size="15.5" fill="#1f30b4" stroke="#1f30b4" stroke-width=".45" font-weight="bold" text-anchor="middle">CS</text>
<text x="122.9" y="-58.7" font-size="14.9" fill="#111" stroke="#111" stroke-width=".45" font-weight="bold" text-anchor="middle">LAC</text>
<text x="-.2" y="-4" font-size="13.7" fill="#3348ad" stroke="#3348ad" stroke-width=".25" text-anchor="end">60%</text>
<text x="122.6" y="2.9" font-size="13.7" fill="#111" stroke="#111" stroke-width=".25">0%</text>
<text x="-.9" y="16.3" font-size="13.7" fill="#d0554c" stroke="#d0554c" stroke-width=".25" text-anchor="middle">40%</text>
<text x="56.8" y="17.7" font-size="16.2" fill="#e02818" stroke="#e02818" stroke-width=".45" font-weight="bold" text-anchor="middle">MCC</text>
<text x="109.6" y="16.3" font-size="13.7" fill="#d0554c" stroke="#d0554c" stroke-width=".25" text-anchor="middle">90%</text>
<rect x="-8.9" y="34.2" width="127.7" height="13.4" fill="url(#jet)"/><use href="#cbt"/>
<text x="-12.4" y="58" font-size="10.9" fill="#111" stroke="#111" stroke-width=".25">20</text>
<text x="110.8" y="58" font-size="10.9" fill="#111" stroke="#111" stroke-width=".25">90</text>
<text x="55.4" y="70.3" font-size="11.4" fill="#111" stroke="#111" stroke-width=".25" text-anchor="middle">DT (s)</text>
</g>
<defs><linearGradient id="g373"><stop offset="0" stop-color="#6b0000"/><stop offset=".078" stop-color="#710000"/><stop offset=".195" stop-color="#d60900"/><stop offset=".299" stop-color="#d6cd00"/><stop offset=".442" stop-color="#04d6d3"/><stop offset=".61" stop-color="#0001d6"/><stop offset=".662" stop-color="#0000a9"/><stop offset=".753" stop-color="#00008d"/><stop offset=".883" stop-color="#000097"/><stop offset=".987" stop-color="#0009d6"/><stop offset="1" stop-color="#0012d6"/></linearGradient><linearGradient id="g374"><stop offset="0" stop-color="#6b0000"/><stop offset=".078" stop-color="#710000"/><stop offset=".195" stop-color="#d60900"/><stop offset=".299" stop-color="#d6cd00"/><stop offset=".442" stop-color="#04d6d3"/><stop offset=".61" stop-color="#0001d6"/><stop offset=".662" stop-color="#0000a9"/><stop offset=".753" stop-color="#00008d"/><stop offset=".883" stop-color="#000097"/><stop offset=".987" stop-color="#0009d6"/><stop offset="1" stop-color="#0012d6"/></linearGradient><linearGradient id="g375"><stop offset="0" stop-color="#700"/><stop offset=".065" stop-color="#7b0000"/><stop offset=".169" stop-color="#d60900"/><stop offset=".273" stop-color="#d6cd00"/><stop offset=".416" stop-color="#04d6d2"/><stop offset=".584" stop-color="#0001d6"/><stop offset=".649" stop-color="#0000a4"/><stop offset=".727" stop-color="#00008e"/><stop offset=".844" stop-color="#000097"/><stop offset=".935" stop-color="#0005d6"/><stop offset="1" stop-color="#0042d6"/></linearGradient><linearGradient id="g376"><stop offset="0" stop-color="#8e0000"/><stop offset=".065" stop-color="#920000"/><stop offset=".13" stop-color="#d60000"/><stop offset=".221" stop-color="#d6a600"/><stop offset=".247" stop-color="#d5d601"/><stop offset=".39" stop-color="#00d3d6"/><stop offset=".545" stop-color="#000ad6"/><stop offset=".636" stop-color="#00009d"/><stop offset=".753" stop-color="#000090"/><stop offset=".792" stop-color="#000098"/><stop offset=".87" stop-color="#0007d6"/><stop offset=".974" stop-color="#007dd6"/><stop offset="1" stop-color="#00a2d6"/></linearGradient><linearGradient id="g377"><stop offset="0" stop-color="#a80000"/><stop offset=".065" stop-color="#ae0000"/><stop offset=".104" stop-color="#d60600"/><stop offset=".208" stop-color="#d6cb00"/><stop offset=".273" stop-color="#79d65d"/><stop offset=".351" stop-color="#06d6d0"/><stop offset=".519" stop-color="#0004d6"/><stop offset=".584" stop-color="#0000a7"/><stop offset=".662" stop-color="#000091"/><stop offset=".74" stop-color="#000096"/><stop offset=".805" stop-color="#0000d6"/><stop offset=".922" stop-color="#0096d6"/><stop offset=".961" stop-color="#00d6d6"/><stop offset=".987" stop-color="#2dd6a9"/><stop offset="1" stop-color="#2dd6a9"/></linearGradient><linearGradient id="g378"><stop offset="0" stop-color="#ce0000"/><stop offset=".065" stop-color="#d40000"/><stop offset=".117" stop-color="#d65800"/><stop offset=".182" stop-color="#d6d500"/><stop offset=".325" stop-color="#00d5d6"/><stop offset=".494" stop-color="#0000d4"/><stop offset=".545" stop-color="#0000ab"/><stop offset=".623" stop-color="#000093"/><stop offset=".688" stop-color="#000093"/><stop offset=".753" stop-color="#0008d6"/><stop offset=".87" stop-color="#00bad6"/><stop offset=".883" stop-color="#00d4d6"/><stop offset=".961" stop-color="#a5d631"/><stop offset=".987" stop-color="#b4d622"/><stop offset="1" stop-color="#b4d622"/></linearGradient><linearGradient id="g379"><stop offset="0" stop-color="#d62800"/><stop offset=".065" stop-color="#d63100"/><stop offset=".143" stop-color="#d6ca00"/><stop offset=".182" stop-color="#a4d632"/><stop offset=".286" stop-color="#08d6ce"/><stop offset=".455" stop-color="#0006d6"/><stop offset=".532" stop-color="#0000a4"/><stop offset=".623" stop-color="#000095"/><stop offset=".649" stop-color="#00009b"/><stop offset=".701" stop-color="#000bd6"/><stop offset=".818" stop-color="#00d5d6"/><stop offset=".909" stop-color="#d6cf00"/><stop offset=".935" stop-color="#d68300"/><stop offset="1" stop-color="#d67b00"/></linearGradient><linearGradient id="g380"><stop offset="0" stop-color="#d66700"/><stop offset=".067" stop-color="#d67000"/><stop offset=".12" stop-color="#d6d400"/><stop offset=".267" stop-color="#01d6d6"/><stop offset=".44" stop-color="#0000d6"/><stop offset=".493" stop-color="#0000ad"/><stop offset=".573" stop-color="#000096"/><stop offset=".627" stop-color="#00009e"/><stop offset=".667" stop-color="#0000d4"/><stop offset=".8" stop-color="#09d6cd"/><stop offset=".88" stop-color="#c8d60e"/><stop offset=".907" stop-color="#d69a00"/><stop offset=".92" stop-color="#d67300"/><stop offset="1" stop-color="#d67100"/></linearGradient><linearGradient id="g381"><stop offset="0" stop-color="#d6a600"/><stop offset=".069" stop-color="#d6af00"/><stop offset=".097" stop-color="#cfd607"/><stop offset=".236" stop-color="#0ad6cc"/><stop offset=".319" stop-color="#007dd6"/><stop offset=".417" stop-color="#0008d6"/><stop offset=".528" stop-color="#00009b"/><stop offset=".611" stop-color="#00009d"/><stop offset=".653" stop-color="#0000d1"/><stop offset=".778" stop-color="#00bdd6"/><stop offset=".792" stop-color="#00d6d6"/><stop offset=".889" stop-color="#d6d000"/><stop offset=".917" stop-color="#d68500"/><stop offset="1" stop-color="#d68300"/></linearGradient><linearGradient id="g382"><stop offset="0" stop-color="#cdd609"/><stop offset=".072" stop-color="#c6d610"/><stop offset=".217" stop-color="#03d6d3"/><stop offset=".406" stop-color="#0003d6"/><stop offset=".478" stop-color="#0000ab"/><stop offset=".565" stop-color="#009"/><stop offset=".594" stop-color="#00009c"/><stop offset=".652" stop-color="#000ad6"/><stop offset=".783" stop-color="#00cdd6"/><stop offset=".87" stop-color="#aad62c"/><stop offset=".884" stop-color="#ccd60a"/><stop offset=".913" stop-color="#d69800"/><stop offset="1" stop-color="#d69600"/></linearGradient><linearGradient id="g383"><stop offset="0" stop-color="#9ad63c"/><stop offset=".076" stop-color="#93d643"/><stop offset=".197" stop-color="#00d2d6"/><stop offset=".379" stop-color="#000cd6"/><stop offset=".439" stop-color="#0000b5"/><stop offset=".545" stop-color="#00009b"/><stop offset=".576" stop-color="#00009b"/><stop offset=".636" stop-color="#0005d6"/><stop offset=".788" stop-color="#05d6d1"/><stop offset=".894" stop-color="#d6d500"/><stop offset=".909" stop-color="#d6b300"/><stop offset="1" stop-color="#d6b100"/></linearGradient><linearGradient id="g384"><stop offset="0" stop-color="#69d66d"/><stop offset=".079" stop-color="#62d674"/><stop offset=".159" stop-color="#06d6d1"/><stop offset=".365" stop-color="#0006d6"/><stop offset=".492" stop-color="#00009d"/><stop offset=".556" stop-color="#00009d"/><stop offset=".619" stop-color="#0000d6"/><stop offset=".778" stop-color="#00ccd6"/><stop offset=".841" stop-color="#62d674"/><stop offset=".905" stop-color="#d6ce00"/><stop offset="1" stop-color="#d6cd00"/></linearGradient><linearGradient id="g385"><stop offset="0" stop-color="#3ad69c"/><stop offset=".083" stop-color="#34d6a3"/><stop offset=".133" stop-color="#00d4d6"/><stop offset=".35" stop-color="#0000d6"/><stop offset=".45" stop-color="#0000a7"/><stop offset=".55" stop-color="#0000a6"/><stop offset=".6" stop-color="#0000d2"/><stop offset=".75" stop-color="#00a4d6"/><stop offset=".783" stop-color="#00d6d6"/><stop offset=".9" stop-color="#c4d613"/><stop offset="1" stop-color="#c4d612"/></linearGradient><linearGradient id="g386"><stop offset="0" stop-color="#0dd6c9"/><stop offset=".105" stop-color="#00cdd6"/><stop offset=".316" stop-color="#0009d6"/><stop offset=".474" stop-color="#0000a0"/><stop offset=".526" stop-color="#0000a4"/><stop offset=".596" stop-color="#0007d6"/><stop offset=".754" stop-color="#00add6"/><stop offset=".789" stop-color="#06d6d0"/><stop offset=".895" stop-color="#a7d62f"/><stop offset="1" stop-color="#a7d62f"/></linearGradient><linearGradient id="g387"><stop offset="0" stop-color="#00bbd6"/><stop offset=".094" stop-color="#00b4d6"/><stop offset=".283" stop-color="#000dd6"/><stop offset=".34" stop-color="#0000bf"/><stop offset=".472" stop-color="#0000a1"/><stop offset=".528" stop-color="#0000b4"/><stop offset=".585" stop-color="#0009d6"/><stop offset=".755" stop-color="#00aad6"/><stop offset=".792" stop-color="#02d6d4"/><stop offset=".887" stop-color="#82d654"/><stop offset="1" stop-color="#85d651"/></linearGradient><linearGradient id="g388"><stop offset="0" stop-color="#0092d6"/><stop offset=".1" stop-color="#008bd6"/><stop offset=".26" stop-color="#0007d6"/><stop offset=".44" stop-color="#0000a3"/><stop offset=".5" stop-color="#0000af"/><stop offset=".56" stop-color="#0001d6"/><stop offset=".74" stop-color="#0096d6"/><stop offset=".8" stop-color="#00d6d6"/><stop offset=".88" stop-color="#60d676"/><stop offset="1" stop-color="#63d674"/></linearGradient><linearGradient id="g389"><stop offset="0" stop-color="#0066d6"/><stop offset=".106" stop-color="#005fd6"/><stop offset=".234" stop-color="#0001d6"/><stop offset=".404" stop-color="#0000a5"/><stop offset=".489" stop-color="#0000b5"/><stop offset=".553" stop-color="#0006d6"/><stop offset=".745" stop-color="#0094d6"/><stop offset=".809" stop-color="#00d0d6"/><stop offset=".872" stop-color="#3ed698"/><stop offset="1" stop-color="#40d696"/></linearGradient><linearGradient id="g390"><stop offset="0" stop-color="#003bd6"/><stop offset=".114" stop-color="#0035d6"/><stop offset=".205" stop-color="#0000d2"/><stop offset=".386" stop-color="#0000a6"/><stop offset=".455" stop-color="#0000af"/><stop offset=".545" stop-color="#0008d6"/><stop offset=".727" stop-color="#007ed6"/><stop offset=".841" stop-color="#07d6cf"/><stop offset=".864" stop-color="#1cd6ba"/><stop offset="1" stop-color="#1ed6b8"/></linearGradient><linearGradient id="g391"><stop offset="0" stop-color="#0018d6"/><stop offset=".122" stop-color="#0012d6"/><stop offset=".195" stop-color="#0000c5"/><stop offset=".366" stop-color="#0000a8"/><stop offset=".439" stop-color="#0000b3"/><stop offset=".537" stop-color="#0009d6"/><stop offset=".78" stop-color="#0098d6"/><stop offset=".854" stop-color="#00d1d6"/><stop offset="1" stop-color="#00d2d6"/></linearGradient><linearGradient id="g392"><stop offset="0" stop-color="#00c"/><stop offset=".184" stop-color="#0000be"/><stop offset=".368" stop-color="#0000a9"/><stop offset=".526" stop-color="#0007d6"/><stop offset=".816" stop-color="#009ed6"/><stop offset=".868" stop-color="#00b0d6"/><stop offset="1" stop-color="#00b0d6"/></linearGradient><linearGradient id="g393"><stop offset="0" stop-color="#0000bf"/><stop offset=".371" stop-color="#0000ad"/><stop offset=".543" stop-color="#000dd6"/><stop offset=".829" stop-color="#008dd6"/><stop offset="1" stop-color="#008dd6"/></linearGradient><linearGradient id="g394"><stop offset="0" stop-color="#0000b2"/><stop offset=".375" stop-color="#0000b3"/><stop offset=".531" stop-color="#0006d6"/><stop offset=".813" stop-color="#006bd6"/><stop offset="1" stop-color="#006bd6"/></linearGradient><linearGradient id="g395"><stop offset="0" stop-color="#0000ae"/><stop offset=".393" stop-color="#0000b7"/><stop offset=".571" stop-color="#0008d6"/><stop offset=".821" stop-color="#0046d6"/><stop offset="1" stop-color="#0046d6"/></linearGradient><linearGradient id="g396"><stop offset="0" stop-color="#0000b0"/><stop offset=".44" stop-color="#0000b9"/><stop offset=".64" stop-color="#0006d6"/><stop offset=".8" stop-color="#0021d6"/><stop offset="1" stop-color="#0021d6"/></linearGradient><linearGradient id="g397"><stop offset="0" stop-color="#0000b1"/><stop offset=".545" stop-color="#0000b9"/><stop offset=".818" stop-color="#0000d2"/><stop offset="1" stop-color="#0000d2"/></linearGradient><linearGradient id="g398"><stop offset="0" stop-color="#0000b3"/><stop offset="1" stop-color="#0000c4"/></linearGradient><linearGradient id="g399"><stop offset="0" stop-color="#0000b5"/><stop offset="1" stop-color="#0000b6"/></linearGradient><linearGradient id="g400"><stop offset="0" stop-color="#0000b6"/><stop offset="1" stop-color="#0000b6"/></linearGradient><linearGradient id="g401"><stop offset="0" stop-color="#0000b8"/><stop offset="1" stop-color="#0000b8"/></linearGradient><linearGradient id="g402"><stop offset="0" stop-color="#0000b8"/><stop offset="1" stop-color="#0000b8"/></linearGradient><linearGradient id="g403"><stop offset="0" stop-color="#0000b8"/><stop offset="1" stop-color="#0000b8"/></linearGradient><clipPath id="cr2c1"><polygon points="5.2,-2.3 62.9,-101.5 111.3,-19.5 101.5,-2.3"/></clipPath></defs>
<g transform="translate(543.6 667.2)">
<polygon points="0,0 62.3,-107 114,-19.5 102.8,0" fill="#3e3e3e" stroke="#3e3e3e" stroke-width="1" stroke-linejoin="miter" stroke-miterlimit="6"/>
<g clip-path="url(#cr2c1)"><g filter="url(#vb)"><rect x="-8.2" y="4" width="116.8" height="4.6" fill="url(#g373)"/><rect x="-8.2" y="0" width="116.8" height="4.6" fill="url(#g374)"/><rect x="-5.8" y="-4" width="116.8" height="4.6" fill="url(#g375)"/><rect x="-3.5" y="-8" width="116.8" height="4.6" fill="url(#g376)"/><rect x="-1.2" y="-12" width="116.7" height="4.6" fill="url(#g377)"/><rect x="1.2" y="-16" width="116.7" height="4.6" fill="url(#g378)"/><rect x="3.5" y="-20" width="116.7" height="4.6" fill="url(#g379)"/><rect x="5.8" y="-24" width="113.7" height="4.6" fill="url(#g380)"/><rect x="8.1" y="-28" width="109" height="4.6" fill="url(#g381)"/><rect x="10.5" y="-32" width="104.3" height="4.6" fill="url(#g382)"/><rect x="12.8" y="-36" width="99.6" height="4.6" fill="url(#g383)"/><rect x="15.1" y="-40" width="94.9" height="4.6" fill="url(#g384)"/><rect x="17.5" y="-44" width="90.3" height="4.6" fill="url(#g385)"/><rect x="19.8" y="-48" width="85.6" height="4.6" fill="url(#g386)"/><rect x="22.1" y="-52" width="80.9" height="4.6" fill="url(#g387)"/><rect x="24.4" y="-56" width="76.2" height="4.6" fill="url(#g388)"/><rect x="26.8" y="-60" width="71.5" height="4.6" fill="url(#g389)"/><rect x="29.1" y="-64" width="66.8" height="4.6" fill="url(#g390)"/><rect x="31.4" y="-68" width="62.1" height="4.6" fill="url(#g391)"/><rect x="33.8" y="-72" width="57.4" height="4.6" fill="url(#g392)"/><rect x="36.1" y="-76" width="52.7" height="4.6" fill="url(#g393)"/><rect x="38.4" y="-80" width="48" height="4.6" fill="url(#g394)"/><rect x="40.7" y="-84" width="43.3" height="4.6" fill="url(#g395)"/><rect x="43.1" y="-88" width="38.6" height="4.6" fill="url(#g396)"/><rect x="45.4" y="-92" width="33.9" height="4.6" fill="url(#g397)"/><rect x="47.7" y="-96" width="29.3" height="4.6" fill="url(#g398)"/><rect x="50.1" y="-100" width="24.6" height="4.6" fill="url(#g399)"/><rect x="52.4" y="-104" width="19.9" height="4.6" fill="url(#g400)"/><rect x="54.7" y="-108" width="15.2" height="4.6" fill="url(#g401)"/><rect x="56.5" y="-112" width="15" height="4.6" fill="url(#g402)"/><rect x="56.5" y="-116" width="15" height="4.6" fill="url(#g403)"/></g><use href="#meshg"/></g>
<circle cx="68.2" cy="-32.4" r="1.6" fill="#e040e0"/>
<text x="54.5" y="-104.1" font-size="13.7" fill="#3348ad" stroke="#3348ad" stroke-width=".25" text-anchor="end">0%</text>
<text x="71.9" y="-104.1" font-size="13.7" fill="#111" stroke="#111" stroke-width=".25">60%</text>
<text x="-.6" y="-53.6" font-size="15.5" fill="#1f30b4" stroke="#1f30b4" stroke-width=".45" font-weight="bold" text-anchor="middle">CS</text>
<text x="122.9" y="-58.7" font-size="14.9" fill="#111" stroke="#111" stroke-width=".45" font-weight="bold" text-anchor="middle">LAC</text>
<text x="-.2" y="-4" font-size="13.7" fill="#3348ad" stroke="#3348ad" stroke-width=".25" text-anchor="end">60%</text>
<text x="122.6" y="2.9" font-size="13.7" fill="#111" stroke="#111" stroke-width=".25">0%</text>
<text x="-.9" y="16.3" font-size="13.7" fill="#d0554c" stroke="#d0554c" stroke-width=".25" text-anchor="middle">40%</text>
<text x="56.8" y="17.7" font-size="16.2" fill="#e02818" stroke="#e02818" stroke-width=".45" font-weight="bold" text-anchor="middle">MCC</text>
<text x="109.6" y="16.3" font-size="13.7" fill="#d0554c" stroke="#d0554c" stroke-width=".25" text-anchor="middle">90%</text>
<rect x="-8.9" y="34.2" width="127.7" height="13.4" fill="url(#jet)"/><use href="#cbt"/>
<text x="-12.4" y="58" font-size="10.9" fill="#111" stroke="#111" stroke-width=".25">25</text>
<text x="110.8" y="58" font-size="10.9" fill="#111" stroke="#111" stroke-width=".25">70</text>
<text x="55.4" y="70.3" font-size="11.4" fill="#111" stroke="#111" stroke-width=".25" text-anchor="middle">DT (s)</text>
</g>
<defs><linearGradient id="g404"><stop offset="0" stop-color="#0000ba"/><stop offset=".091" stop-color="#0000c6"/><stop offset=".143" stop-color="#0014d6"/><stop offset=".208" stop-color="#002bd6"/><stop offset=".312" stop-color="#0000d1"/><stop offset=".455" stop-color="#0000af"/><stop offset=".818" stop-color="#0000a5"/><stop offset=".948" stop-color="#0000c4"/><stop offset=".987" stop-color="#0008d6"/><stop offset="1" stop-color="#0014d6"/></linearGradient><linearGradient id="g405"><stop offset="0" stop-color="#0000ba"/><stop offset=".091" stop-color="#0000c6"/><stop offset=".143" stop-color="#0014d6"/><stop offset=".208" stop-color="#002bd6"/><stop offset=".312" stop-color="#0000d1"/><stop offset=".455" stop-color="#0000af"/><stop offset=".818" stop-color="#0000a5"/><stop offset=".948" stop-color="#0000c4"/><stop offset=".987" stop-color="#0008d6"/><stop offset="1" stop-color="#0014d6"/></linearGradient><linearGradient id="g406"><stop offset="0" stop-color="#0000ce"/><stop offset=".078" stop-color="#0009d6"/><stop offset=".169" stop-color="#0055d6"/><stop offset=".221" stop-color="#0049d6"/><stop offset=".312" stop-color="#0000d4"/><stop offset=".442" stop-color="#0000b1"/><stop offset=".779" stop-color="#0000a8"/><stop offset=".909" stop-color="#0000ca"/><stop offset=".948" stop-color="#0012d6"/><stop offset="1" stop-color="#004dd6"/></linearGradient><linearGradient id="g407"><stop offset="0" stop-color="#0023d6"/><stop offset=".065" stop-color="#002ad6"/><stop offset=".13" stop-color="#007dd6"/><stop offset=".169" stop-color="#008ad6"/><stop offset=".221" stop-color="#0061d6"/><stop offset=".312" stop-color="#0000d5"/><stop offset=".442" stop-color="#0000b4"/><stop offset=".727" stop-color="#0000ad"/><stop offset=".87" stop-color="#000ad6"/><stop offset=".935" stop-color="#005ad6"/><stop offset="1" stop-color="#00c7d6"/></linearGradient><linearGradient id="g408"><stop offset="0" stop-color="#0024d6"/><stop offset=".065" stop-color="#002ad6"/><stop offset=".13" stop-color="#005cd6"/><stop offset=".182" stop-color="#0050d6"/><stop offset=".286" stop-color="#0000d5"/><stop offset=".468" stop-color="#0000b2"/><stop offset=".701" stop-color="#0000b7"/><stop offset=".805" stop-color="#0009d6"/><stop offset=".87" stop-color="#0056d6"/><stop offset=".935" stop-color="#09d6cd"/><stop offset=".987" stop-color="#61d676"/><stop offset="1" stop-color="#61d676"/></linearGradient><linearGradient id="g409"><stop offset="0" stop-color="#0000d6"/><stop offset=".169" stop-color="#000ed6"/><stop offset=".312" stop-color="#0000c1"/><stop offset=".61" stop-color="#0000b6"/><stop offset=".74" stop-color="#0008d6"/><stop offset=".805" stop-color="#004dd6"/><stop offset=".87" stop-color="#0ad6cc"/><stop offset=".922" stop-color="#93d643"/><stop offset=".961" stop-color="#c9d60e"/><stop offset="1" stop-color="#cad60c"/></linearGradient><linearGradient id="g410"><stop offset="0" stop-color="#0000bd"/><stop offset=".571" stop-color="#0000bc"/><stop offset=".675" stop-color="#0006d6"/><stop offset=".74" stop-color="#0040d6"/><stop offset=".792" stop-color="#00a6d6"/><stop offset=".805" stop-color="#00cad6"/><stop offset=".831" stop-color="#46d690"/><stop offset=".87" stop-color="#c6d610"/><stop offset=".896" stop-color="#d6a400"/><stop offset=".922" stop-color="#d68400"/><stop offset="1" stop-color="#d68300"/></linearGradient><linearGradient id="g411"><stop offset="0" stop-color="#0000b6"/><stop offset=".56" stop-color="#0000c0"/><stop offset=".653" stop-color="#0009d6"/><stop offset=".72" stop-color="#0045d6"/><stop offset=".773" stop-color="#00afd6"/><stop offset=".787" stop-color="#00d5d6"/><stop offset=".853" stop-color="#d4d602"/><stop offset=".893" stop-color="#d68400"/><stop offset="1" stop-color="#d67900"/></linearGradient><linearGradient id="g412"><stop offset="0" stop-color="#0000b4"/><stop offset=".542" stop-color="#0000bf"/><stop offset=".639" stop-color="#0007d6"/><stop offset=".708" stop-color="#0041d6"/><stop offset=".764" stop-color="#00a9d6"/><stop offset=".778" stop-color="#00cdd6"/><stop offset=".819" stop-color="#73d663"/><stop offset=".847" stop-color="#c5d611"/><stop offset=".875" stop-color="#d6a900"/><stop offset=".903" stop-color="#d68c00"/><stop offset="1" stop-color="#d68c00"/></linearGradient><linearGradient id="g413"><stop offset="0" stop-color="#0000b0"/><stop offset=".522" stop-color="#0000be"/><stop offset=".623" stop-color="#0006d6"/><stop offset=".696" stop-color="#003ed6"/><stop offset=".754" stop-color="#00a2d6"/><stop offset=".768" stop-color="#00c5d6"/><stop offset=".783" stop-color="#15d6c1"/><stop offset=".855" stop-color="#d6d500"/><stop offset=".884" stop-color="#d6a800"/><stop offset="1" stop-color="#d69e00"/></linearGradient><linearGradient id="g414"><stop offset="0" stop-color="#0000ac"/><stop offset=".5" stop-color="#0000bc"/><stop offset=".621" stop-color="#0009d6"/><stop offset=".697" stop-color="#0049d6"/><stop offset=".758" stop-color="#00b7d6"/><stop offset=".773" stop-color="#05d6d2"/><stop offset=".848" stop-color="#bbd61b"/><stop offset=".864" stop-color="#d4d602"/><stop offset=".909" stop-color="#d6be00"/><stop offset="1" stop-color="#d6be00"/></linearGradient><linearGradient id="g415"><stop offset="0" stop-color="#0000a8"/><stop offset=".492" stop-color="#00b"/><stop offset=".603" stop-color="#0005d6"/><stop offset=".683" stop-color="#0041d6"/><stop offset=".746" stop-color="#00a8d6"/><stop offset=".762" stop-color="#00cad6"/><stop offset=".81" stop-color="#60d676"/><stop offset=".857" stop-color="#b6d620"/><stop offset=".905" stop-color="#ced608"/><stop offset="1" stop-color="#ced608"/></linearGradient><linearGradient id="g416"><stop offset="0" stop-color="#0000a4"/><stop offset=".467" stop-color="#0000b8"/><stop offset=".6" stop-color="#0008d6"/><stop offset=".683" stop-color="#004dd6"/><stop offset=".767" stop-color="#05d6d2"/><stop offset=".833" stop-color="#82d654"/><stop offset=".883" stop-color="#aed628"/><stop offset="1" stop-color="#aed628"/></linearGradient><linearGradient id="g417"><stop offset="0" stop-color="#0000a0"/><stop offset=".456" stop-color="#0000b8"/><stop offset=".596" stop-color="#000bd6"/><stop offset=".684" stop-color="#0058d6"/><stop offset=".754" stop-color="#00c8d6"/><stop offset=".789" stop-color="#31d6a6"/><stop offset=".842" stop-color="#7ad65c"/><stop offset=".895" stop-color="#8fd647"/><stop offset="1" stop-color="#8fd647"/></linearGradient><linearGradient id="g418"><stop offset="0" stop-color="#00009e"/><stop offset=".434" stop-color="#0000b6"/><stop offset=".585" stop-color="#000cd6"/><stop offset=".679" stop-color="#005dd6"/><stop offset=".755" stop-color="#00ccd6"/><stop offset=".849" stop-color="#69d66d"/><stop offset="1" stop-color="#71d665"/></linearGradient><linearGradient id="g419"><stop offset="0" stop-color="#00009d"/><stop offset=".42" stop-color="#0000b6"/><stop offset=".56" stop-color="#0006d6"/><stop offset=".66" stop-color="#0052d6"/><stop offset=".76" stop-color="#00d4d6"/><stop offset=".84" stop-color="#4cd68a"/><stop offset="1" stop-color="#53d683"/></linearGradient><linearGradient id="g420"><stop offset="0" stop-color="#00009d"/><stop offset=".426" stop-color="#0000b9"/><stop offset=".553" stop-color="#000ad6"/><stop offset=".66" stop-color="#005bd6"/><stop offset=".766" stop-color="#00d5d6"/><stop offset=".83" stop-color="#2fd6a7"/><stop offset="1" stop-color="#36d6a1"/></linearGradient><linearGradient id="g421"><stop offset="0" stop-color="#00009e"/><stop offset=".409" stop-color="#0000ba"/><stop offset=".523" stop-color="#0004d6"/><stop offset=".636" stop-color="#004ed6"/><stop offset=".773" stop-color="#00d0d6"/><stop offset=".864" stop-color="#19d6bd"/><stop offset="1" stop-color="#19d6bd"/></linearGradient><linearGradient id="g422"><stop offset="0" stop-color="#0000a0"/><stop offset=".39" stop-color="#00b"/><stop offset=".512" stop-color="#0007d6"/><stop offset=".659" stop-color="#006ad6"/><stop offset=".78" stop-color="#00c5d6"/><stop offset=".902" stop-color="#00d4d6"/><stop offset="1" stop-color="#00d4d6"/></linearGradient><linearGradient id="g423"><stop offset="0" stop-color="#0000a3"/><stop offset=".368" stop-color="#00b"/><stop offset=".5" stop-color="#000bd6"/><stop offset=".763" stop-color="#00acd6"/><stop offset=".947" stop-color="#00b8d6"/><stop offset="1" stop-color="#00b8d6"/></linearGradient><linearGradient id="g424"><stop offset="0" stop-color="#0000a6"/><stop offset=".343" stop-color="#0000bc"/><stop offset=".486" stop-color="#000fd6"/><stop offset=".743" stop-color="#0092d6"/><stop offset="1" stop-color="#009dd6"/></linearGradient><linearGradient id="g425"><stop offset="0" stop-color="#00a"/><stop offset=".312" stop-color="#0000bd"/><stop offset=".438" stop-color="#0005d6"/><stop offset=".719" stop-color="#0078d6"/><stop offset="1" stop-color="#0081d6"/></linearGradient><linearGradient id="g426"><stop offset="0" stop-color="#0000af"/><stop offset=".286" stop-color="#0000be"/><stop offset=".429" stop-color="#000ad6"/><stop offset=".714" stop-color="#0062d6"/><stop offset="1" stop-color="#0066d6"/></linearGradient><linearGradient id="g427"><stop offset="0" stop-color="#0000b5"/><stop offset=".28" stop-color="#0000c4"/><stop offset=".4" stop-color="#0008d6"/><stop offset=".68" stop-color="#0047d6"/><stop offset="1" stop-color="#004bd6"/></linearGradient><linearGradient id="g428"><stop offset="0" stop-color="#0000be"/><stop offset=".273" stop-color="#0000c8"/><stop offset=".5" stop-color="#001bd6"/><stop offset=".818" stop-color="#002fd6"/><stop offset="1" stop-color="#002fd6"/></linearGradient><linearGradient id="g429"><stop offset="0" stop-color="#0000cd"/><stop offset=".368" stop-color="#0009d6"/><stop offset=".737" stop-color="#0021d6"/><stop offset="1" stop-color="#0021d6"/></linearGradient><linearGradient id="g430"><stop offset="0" stop-color="#0002d6"/><stop offset="1" stop-color="#0013d6"/></linearGradient><linearGradient id="g431"><stop offset="0" stop-color="#0003d6"/><stop offset="1" stop-color="#0005d6"/></linearGradient><linearGradient id="g432"><stop offset="0" stop-color="#0000cd"/><stop offset="1" stop-color="#0000cd"/></linearGradient><linearGradient id="g433"><stop offset="0" stop-color="#0000c9"/><stop offset="1" stop-color="#0000c9"/></linearGradient><linearGradient id="g434"><stop offset="0" stop-color="#0000c9"/><stop offset="1" stop-color="#0000c9"/></linearGradient><clipPath id="cr2c2"><polygon points="6.7,-3.3 62.8,-99.7 110.2,-19.5 100.9,-3.3"/></clipPath></defs>
<g transform="translate(738.3 667.2)">
<polygon points="0,0 62.3,-107 114,-19.5 102.8,0" fill="#3e3e3e" stroke="#3e3e3e" stroke-width="1" stroke-linejoin="miter" stroke-miterlimit="6"/>
<g clip-path="url(#cr2c2)"><g filter="url(#vb)"><rect x="-8.2" y="4" width="116.8" height="4.6" fill="url(#g404)"/><rect x="-8.2" y="0" width="116.8" height="4.6" fill="url(#g405)"/><rect x="-5.8" y="-4" width="116.8" height="4.6" fill="url(#g406)"/><rect x="-3.5" y="-8" width="116.8" height="4.6" fill="url(#g407)"/><rect x="-1.2" y="-12" width="116.7" height="4.6" fill="url(#g408)"/><rect x="1.2" y="-16" width="116.7" height="4.6" fill="url(#g409)"/><rect x="3.5" y="-20" width="116.7" height="4.6" fill="url(#g410)"/><rect x="5.8" y="-24" width="113.7" height="4.6" fill="url(#g411)"/><rect x="8.1" y="-28" width="109" height="4.6" fill="url(#g412)"/><rect x="10.5" y="-32" width="104.3" height="4.6" fill="url(#g413)"/><rect x="12.8" y="-36" width="99.6" height="4.6" fill="url(#g414)"/><rect x="15.1" y="-40" width="94.9" height="4.6" fill="url(#g415)"/><rect x="17.5" y="-44" width="90.3" height="4.6" fill="url(#g416)"/><rect x="19.8" y="-48" width="85.6" height="4.6" fill="url(#g417)"/><rect x="22.1" y="-52" width="80.9" height="4.6" fill="url(#g418)"/><rect x="24.4" y="-56" width="76.2" height="4.6" fill="url(#g419)"/><rect x="26.8" y="-60" width="71.5" height="4.6" fill="url(#g420)"/><rect x="29.1" y="-64" width="66.8" height="4.6" fill="url(#g421)"/><rect x="31.4" y="-68" width="62.1" height="4.6" fill="url(#g422)"/><rect x="33.8" y="-72" width="57.4" height="4.6" fill="url(#g423)"/><rect x="36.1" y="-76" width="52.7" height="4.6" fill="url(#g424)"/><rect x="38.4" y="-80" width="48" height="4.6" fill="url(#g425)"/><rect x="40.7" y="-84" width="43.3" height="4.6" fill="url(#g426)"/><rect x="43.1" y="-88" width="38.6" height="4.6" fill="url(#g427)"/><rect x="45.4" y="-92" width="33.9" height="4.6" fill="url(#g428)"/><rect x="47.7" y="-96" width="29.3" height="4.6" fill="url(#g429)"/><rect x="50.1" y="-100" width="24.6" height="4.6" fill="url(#g430)"/><rect x="52.4" y="-104" width="19.9" height="4.6" fill="url(#g431)"/><rect x="54.7" y="-108" width="15.2" height="4.6" fill="url(#g432)"/><rect x="56.5" y="-112" width="15" height="4.6" fill="url(#g433)"/><rect x="56.5" y="-116" width="15" height="4.6" fill="url(#g434)"/></g><use href="#meshg"/></g>
<text x="54.5" y="-104.1" font-size="13.7" fill="#3348ad" stroke="#3348ad" stroke-width=".25" text-anchor="end">0%</text>
<text x="71.9" y="-104.1" font-size="13.7" fill="#111" stroke="#111" stroke-width=".25">60%</text>
<text x="-.6" y="-53.6" font-size="15.5" fill="#1f30b4" stroke="#1f30b4" stroke-width=".45" font-weight="bold" text-anchor="middle">CS</text>
<text x="122.9" y="-58.7" font-size="14.9" fill="#111" stroke="#111" stroke-width=".45" font-weight="bold" text-anchor="middle">LAC</text>
<text x="-.2" y="-4" font-size="13.7" fill="#3348ad" stroke="#3348ad" stroke-width=".25" text-anchor="end">60%</text>
<text x="122.6" y="2.9" font-size="13.7" fill="#111" stroke="#111" stroke-width=".25">0%</text>
<text x="-.9" y="16.3" font-size="13.7" fill="#d0554c" stroke="#d0554c" stroke-width=".25" text-anchor="middle">40%</text>
<text x="56.8" y="17.7" font-size="16.2" fill="#e02818" stroke="#e02818" stroke-width=".45" font-weight="bold" text-anchor="middle">MCC</text>
<text x="109.6" y="16.3" font-size="13.7" fill="#d0554c" stroke="#d0554c" stroke-width=".25" text-anchor="middle">90%</text>
<rect x="-8.9" y="34.2" width="127.7" height="13.4" fill="url(#jet)"/><use href="#cbt"/>
<text x="-12.4" y="58" font-size="10.9" fill="#111" stroke="#111" stroke-width=".25">20</text>
<text x="110.8" y="58" font-size="10.9" fill="#111" stroke="#111" stroke-width=".25">160</text>
<text x="55.4" y="70.3" font-size="11.4" fill="#111" stroke="#111" stroke-width=".25" text-anchor="middle">DT (s)</text>
</g>
<defs><linearGradient id="g435"><stop offset="0" stop-color="#0000c1"/><stop offset=".727" stop-color="#0000a7"/><stop offset=".935" stop-color="#000ad6"/><stop offset="1" stop-color="#0044d6"/></linearGradient><linearGradient id="g436"><stop offset="0" stop-color="#0000c1"/><stop offset=".727" stop-color="#0000a7"/><stop offset=".935" stop-color="#000ad6"/><stop offset="1" stop-color="#0044d6"/></linearGradient><linearGradient id="g437"><stop offset="0" stop-color="#0000c1"/><stop offset=".688" stop-color="#0000a3"/><stop offset=".896" stop-color="#0007d6"/><stop offset=".987" stop-color="#0063d6"/><stop offset="1" stop-color="#0074d6"/></linearGradient><linearGradient id="g438"><stop offset="0" stop-color="#0000c1"/><stop offset=".662" stop-color="#0000a0"/><stop offset=".818" stop-color="#0000cb"/><stop offset=".87" stop-color="#001ad6"/><stop offset=".961" stop-color="#0092d6"/><stop offset="1" stop-color="#00cbd6"/></linearGradient><linearGradient id="g439"><stop offset="0" stop-color="#0000c1"/><stop offset=".623" stop-color="#0000a1"/><stop offset=".779" stop-color="#0000d0"/><stop offset=".844" stop-color="#0034d6"/><stop offset=".948" stop-color="#08d6ce"/><stop offset=".987" stop-color="#3ad69c"/><stop offset="1" stop-color="#3ad69c"/></linearGradient><linearGradient id="g440"><stop offset="0" stop-color="#0000c1"/><stop offset=".597" stop-color="#0000a9"/><stop offset=".753" stop-color="#0009d6"/><stop offset=".818" stop-color="#0051d6"/><stop offset=".896" stop-color="#0ad6cc"/><stop offset=".948" stop-color="#58d67e"/><stop offset="1" stop-color="#65d672"/></linearGradient><linearGradient id="g441"><stop offset="0" stop-color="#0000c1"/><stop offset=".558" stop-color="#0000b2"/><stop offset=".701" stop-color="#0008d6"/><stop offset=".766" stop-color="#004bd6"/><stop offset=".844" stop-color="#08d6ce"/><stop offset=".896" stop-color="#68d66f"/><stop offset=".935" stop-color="#85d651"/><stop offset="1" stop-color="#85d651"/></linearGradient><linearGradient id="g442"><stop offset="0" stop-color="#0000c1"/><stop offset=".533" stop-color="#0000b9"/><stop offset=".667" stop-color="#0007d6"/><stop offset=".733" stop-color="#0040d6"/><stop offset=".8" stop-color="#00b1d6"/><stop offset=".813" stop-color="#00cdd6"/><stop offset=".893" stop-color="#80d656"/><stop offset=".973" stop-color="#8dd649"/><stop offset="1" stop-color="#8dd649"/></linearGradient><linearGradient id="g443"><stop offset="0" stop-color="#0000c1"/><stop offset=".528" stop-color="#0000bf"/><stop offset=".653" stop-color="#000ad6"/><stop offset=".722" stop-color="#0043d6"/><stop offset=".792" stop-color="#00b3d6"/><stop offset=".806" stop-color="#00ced6"/><stop offset=".875" stop-color="#72d664"/><stop offset=".917" stop-color="#8dd649"/><stop offset="1" stop-color="#8dd649"/></linearGradient><linearGradient id="g444"><stop offset="0" stop-color="#0000c1"/><stop offset=".522" stop-color="#0000c3"/><stop offset=".638" stop-color="#000cd6"/><stop offset=".71" stop-color="#0044d6"/><stop offset=".797" stop-color="#00cfd6"/><stop offset=".87" stop-color="#73d664"/><stop offset=".913" stop-color="#8dd649"/><stop offset="1" stop-color="#8dd649"/></linearGradient><linearGradient id="g445"><stop offset="0" stop-color="#0000c1"/><stop offset=".515" stop-color="#0000c7"/><stop offset=".621" stop-color="#000dd6"/><stop offset=".697" stop-color="#0045d6"/><stop offset=".788" stop-color="#00d0d6"/><stop offset=".864" stop-color="#73d663"/><stop offset=".909" stop-color="#8dd649"/><stop offset="1" stop-color="#8dd649"/></linearGradient><linearGradient id="g446"><stop offset="0" stop-color="#0000c1"/><stop offset=".508" stop-color="#0000ca"/><stop offset=".603" stop-color="#000ed6"/><stop offset=".683" stop-color="#0046d6"/><stop offset=".778" stop-color="#00d1d6"/><stop offset=".857" stop-color="#73d663"/><stop offset=".905" stop-color="#8dd649"/><stop offset="1" stop-color="#8dd649"/></linearGradient><linearGradient id="g447"><stop offset="0" stop-color="#0000c1"/><stop offset=".5" stop-color="#0000ce"/><stop offset=".6" stop-color="#0016d6"/><stop offset=".683" stop-color="#0059d6"/><stop offset=".767" stop-color="#00d1d6"/><stop offset=".85" stop-color="#72d664"/><stop offset=".9" stop-color="#8cd64b"/><stop offset="1" stop-color="#8cd64b"/></linearGradient><linearGradient id="g448"><stop offset="0" stop-color="#0000c2"/><stop offset=".491" stop-color="#0000d3"/><stop offset=".596" stop-color="#0020d6"/><stop offset=".684" stop-color="#006dd6"/><stop offset=".754" stop-color="#00d0d6"/><stop offset=".842" stop-color="#6fd667"/><stop offset=".895" stop-color="#88d64e"/><stop offset="1" stop-color="#88d64e"/></linearGradient><linearGradient id="g449"><stop offset="0" stop-color="#0000c3"/><stop offset=".509" stop-color="#0008d6"/><stop offset=".623" stop-color="#0042d6"/><stop offset=".717" stop-color="#00add6"/><stop offset=".755" stop-color="#0dd6ca"/><stop offset=".83" stop-color="#6ad66c"/><stop offset=".887" stop-color="#85d651"/><stop offset="1" stop-color="#85d651"/></linearGradient><linearGradient id="g450"><stop offset="0" stop-color="#0000c4"/><stop offset=".48" stop-color="#000ad6"/><stop offset=".6" stop-color="#0042d6"/><stop offset=".7" stop-color="#00acd6"/><stop offset=".74" stop-color="#0bd6cb"/><stop offset=".82" stop-color="#67d66f"/><stop offset=".88" stop-color="#82d655"/><stop offset="1" stop-color="#82d655"/></linearGradient><linearGradient id="g451"><stop offset="0" stop-color="#0000c6"/><stop offset=".426" stop-color="#0007d6"/><stop offset=".553" stop-color="#0036d6"/><stop offset=".66" stop-color="#0093d6"/><stop offset=".723" stop-color="#0ad6cc"/><stop offset=".809" stop-color="#65d672"/><stop offset=".872" stop-color="#7ed658"/><stop offset="1" stop-color="#7ed658"/></linearGradient><linearGradient id="g452"><stop offset="0" stop-color="#0000c9"/><stop offset=".386" stop-color="#0009d6"/><stop offset=".523" stop-color="#0037d6"/><stop offset=".636" stop-color="#0092d6"/><stop offset=".705" stop-color="#08d6ce"/><stop offset=".795" stop-color="#60d676"/><stop offset=".864" stop-color="#79d65d"/><stop offset="1" stop-color="#79d65d"/></linearGradient><linearGradient id="g453"><stop offset="0" stop-color="#00c"/><stop offset=".341" stop-color="#000bd6"/><stop offset=".488" stop-color="#0037d6"/><stop offset=".61" stop-color="#0091d6"/><stop offset=".683" stop-color="#04d6d2"/><stop offset=".78" stop-color="#59d67d"/><stop offset=".854" stop-color="#71d665"/><stop offset="1" stop-color="#71d666"/></linearGradient><linearGradient id="g454"><stop offset="0" stop-color="#0000d1"/><stop offset=".289" stop-color="#000cd6"/><stop offset=".447" stop-color="#0038d6"/><stop offset=".579" stop-color="#008fd6"/><stop offset=".658" stop-color="#01d6d6"/><stop offset=".763" stop-color="#53d683"/><stop offset=".842" stop-color="#69d66d"/><stop offset="1" stop-color="#69d66d"/></linearGradient><linearGradient id="g455"><stop offset="0" stop-color="#0002d6"/><stop offset=".257" stop-color="#0011d6"/><stop offset=".429" stop-color="#0046d6"/><stop offset=".6" stop-color="#00bcd6"/><stop offset=".629" stop-color="#00d4d6"/><stop offset=".771" stop-color="#59d67e"/><stop offset="1" stop-color="#61d675"/></linearGradient><linearGradient id="g456"><stop offset="0" stop-color="#000bd6"/><stop offset=".219" stop-color="#0017d6"/><stop offset=".406" stop-color="#0056d6"/><stop offset=".594" stop-color="#00d1d6"/><stop offset=".75" stop-color="#52d684"/><stop offset="1" stop-color="#5ad67c"/></linearGradient><linearGradient id="g457"><stop offset="0" stop-color="#001cd6"/><stop offset=".214" stop-color="#0028d6"/><stop offset=".429" stop-color="#0082d6"/><stop offset=".571" stop-color="#05d6d1"/><stop offset=".714" stop-color="#4ad68c"/><stop offset="1" stop-color="#54d682"/></linearGradient><linearGradient id="g458"><stop offset="0" stop-color="#003bd6"/><stop offset=".2" stop-color="#0041d6"/><stop offset=".52" stop-color="#06d6d0"/><stop offset=".68" stop-color="#4ad68c"/><stop offset="1" stop-color="#53d683"/></linearGradient><linearGradient id="g459"><stop offset="0" stop-color="#0077d6"/><stop offset=".227" stop-color="#0080d6"/><stop offset=".409" stop-color="#00d4d6"/><stop offset=".636" stop-color="#56d680"/><stop offset="1" stop-color="#5fd677"/></linearGradient><linearGradient id="g460"><stop offset="0" stop-color="#00c2d6"/><stop offset=".263" stop-color="#00ccd6"/><stop offset=".579" stop-color="#62d674"/><stop offset="1" stop-color="#6bd66c"/></linearGradient><linearGradient id="g461"><stop offset="0" stop-color="#39d69e"/><stop offset=".312" stop-color="#41d695"/><stop offset=".562" stop-color="#74d662"/><stop offset="1" stop-color="#76d660"/></linearGradient><linearGradient id="g462"><stop offset="0" stop-color="#73d663"/><stop offset="1" stop-color="#81d655"/></linearGradient><linearGradient id="g463"><stop offset="0" stop-color="#87d64f"/><stop offset="1" stop-color="#87d650"/></linearGradient><linearGradient id="g464"><stop offset="0" stop-color="#85d651"/><stop offset="1" stop-color="#85d651"/></linearGradient><linearGradient id="g465"><stop offset="0" stop-color="#85d651"/><stop offset="1" stop-color="#85d651"/></linearGradient><clipPath id="cr2c3"><polygon points="4.7,-1.5 63.4,-102.3 112.3,-19.5 101.9,-1.5"/></clipPath></defs>
<g transform="translate(933.9 667.2)">
<polygon points="0,0 62.3,-107 114,-19.5 102.8,0" fill="#3e3e3e" stroke="#3e3e3e" stroke-width="1" stroke-linejoin="miter" stroke-miterlimit="6"/>
<g clip-path="url(#cr2c3)"><g filter="url(#vb)"><rect x="-8.2" y="4" width="116.8" height="4.6" fill="url(#g435)"/><rect x="-8.2" y="0" width="116.8" height="4.6" fill="url(#g436)"/><rect x="-5.8" y="-4" width="116.8" height="4.6" fill="url(#g437)"/><rect x="-3.5" y="-8" width="116.8" height="4.6" fill="url(#g438)"/><rect x="-1.2" y="-12" width="116.7" height="4.6" fill="url(#g439)"/><rect x="1.2" y="-16" width="116.7" height="4.6" fill="url(#g440)"/><rect x="3.5" y="-20" width="116.7" height="4.6" fill="url(#g441)"/><rect x="5.8" y="-24" width="113.7" height="4.6" fill="url(#g442)"/><rect x="8.1" y="-28" width="109" height="4.6" fill="url(#g443)"/><rect x="10.5" y="-32" width="104.3" height="4.6" fill="url(#g444)"/><rect x="12.8" y="-36" width="99.6" height="4.6" fill="url(#g445)"/><rect x="15.1" y="-40" width="94.9" height="4.6" fill="url(#g446)"/><rect x="17.5" y="-44" width="90.3" height="4.6" fill="url(#g447)"/><rect x="19.8" y="-48" width="85.6" height="4.6" fill="url(#g448)"/><rect x="22.1" y="-52" width="80.9" height="4.6" fill="url(#g449)"/><rect x="24.4" y="-56" width="76.2" height="4.6" fill="url(#g450)"/><rect x="26.8" y="-60" width="71.5" height="4.6" fill="url(#g451)"/><rect x="29.1" y="-64" width="66.8" height="4.6" fill="url(#g452)"/><rect x="31.4" y="-68" width="62.1" height="4.6" fill="url(#g453)"/><rect x="33.8" y="-72" width="57.4" height="4.6" fill="url(#g454)"/><rect x="36.1" y="-76" width="52.7" height="4.6" fill="url(#g455)"/><rect x="38.4" y="-80" width="48" height="4.6" fill="url(#g456)"/><rect x="40.7" y="-84" width="43.3" height="4.6" fill="url(#g457)"/><rect x="43.1" y="-88" width="38.6" height="4.6" fill="url(#g458)"/><rect x="45.4" y="-92" width="33.9" height="4.6" fill="url(#g459)"/><rect x="47.7" y="-96" width="29.3" height="4.6" fill="url(#g460)"/><rect x="50.1" y="-100" width="24.6" height="4.6" fill="url(#g461)"/><rect x="52.4" y="-104" width="19.9" height="4.6" fill="url(#g462)"/><rect x="54.7" y="-108" width="15.2" height="4.6" fill="url(#g463)"/><rect x="56.5" y="-112" width="15" height="4.6" fill="url(#g464)"/><rect x="56.5" y="-116" width="15" height="4.6" fill="url(#g465)"/></g><use href="#meshg"/></g>
<circle cx="68.9" cy="-30.5" r="1.1" fill="#7a5fd0"/>
<text x="54.5" y="-104.1" font-size="13.7" fill="#3348ad" stroke="#3348ad" stroke-width=".25" text-anchor="end">0%</text>
<text x="71.9" y="-104.1" font-size="13.7" fill="#111" stroke="#111" stroke-width=".25">60%</text>
<text x="-.6" y="-53.6" font-size="15.5" fill="#1f30b4" stroke="#1f30b4" stroke-width=".45" font-weight="bold" text-anchor="middle">CS</text>
<text x="122.9" y="-58.7" font-size="14.9" fill="#111" stroke="#111" stroke-width=".45" font-weight="bold" text-anchor="middle">LAC</text>
<text x="-.2" y="-4" font-size="13.7" fill="#3348ad" stroke="#3348ad" stroke-width=".25" text-anchor="end">60%</text>
<text x="122.6" y="2.9" font-size="13.7" fill="#111" stroke="#111" stroke-width=".25">0%</text>
<text x="-.9" y="16.3" font-size="13.7" fill="#d0554c" stroke="#d0554c" stroke-width=".25" text-anchor="middle">40%</text>
<text x="56.8" y="17.7" font-size="16.2" fill="#e02818" stroke="#e02818" stroke-width=".45" font-weight="bold" text-anchor="middle">MCC</text>
<text x="109.6" y="16.3" font-size="13.7" fill="#d0554c" stroke="#d0554c" stroke-width=".25" text-anchor="middle">90%</text>
<rect x="-8.9" y="34.2" width="127.7" height="13.4" fill="url(#jet)"/><use href="#cbt"/>
<text x="-12.4" y="58" font-size="10.9" fill="#111" stroke="#111" stroke-width=".25">0</text>
<text x="110.8" y="58" font-size="10.9" fill="#111" stroke="#111" stroke-width=".25">420</text>
<text x="55.4" y="70.3" font-size="11.4" fill="#111" stroke="#111" stroke-width=".25" text-anchor="middle">DT (s)</text>
</g>
<defs><linearGradient id="g466"><stop offset="0" stop-color="#00009f"/><stop offset=".844" stop-color="#0000ad"/><stop offset=".961" stop-color="#0003d6"/><stop offset="1" stop-color="#0020d6"/></linearGradient><linearGradient id="g467"><stop offset="0" stop-color="#00009f"/><stop offset=".844" stop-color="#0000ad"/><stop offset=".961" stop-color="#0003d6"/><stop offset="1" stop-color="#0020d6"/></linearGradient><linearGradient id="g468"><stop offset="0" stop-color="#00009f"/><stop offset=".792" stop-color="#0000ac"/><stop offset=".922" stop-color="#0009d6"/><stop offset="1" stop-color="#0055d6"/></linearGradient><linearGradient id="g469"><stop offset="0" stop-color="#00009f"/><stop offset=".727" stop-color="#0000ad"/><stop offset=".857" stop-color="#000bd6"/><stop offset=".948" stop-color="#007bd6"/><stop offset="1" stop-color="#00c6d6"/></linearGradient><linearGradient id="g470"><stop offset="0" stop-color="#00009f"/><stop offset=".662" stop-color="#0000ad"/><stop offset=".792" stop-color="#0006d6"/><stop offset=".857" stop-color="#0051d6"/><stop offset=".922" stop-color="#00c8d6"/><stop offset=".948" stop-color="#23d6b3"/><stop offset=".987" stop-color="#5dd679"/><stop offset="1" stop-color="#5dd679"/></linearGradient><linearGradient id="g471"><stop offset="0" stop-color="#00009f"/><stop offset=".61" stop-color="#0000ae"/><stop offset=".74" stop-color="#0009d6"/><stop offset=".805" stop-color="#0059d6"/><stop offset=".857" stop-color="#00c4d6"/><stop offset=".87" stop-color="#0dd6c9"/><stop offset=".935" stop-color="#9dd639"/><stop offset=".974" stop-color="#c4d612"/><stop offset="1" stop-color="#c4d612"/></linearGradient><linearGradient id="g472"><stop offset="0" stop-color="#00009f"/><stop offset=".558" stop-color="#0000af"/><stop offset=".688" stop-color="#0009d6"/><stop offset=".753" stop-color="#005bd6"/><stop offset=".805" stop-color="#00d0d6"/><stop offset=".883" stop-color="#d1d605"/><stop offset=".922" stop-color="#d69700"/><stop offset="1" stop-color="#d68a00"/></linearGradient><linearGradient id="g473"><stop offset="0" stop-color="#00009f"/><stop offset=".533" stop-color="#0000af"/><stop offset=".667" stop-color="#0009d6"/><stop offset=".733" stop-color="#005bd6"/><stop offset=".787" stop-color="#00d0d6"/><stop offset=".867" stop-color="#cfd607"/><stop offset=".907" stop-color="#d69b00"/><stop offset="1" stop-color="#d69000"/></linearGradient><linearGradient id="g474"><stop offset="0" stop-color="#00009f"/><stop offset=".528" stop-color="#0000b0"/><stop offset=".653" stop-color="#0004d6"/><stop offset=".722" stop-color="#0050d6"/><stop offset=".792" stop-color="#08d6ce"/><stop offset=".875" stop-color="#c9d60d"/><stop offset=".917" stop-color="#d6b700"/><stop offset="1" stop-color="#d6b500"/></linearGradient><linearGradient id="g475"><stop offset="0" stop-color="#00009f"/><stop offset=".522" stop-color="#0000b1"/><stop offset=".652" stop-color="#0009d6"/><stop offset=".725" stop-color="#005bd6"/><stop offset=".783" stop-color="#00cad6"/><stop offset=".826" stop-color="#54d682"/><stop offset=".884" stop-color="#bad61c"/><stop offset=".928" stop-color="#d2d604"/><stop offset="1" stop-color="#d2d604"/></linearGradient><linearGradient id="g476"><stop offset="0" stop-color="#00009f"/><stop offset=".515" stop-color="#0000b2"/><stop offset=".636" stop-color="#0006d6"/><stop offset=".712" stop-color="#0053d6"/><stop offset=".788" stop-color="#05d6d1"/><stop offset=".864" stop-color="#92d644"/><stop offset=".909" stop-color="#b9d61d"/><stop offset="1" stop-color="#bbd61b"/></linearGradient><linearGradient id="g477"><stop offset="0" stop-color="#00009f"/><stop offset=".508" stop-color="#0000b4"/><stop offset=".619" stop-color="#0002d6"/><stop offset=".698" stop-color="#004bd6"/><stop offset=".778" stop-color="#00cdd6"/><stop offset=".873" stop-color="#8fd648"/><stop offset=".921" stop-color="#a4d632"/><stop offset="1" stop-color="#a4d632"/></linearGradient><linearGradient id="g478"><stop offset="0" stop-color="#00009f"/><stop offset=".5" stop-color="#0000b5"/><stop offset=".617" stop-color="#0008d6"/><stop offset=".7" stop-color="#0058d6"/><stop offset=".783" stop-color="#04d6d2"/><stop offset=".867" stop-color="#79d65d"/><stop offset=".933" stop-color="#8dd649"/><stop offset="1" stop-color="#8dd649"/></linearGradient><linearGradient id="g479"><stop offset="0" stop-color="#0000a0"/><stop offset=".491" stop-color="#0000b7"/><stop offset=".596" stop-color="#0005d6"/><stop offset=".684" stop-color="#0050d6"/><stop offset=".772" stop-color="#00ccd6"/><stop offset=".86" stop-color="#65d671"/><stop offset=".93" stop-color="#79d65d"/><stop offset="1" stop-color="#79d65d"/></linearGradient><linearGradient id="g480"><stop offset="0" stop-color="#0000a0"/><stop offset=".472" stop-color="#0000b8"/><stop offset=".585" stop-color="#0008d6"/><stop offset=".679" stop-color="#0058d6"/><stop offset=".774" stop-color="#00d6d6"/><stop offset=".849" stop-color="#56d680"/><stop offset=".925" stop-color="#6bd66b"/><stop offset="1" stop-color="#6bd66b"/></linearGradient><linearGradient id="g481"><stop offset="0" stop-color="#0000a1"/><stop offset=".46" stop-color="#0000ba"/><stop offset=".56" stop-color="#0005d6"/><stop offset=".66" stop-color="#0052d6"/><stop offset=".76" stop-color="#00ccd6"/><stop offset=".86" stop-color="#55d681"/><stop offset="1" stop-color="#5dd679"/></linearGradient><linearGradient id="g482"><stop offset="0" stop-color="#0000a3"/><stop offset=".426" stop-color="#0000b9"/><stop offset=".553" stop-color="#000dd6"/><stop offset=".66" stop-color="#0061d6"/><stop offset=".766" stop-color="#03d6d3"/><stop offset=".851" stop-color="#48d68f"/><stop offset="1" stop-color="#50d687"/></linearGradient><linearGradient id="g483"><stop offset="0" stop-color="#0000a4"/><stop offset=".409" stop-color="#0000bc"/><stop offset=".523" stop-color="#000ad6"/><stop offset=".636" stop-color="#005cd6"/><stop offset=".75" stop-color="#00d1d6"/><stop offset=".841" stop-color="#3ed699"/><stop offset="1" stop-color="#45d691"/></linearGradient><linearGradient id="g484"><stop offset="0" stop-color="#0000a7"/><stop offset=".39" stop-color="#0000c0"/><stop offset=".488" stop-color="#0008d6"/><stop offset=".61" stop-color="#0058d6"/><stop offset=".732" stop-color="#00cbd6"/><stop offset=".854" stop-color="#3dd699"/><stop offset="1" stop-color="#3fd698"/></linearGradient><linearGradient id="g485"><stop offset="0" stop-color="#00a"/><stop offset=".342" stop-color="#0000bf"/><stop offset=".447" stop-color="#0006d6"/><stop offset=".579" stop-color="#0054d6"/><stop offset=".737" stop-color="#04d6d2"/><stop offset=".842" stop-color="#36d6a0"/><stop offset="1" stop-color="#38d69f"/></linearGradient><linearGradient id="g486"><stop offset="0" stop-color="#0000af"/><stop offset=".314" stop-color="#0000c4"/><stop offset=".429" stop-color="#0010d6"/><stop offset=".6" stop-color="#007cd6"/><stop offset=".714" stop-color="#00d5d6"/><stop offset=".829" stop-color="#30d6a7"/><stop offset="1" stop-color="#31d6a5"/></linearGradient><linearGradient id="g487"><stop offset="0" stop-color="#0000b5"/><stop offset=".25" stop-color="#0000c3"/><stop offset=".375" stop-color="#000ed6"/><stop offset=".562" stop-color="#0078d6"/><stop offset=".688" stop-color="#00cfd6"/><stop offset=".813" stop-color="#29d6ad"/><stop offset="1" stop-color="#2ad6ac"/></linearGradient><linearGradient id="g488"><stop offset="0" stop-color="#0000c0"/><stop offset=".214" stop-color="#0000ca"/><stop offset=".321" stop-color="#0011d6"/><stop offset=".536" stop-color="#0081d6"/><stop offset=".679" stop-color="#01d6d6"/><stop offset=".786" stop-color="#23d6b3"/><stop offset="1" stop-color="#25d6b2"/></linearGradient><linearGradient id="g489"><stop offset="0" stop-color="#0003d6"/><stop offset=".2" stop-color="#0008d6"/><stop offset=".4" stop-color="#0056d6"/><stop offset=".64" stop-color="#01d6d5"/><stop offset=".76" stop-color="#23d6b3"/><stop offset="1" stop-color="#25d6b1"/></linearGradient><linearGradient id="g490"><stop offset="0" stop-color="#0038d6"/><stop offset=".227" stop-color="#003fd6"/><stop offset=".545" stop-color="#00d2d6"/><stop offset=".727" stop-color="#31d6a6"/><stop offset="1" stop-color="#32d6a4"/></linearGradient><linearGradient id="g491"><stop offset="0" stop-color="#007ed6"/><stop offset=".263" stop-color="#0088d6"/><stop offset=".474" stop-color="#0ad6cc"/><stop offset=".684" stop-color="#3ed698"/><stop offset="1" stop-color="#40d696"/></linearGradient><linearGradient id="g492"><stop offset="0" stop-color="#00cfd6"/><stop offset=".312" stop-color="#03d6d3"/><stop offset=".562" stop-color="#45d691"/><stop offset="1" stop-color="#4dd689"/></linearGradient><linearGradient id="g493"><stop offset="0" stop-color="#41d695"/><stop offset=".923" stop-color="#5ad67c"/><stop offset="1" stop-color="#5ad67c"/></linearGradient><linearGradient id="g494"><stop offset="0" stop-color="#63d673"/><stop offset="1" stop-color="#63d673"/></linearGradient><linearGradient id="g495"><stop offset="0" stop-color="#63d674"/><stop offset="1" stop-color="#63d674"/></linearGradient><linearGradient id="g496"><stop offset="0" stop-color="#63d674"/><stop offset="1" stop-color="#63d674"/></linearGradient><clipPath id="cr2c4"><polygon points="2.5,-1.3 62.4,-104.2 112.5,-19.5 102,-1.3"/></clipPath></defs>
<g transform="translate(1127.8 667.2)">
<polygon points="0,0 62.3,-107 114,-19.5 102.8,0" fill="#3e3e3e" stroke="#3e3e3e" stroke-width="1" stroke-linejoin="miter" stroke-miterlimit="6"/>
<g clip-path="url(#cr2c4)"><g filter="url(#vb)"><rect x="-8.2" y="4" width="116.8" height="4.6" fill="url(#g466)"/><rect x="-8.2" y="0" width="116.8" height="4.6" fill="url(#g467)"/><rect x="-5.8" y="-4" width="116.8" height="4.6" fill="url(#g468)"/><rect x="-3.5" y="-8" width="116.8" height="4.6" fill="url(#g469)"/><rect x="-1.2" y="-12" width="116.7" height="4.6" fill="url(#g470)"/><rect x="1.2" y="-16" width="116.7" height="4.6" fill="url(#g471)"/><rect x="3.5" y="-20" width="116.7" height="4.6" fill="url(#g472)"/><rect x="5.8" y="-24" width="113.7" height="4.6" fill="url(#g473)"/><rect x="8.1" y="-28" width="109" height="4.6" fill="url(#g474)"/><rect x="10.5" y="-32" width="104.3" height="4.6" fill="url(#g475)"/><rect x="12.8" y="-36" width="99.6" height="4.6" fill="url(#g476)"/><rect x="15.1" y="-40" width="94.9" height="4.6" fill="url(#g477)"/><rect x="17.5" y="-44" width="90.3" height="4.6" fill="url(#g478)"/><rect x="19.8" y="-48" width="85.6" height="4.6" fill="url(#g479)"/><rect x="22.1" y="-52" width="80.9" height="4.6" fill="url(#g480)"/><rect x="24.4" y="-56" width="76.2" height="4.6" fill="url(#g481)"/><rect x="26.8" y="-60" width="71.5" height="4.6" fill="url(#g482)"/><rect x="29.1" y="-64" width="66.8" height="4.6" fill="url(#g483)"/><rect x="31.4" y="-68" width="62.1" height="4.6" fill="url(#g484)"/><rect x="33.8" y="-72" width="57.4" height="4.6" fill="url(#g485)"/><rect x="36.1" y="-76" width="52.7" height="4.6" fill="url(#g486)"/><rect x="38.4" y="-80" width="48" height="4.6" fill="url(#g487)"/><rect x="40.7" y="-84" width="43.3" height="4.6" fill="url(#g488)"/><rect x="43.1" y="-88" width="38.6" height="4.6" fill="url(#g489)"/><rect x="45.4" y="-92" width="33.9" height="4.6" fill="url(#g490)"/><rect x="47.7" y="-96" width="29.3" height="4.6" fill="url(#g491)"/><rect x="50.1" y="-100" width="24.6" height="4.6" fill="url(#g492)"/><rect x="52.4" y="-104" width="19.9" height="4.6" fill="url(#g493)"/><rect x="54.7" y="-108" width="15.2" height="4.6" fill="url(#g494)"/><rect x="56.5" y="-112" width="15" height="4.6" fill="url(#g495)"/><rect x="56.5" y="-116" width="15" height="4.6" fill="url(#g496)"/></g><use href="#meshg"/></g>
<circle cx="67.9" cy="-30.5" r="1.1" fill="#7a5fd0"/>
<text x="54.5" y="-104.1" font-size="13.7" fill="#3348ad" stroke="#3348ad" stroke-width=".25" text-anchor="end">0%</text>
<text x="71.9" y="-104.1" font-size="13.7" fill="#111" stroke="#111" stroke-width=".25">60%</text>
<text x="-.6" y="-53.6" font-size="15.5" fill="#1f30b4" stroke="#1f30b4" stroke-width=".45" font-weight="bold" text-anchor="middle">CS</text>
<text x="122.9" y="-58.7" font-size="14.9" fill="#111" stroke="#111" stroke-width=".45" font-weight="bold" text-anchor="middle">LAC</text>
<text x="-.2" y="-4" font-size="13.7" fill="#3348ad" stroke="#3348ad" stroke-width=".25" text-anchor="end">60%</text>
<text x="122.6" y="2.9" font-size="13.7" fill="#111" stroke="#111" stroke-width=".25">0%</text>
<text x="-.9" y="16.3" font-size="13.7" fill="#d0554c" stroke="#d0554c" stroke-width=".25" text-anchor="middle">40%</text>
<text x="56.8" y="17.7" font-size="16.2" fill="#e02818" stroke="#e02818" stroke-width=".45" font-weight="bold" text-anchor="middle">MCC</text>
<text x="109.6" y="16.3" font-size="13.7" fill="#d0554c" stroke="#d0554c" stroke-width=".25" text-anchor="middle">90%</text>
<rect x="-8.9" y="34.2" width="127.7" height="13.4" fill="url(#jet)"/><use href="#cbt"/>
<text x="-12.4" y="58" font-size="10.9" fill="#111" stroke="#111" stroke-width=".25">0</text>
<text x="110.8" y="58" font-size="10.9" fill="#111" stroke="#111" stroke-width=".25">400</text>
<text x="55.4" y="70.3" font-size="11.4" fill="#111" stroke="#111" stroke-width=".25" text-anchor="middle">DT (s)</text>
</g>
<defs><linearGradient id="g497"><stop offset="0" stop-color="#6b0000"/><stop offset=".091" stop-color="#750000"/><stop offset=".208" stop-color="#b30000"/><stop offset=".247" stop-color="#d60a00"/><stop offset=".351" stop-color="#d2d605"/><stop offset=".455" stop-color="#2cd6aa"/><stop offset=".494" stop-color="#00cfd6"/><stop offset=".636" stop-color="#0040d6"/><stop offset=".87" stop-color="#0053d6"/><stop offset="1" stop-color="#0057d6"/></linearGradient><linearGradient id="g498"><stop offset="0" stop-color="#6b0000"/><stop offset=".091" stop-color="#750000"/><stop offset=".208" stop-color="#b30000"/><stop offset=".247" stop-color="#d60a00"/><stop offset=".351" stop-color="#d2d605"/><stop offset=".455" stop-color="#2cd6aa"/><stop offset=".494" stop-color="#00cfd6"/><stop offset=".636" stop-color="#0040d6"/><stop offset=".87" stop-color="#0053d6"/><stop offset="1" stop-color="#0057d6"/></linearGradient><linearGradient id="g499"><stop offset="0" stop-color="#720000"/><stop offset=".091" stop-color="#810000"/><stop offset=".182" stop-color="#b20000"/><stop offset=".221" stop-color="#d60900"/><stop offset=".325" stop-color="#d2d604"/><stop offset=".429" stop-color="#2dd6a9"/><stop offset=".468" stop-color="#00d0d6"/><stop offset=".61" stop-color="#0040d6"/><stop offset=".844" stop-color="#0059d6"/><stop offset=".935" stop-color="#005bd6"/><stop offset="1" stop-color="#0069d6"/></linearGradient><linearGradient id="g500"><stop offset="0" stop-color="#810000"/><stop offset=".091" stop-color="#900000"/><stop offset=".156" stop-color="#b80000"/><stop offset=".182" stop-color="#d60000"/><stop offset=".221" stop-color="#d64400"/><stop offset=".286" stop-color="#d6cc00"/><stop offset=".364" stop-color="#5cd67a"/><stop offset=".429" stop-color="#02d6d4"/><stop offset=".571" stop-color="#0043d6"/><stop offset=".714" stop-color="#004fd6"/><stop offset=".805" stop-color="#0069d6"/><stop offset=".883" stop-color="#0066d6"/><stop offset=".961" stop-color="#00a7d6"/><stop offset="1" stop-color="#009cd6"/></linearGradient><linearGradient id="g501"><stop offset="0" stop-color="#900000"/><stop offset=".091" stop-color="#9e0000"/><stop offset=".156" stop-color="#d60600"/><stop offset=".182" stop-color="#d63200"/><stop offset=".26" stop-color="#d6d500"/><stop offset=".364" stop-color="#31d6a5"/><stop offset=".403" stop-color="#00d3d6"/><stop offset=".545" stop-color="#0040d6"/><stop offset=".688" stop-color="#0051d6"/><stop offset=".779" stop-color="#0077d6"/><stop offset=".844" stop-color="#0073d6"/><stop offset=".883" stop-color="#00a1d6"/><stop offset=".909" stop-color="#00d6d6"/><stop offset=".948" stop-color="#34d6a3"/><stop offset=".974" stop-color="#25d6b1"/><stop offset=".987" stop-color="#10d6c6"/><stop offset="1" stop-color="#10d6c6"/></linearGradient><linearGradient id="g502"><stop offset="0" stop-color="#9e0000"/><stop offset=".078" stop-color="#a70000"/><stop offset=".117" stop-color="#d30000"/><stop offset=".156" stop-color="#d63e00"/><stop offset=".221" stop-color="#d6c700"/><stop offset=".247" stop-color="#b7d61f"/><stop offset=".364" stop-color="#05d6d1"/><stop offset=".519" stop-color="#0040d6"/><stop offset=".662" stop-color="#0051d6"/><stop offset=".753" stop-color="#0084d6"/><stop offset=".818" stop-color="#0082d6"/><stop offset=".857" stop-color="#00bed6"/><stop offset=".87" stop-color="#0cd6ca"/><stop offset=".909" stop-color="#7cd65a"/><stop offset=".935" stop-color="#96d640"/><stop offset=".974" stop-color="#61d676"/><stop offset="1" stop-color="#61d676"/></linearGradient><linearGradient id="g503"><stop offset="0" stop-color="#b60000"/><stop offset=".065" stop-color="#b00"/><stop offset=".091" stop-color="#d60300"/><stop offset=".13" stop-color="#d64a00"/><stop offset=".195" stop-color="#d6d100"/><stop offset=".325" stop-color="#10d6c6"/><stop offset=".351" stop-color="#00c8d6"/><stop offset=".481" stop-color="#0041d6"/><stop offset=".623" stop-color="#004bd6"/><stop offset=".727" stop-color="#008ed6"/><stop offset=".805" stop-color="#0091d6"/><stop offset=".831" stop-color="#00bfd6"/><stop offset=".844" stop-color="#0ed6c8"/><stop offset=".883" stop-color="#93d644"/><stop offset=".909" stop-color="#c0d616"/><stop offset=".922" stop-color="#bcd61a"/><stop offset=".948" stop-color="#83d653"/><stop offset="1" stop-color="#83d653"/></linearGradient><linearGradient id="g504"><stop offset="0" stop-color="#d60400"/><stop offset=".067" stop-color="#d60a00"/><stop offset=".173" stop-color="#d2d604"/><stop offset=".28" stop-color="#2dd6a9"/><stop offset=".32" stop-color="#00d0d6"/><stop offset=".467" stop-color="#0040d6"/><stop offset=".627" stop-color="#004fd6"/><stop offset=".733" stop-color="#0096d6"/><stop offset=".8" stop-color="#008bd6"/><stop offset=".827" stop-color="#00a7d6"/><stop offset=".853" stop-color="#12d6c5"/><stop offset=".893" stop-color="#7fd657"/><stop offset=".92" stop-color="#96d640"/><stop offset=".96" stop-color="#80d656"/><stop offset="1" stop-color="#80d656"/></linearGradient><linearGradient id="g505"><stop offset="0" stop-color="#d63a00"/><stop offset=".069" stop-color="#d64500"/><stop offset=".139" stop-color="#d6cc00"/><stop offset=".264" stop-color="#26d6b0"/><stop offset=".292" stop-color="#02d6d4"/><stop offset=".444" stop-color="#0043d6"/><stop offset=".625" stop-color="#004cd6"/><stop offset=".736" stop-color="#0096d6"/><stop offset=".819" stop-color="#0081d6"/><stop offset=".861" stop-color="#00a7d6"/><stop offset=".889" stop-color="#03d6d3"/><stop offset=".931" stop-color="#34d6a2"/><stop offset="1" stop-color="#34d6a2"/></linearGradient><linearGradient id="g506"><stop offset="0" stop-color="#d68000"/><stop offset=".072" stop-color="#d68a00"/><stop offset=".116" stop-color="#d6d600"/><stop offset=".232" stop-color="#31d6a5"/><stop offset=".275" stop-color="#00d3d6"/><stop offset=".435" stop-color="#0040d6"/><stop offset=".638" stop-color="#004ed6"/><stop offset=".754" stop-color="#0092d6"/><stop offset=".855" stop-color="#0070d6"/><stop offset=".942" stop-color="#00a3d6"/><stop offset="1" stop-color="#00a3d6"/></linearGradient><linearGradient id="g507"><stop offset="0" stop-color="#d6be00"/><stop offset=".076" stop-color="#d6c700"/><stop offset=".106" stop-color="#b7d61f"/><stop offset=".242" stop-color="#06d6d0"/><stop offset=".424" stop-color="#0040d6"/><stop offset=".636" stop-color="#004ad6"/><stop offset=".758" stop-color="#0088d6"/><stop offset=".894" stop-color="#005cd6"/><stop offset="1" stop-color="#0063d6"/></linearGradient><linearGradient id="g508"><stop offset="0" stop-color="#b6d620"/><stop offset=".079" stop-color="#aed628"/><stop offset=".206" stop-color="#11d6c5"/><stop offset=".238" stop-color="#00c8d6"/><stop offset=".397" stop-color="#0042d6"/><stop offset=".651" stop-color="#004ad6"/><stop offset=".778" stop-color="#007dd6"/><stop offset=".937" stop-color="#004cd6"/><stop offset="1" stop-color="#004cd6"/></linearGradient><linearGradient id="g509"><stop offset="0" stop-color="#8dd649"/><stop offset=".083" stop-color="#85d651"/><stop offset=".2" stop-color="#03d6d3"/><stop offset=".383" stop-color="#0041d6"/><stop offset=".667" stop-color="#004ad6"/><stop offset=".8" stop-color="#006fd6"/><stop offset=".95" stop-color="#004ad6"/><stop offset="1" stop-color="#004ad6"/></linearGradient><linearGradient id="g510"><stop offset="0" stop-color="#79d65d"/><stop offset=".088" stop-color="#73d663"/><stop offset=".193" stop-color="#04d6d3"/><stop offset=".368" stop-color="#0044d6"/><stop offset=".684" stop-color="#0049d6"/><stop offset=".825" stop-color="#0062d6"/><stop offset=".982" stop-color="#004cd6"/><stop offset="1" stop-color="#004cd6"/></linearGradient><linearGradient id="g511"><stop offset="0" stop-color="#69d66d"/><stop offset=".094" stop-color="#61d675"/><stop offset=".189" stop-color="#05d6d1"/><stop offset=".34" stop-color="#004ed6"/><stop offset=".679" stop-color="#0044d6"/><stop offset=".868" stop-color="#0055d6"/><stop offset="1" stop-color="#004dd6"/></linearGradient><linearGradient id="g512"><stop offset="0" stop-color="#5bd67b"/><stop offset=".1" stop-color="#55d681"/><stop offset=".2" stop-color="#00ced6"/><stop offset=".32" stop-color="#005ed6"/><stop offset=".54" stop-color="#0041d6"/><stop offset="1" stop-color="#004cd6"/></linearGradient><linearGradient id="g513"><stop offset="0" stop-color="#40d696"/><stop offset=".106" stop-color="#3ad69c"/><stop offset=".17" stop-color="#06d6d0"/><stop offset=".277" stop-color="#0077d6"/><stop offset=".468" stop-color="#0047d6"/><stop offset="1" stop-color="#0049d6"/></linearGradient><linearGradient id="g514"><stop offset="0" stop-color="#1ed6b8"/><stop offset=".114" stop-color="#19d6be"/><stop offset=".159" stop-color="#00d0d6"/><stop offset=".25" stop-color="#0087d6"/><stop offset=".477" stop-color="#0049d6"/><stop offset="1" stop-color="#0045d6"/></linearGradient><linearGradient id="g515"><stop offset="0" stop-color="#00d5d6"/><stop offset=".122" stop-color="#00d0d6"/><stop offset=".22" stop-color="#0097d6"/><stop offset=".488" stop-color="#004dd6"/><stop offset="1" stop-color="#0043d6"/></linearGradient><linearGradient id="g516"><stop offset="0" stop-color="#00b5d6"/><stop offset=".132" stop-color="#00b1d6"/><stop offset=".526" stop-color="#004dd6"/><stop offset="1" stop-color="#0041d6"/></linearGradient><linearGradient id="g517"><stop offset="0" stop-color="#00a0d6"/><stop offset=".229" stop-color="#0096d6"/><stop offset=".6" stop-color="#0043d6"/><stop offset="1" stop-color="#003ad6"/></linearGradient><linearGradient id="g518"><stop offset="0" stop-color="#008dd6"/><stop offset=".281" stop-color="#007fd6"/><stop offset=".656" stop-color="#003bd6"/><stop offset="1" stop-color="#0034d6"/></linearGradient><linearGradient id="g519"><stop offset="0" stop-color="#0076d6"/><stop offset=".321" stop-color="#0069d6"/><stop offset=".75" stop-color="#0032d6"/><stop offset="1" stop-color="#002ed6"/></linearGradient><linearGradient id="g520"><stop offset="0" stop-color="#005ed6"/><stop offset=".4" stop-color="#0050d6"/><stop offset=".88" stop-color="#002ad6"/><stop offset="1" stop-color="#002ad6"/></linearGradient><linearGradient id="g521"><stop offset="0" stop-color="#0047d6"/><stop offset="1" stop-color="#0027d6"/></linearGradient><linearGradient id="g522"><stop offset="0" stop-color="#0030d6"/><stop offset="1" stop-color="#0021d6"/></linearGradient><linearGradient id="g523"><stop offset="0" stop-color="#0019d6"/><stop offset="1" stop-color="#0016d6"/></linearGradient><linearGradient id="g524"><stop offset="0" stop-color="#000dd6"/><stop offset="1" stop-color="#000dd6"/></linearGradient><linearGradient id="g525"><stop offset="0" stop-color="#000dd6"/><stop offset="1" stop-color="#000dd6"/></linearGradient><linearGradient id="g526"><stop offset="0" stop-color="#000dd6"/><stop offset="1" stop-color="#000dd6"/></linearGradient><linearGradient id="g527"><stop offset="0" stop-color="#000dd6"/><stop offset="1" stop-color="#000dd6"/></linearGradient><clipPath id="cr3c0"><polygon points="6.2,-2.9 62.9,-100.3 110.6,-19.5 101.1,-2.9"/></clipPath></defs>
<g transform="translate(348.7 890)">
<polygon points="0,0 62.3,-107 114,-19.5 102.8,0" fill="#3e3e3e" stroke="#3e3e3e" stroke-width="1" stroke-linejoin="miter" stroke-miterlimit="6"/>
<g clip-path="url(#cr3c0)"><g filter="url(#vb)"><rect x="-8.2" y="4" width="116.8" height="4.6" fill="url(#g497)"/><rect x="-8.2" y="0" width="116.8" height="4.6" fill="url(#g498)"/><rect x="-5.8" y="-4" width="116.8" height="4.6" fill="url(#g499)"/><rect x="-3.5" y="-8" width="116.8" height="4.6" fill="url(#g500)"/><rect x="-1.2" y="-12" width="116.7" height="4.6" fill="url(#g501)"/><rect x="1.2" y="-16" width="116.7" height="4.6" fill="url(#g502)"/><rect x="3.5" y="-20" width="116.7" height="4.6" fill="url(#g503)"/><rect x="5.8" y="-24" width="113.7" height="4.6" fill="url(#g504)"/><rect x="8.1" y="-28" width="109" height="4.6" fill="url(#g505)"/><rect x="10.5" y="-32" width="104.3" height="4.6" fill="url(#g506)"/><rect x="12.8" y="-36" width="99.6" height="4.6" fill="url(#g507)"/><rect x="15.1" y="-40" width="94.9" height="4.6" fill="url(#g508)"/><rect x="17.5" y="-44" width="90.3" height="4.6" fill="url(#g509)"/><rect x="19.8" y="-48" width="85.6" height="4.6" fill="url(#g510)"/><rect x="22.1" y="-52" width="80.9" height="4.6" fill="url(#g511)"/><rect x="24.4" y="-56" width="76.2" height="4.6" fill="url(#g512)"/><rect x="26.8" y="-60" width="71.5" height="4.6" fill="url(#g513)"/><rect x="29.1" y="-64" width="66.8" height="4.6" fill="url(#g514)"/><rect x="31.4" y="-68" width="62.1" height="4.6" fill="url(#g515)"/><rect x="33.8" y="-72" width="57.4" height="4.6" fill="url(#g516)"/><rect x="36.1" y="-76" width="52.7" height="4.6" fill="url(#g517)"/><rect x="38.4" y="-80" width="48" height="4.6" fill="url(#g518)"/><rect x="40.7" y="-84" width="43.3" height="4.6" fill="url(#g519)"/><rect x="43.1" y="-88" width="38.6" height="4.6" fill="url(#g520)"/><rect x="45.4" y="-92" width="33.9" height="4.6" fill="url(#g521)"/><rect x="47.7" y="-96" width="29.3" height="4.6" fill="url(#g522)"/><rect x="50.1" y="-100" width="24.6" height="4.6" fill="url(#g523)"/><rect x="52.4" y="-104" width="19.9" height="4.6" fill="url(#g524)"/><rect x="54.7" y="-108" width="15.2" height="4.6" fill="url(#g525)"/><rect x="56.5" y="-112" width="15" height="4.6" fill="url(#g526)"/><rect x="56.5" y="-116" width="15" height="4.6" fill="url(#g527)"/></g><use href="#meshg"/></g>
<text x="54.5" y="-104.1" font-size="13.7" fill="#3348ad" stroke="#3348ad" stroke-width=".25" text-anchor="end">0%</text>
<text x="71.9" y="-104.1" font-size="13.7" fill="#111" stroke="#111" stroke-width=".25">60%</text>
<text x="-.6" y="-53.6" font-size="15.5" fill="#1f30b4" stroke="#1f30b4" stroke-width=".45" font-weight="bold" text-anchor="middle">CS</text>
<text x="122.9" y="-58.7" font-size="14.9" fill="#111" stroke="#111" stroke-width=".45" font-weight="bold" text-anchor="middle">LAC</text>
<text x="-.2" y="-4" font-size="13.7" fill="#3348ad" stroke="#3348ad" stroke-width=".25" text-anchor="end">60%</text>
<text x="122.6" y="2.9" font-size="13.7" fill="#111" stroke="#111" stroke-width=".25">0%</text>
<text x="-.9" y="16.3" font-size="13.7" fill="#d0554c" stroke="#d0554c" stroke-width=".25" text-anchor="middle">40%</text>
<text x="56.8" y="17.7" font-size="16.2" fill="#e02818" stroke="#e02818" stroke-width=".45" font-weight="bold" text-anchor="middle">MCC</text>
<text x="109.6" y="16.3" font-size="13.7" fill="#d0554c" stroke="#d0554c" stroke-width=".25" text-anchor="middle">90%</text>
<rect x="-8.9" y="34.2" width="127.7" height="13.4" fill="url(#jet)"/><use href="#cbt"/>
<text x="-12.4" y="58" font-size="10.9" fill="#111" stroke="#111" stroke-width=".25">0</text>
<text x="110.8" y="58" font-size="10.9" fill="#111" stroke="#111" stroke-width=".25">180</text>
<text x="55.4" y="70.3" font-size="11.4" fill="#111" stroke="#111" stroke-width=".25" text-anchor="middle">DT (s)</text>
</g>
<defs><linearGradient id="g528"><stop offset="0" stop-color="#6b0000"/><stop offset=".078" stop-color="#710000"/><stop offset=".182" stop-color="#c20000"/><stop offset=".208" stop-color="#d60a00"/><stop offset=".234" stop-color="#d64300"/><stop offset=".286" stop-color="#d6d000"/><stop offset=".351" stop-color="#53d683"/><stop offset=".403" stop-color="#01d6d6"/><stop offset=".558" stop-color="#0004d6"/><stop offset=".61" stop-color="#0000a0"/><stop offset=".896" stop-color="#0000a9"/><stop offset="1" stop-color="#0000c1"/></linearGradient><linearGradient id="g529"><stop offset="0" stop-color="#6b0000"/><stop offset=".078" stop-color="#710000"/><stop offset=".182" stop-color="#c20000"/><stop offset=".208" stop-color="#d60a00"/><stop offset=".234" stop-color="#d64300"/><stop offset=".286" stop-color="#d6d000"/><stop offset=".351" stop-color="#53d683"/><stop offset=".403" stop-color="#01d6d6"/><stop offset=".558" stop-color="#0004d6"/><stop offset=".61" stop-color="#0000a0"/><stop offset=".896" stop-color="#0000a9"/><stop offset="1" stop-color="#0000c1"/></linearGradient><linearGradient id="g530"><stop offset="0" stop-color="#750000"/><stop offset=".078" stop-color="#810000"/><stop offset=".182" stop-color="#d60900"/><stop offset=".195" stop-color="#d61b00"/><stop offset=".26" stop-color="#d6cd00"/><stop offset=".338" stop-color="#40d696"/><stop offset=".377" stop-color="#02d6d4"/><stop offset=".532" stop-color="#0005d6"/><stop offset=".597" stop-color="#00009e"/><stop offset=".857" stop-color="#0000a7"/><stop offset=".974" stop-color="#0000cf"/><stop offset="1" stop-color="#00c"/></linearGradient><linearGradient id="g531"><stop offset="0" stop-color="#890000"/><stop offset=".078" stop-color="#950000"/><stop offset=".143" stop-color="#d40000"/><stop offset=".169" stop-color="#d62500"/><stop offset=".234" stop-color="#d6d500"/><stop offset=".299" stop-color="#50d687"/><stop offset=".351" stop-color="#00d4d6"/><stop offset=".506" stop-color="#0001d6"/><stop offset=".558" stop-color="#00009e"/><stop offset=".818" stop-color="#0000a7"/><stop offset=".909" stop-color="#000bd6"/><stop offset=".961" stop-color="#001ed6"/><stop offset="1" stop-color="#000bd6"/></linearGradient><linearGradient id="g532"><stop offset="0" stop-color="#9d0000"/><stop offset=".065" stop-color="#a00000"/><stop offset=".117" stop-color="#d60200"/><stop offset=".143" stop-color="#d62f00"/><stop offset=".208" stop-color="#cfd607"/><stop offset=".273" stop-color="#4ad68c"/><stop offset=".325" stop-color="#00d0d6"/><stop offset=".481" stop-color="#0000d4"/><stop offset=".532" stop-color="#00009e"/><stop offset=".792" stop-color="#0000a9"/><stop offset=".857" stop-color="#0008d6"/><stop offset=".922" stop-color="#0046d6"/><stop offset=".961" stop-color="#003fd6"/><stop offset="1" stop-color="#0026d6"/></linearGradient><linearGradient id="g533"><stop offset="0" stop-color="#b80000"/><stop offset=".065" stop-color="#be0000"/><stop offset=".104" stop-color="#d61500"/><stop offset=".169" stop-color="#d6c600"/><stop offset=".195" stop-color="#aad62c"/><stop offset=".247" stop-color="#44d692"/><stop offset=".286" stop-color="#06d6d0"/><stop offset=".442" stop-color="#0008d6"/><stop offset=".506" stop-color="#00009e"/><stop offset=".753" stop-color="#0000a5"/><stop offset=".818" stop-color="#0000d6"/><stop offset=".896" stop-color="#0067d6"/><stop offset=".935" stop-color="#0066d6"/><stop offset=".974" stop-color="#0042d6"/><stop offset="1" stop-color="#0042d6"/></linearGradient><linearGradient id="g534"><stop offset="0" stop-color="#d60400"/><stop offset=".065" stop-color="#d60a00"/><stop offset=".091" stop-color="#d64300"/><stop offset=".143" stop-color="#d6cf00"/><stop offset=".221" stop-color="#3fd697"/><stop offset=".26" stop-color="#01d6d5"/><stop offset=".416" stop-color="#0004d6"/><stop offset=".468" stop-color="#0000a0"/><stop offset=".727" stop-color="#0000a4"/><stop offset=".792" stop-color="#0000d4"/><stop offset=".87" stop-color="#0073d6"/><stop offset=".909" stop-color="#007dd6"/><stop offset=".948" stop-color="#0050d6"/><stop offset="1" stop-color="#0050d6"/></linearGradient><linearGradient id="g535"><stop offset="0" stop-color="#d63f00"/><stop offset=".053" stop-color="#d63f00"/><stop offset=".067" stop-color="#d64d00"/><stop offset=".12" stop-color="#d4d602"/><stop offset=".187" stop-color="#4ed689"/><stop offset=".24" stop-color="#00d2d6"/><stop offset=".4" stop-color="#0000d6"/><stop offset=".453" stop-color="#00009e"/><stop offset=".733" stop-color="#0000a6"/><stop offset=".8" stop-color="#0005d6"/><stop offset=".88" stop-color="#0073d6"/><stop offset=".92" stop-color="#0071d6"/><stop offset=".96" stop-color="#005dd6"/><stop offset="1" stop-color="#005dd6"/></linearGradient><linearGradient id="g536"><stop offset="0" stop-color="#d69200"/><stop offset=".056" stop-color="#d69200"/><stop offset=".069" stop-color="#d69e00"/><stop offset=".097" stop-color="#cdd60a"/><stop offset=".167" stop-color="#48d68e"/><stop offset=".222" stop-color="#00ced6"/><stop offset=".389" stop-color="#0000d3"/><stop offset=".444" stop-color="#00009e"/><stop offset=".75" stop-color="#0000a6"/><stop offset=".819" stop-color="#0002d6"/><stop offset=".889" stop-color="#0052d6"/><stop offset=".972" stop-color="#0056d6"/><stop offset="1" stop-color="#0056d6"/></linearGradient><linearGradient id="g537"><stop offset="0" stop-color="#cfd607"/><stop offset=".072" stop-color="#c5d612"/><stop offset=".13" stop-color="#57d67f"/><stop offset=".188" stop-color="#04d6d2"/><stop offset=".362" stop-color="#0007d6"/><stop offset=".435" stop-color="#00009e"/><stop offset=".768" stop-color="#0000a5"/><stop offset=".855" stop-color="#0003d6"/><stop offset=".928" stop-color="#0032d6"/><stop offset="1" stop-color="#0033d6"/></linearGradient><linearGradient id="g538"><stop offset="0" stop-color="#8dd64a"/><stop offset=".076" stop-color="#82d654"/><stop offset=".167" stop-color="#00d6d6"/><stop offset=".348" stop-color="#0004d6"/><stop offset=".409" stop-color="#0000a0"/><stop offset=".803" stop-color="#0000a6"/><stop offset=".924" stop-color="#0005d6"/><stop offset="1" stop-color="#0006d6"/></linearGradient><linearGradient id="g539"><stop offset="0" stop-color="#54d683"/><stop offset=".079" stop-color="#4cd68a"/><stop offset=".143" stop-color="#00d2d6"/><stop offset=".333" stop-color="#0000d6"/><stop offset=".397" stop-color="#00009e"/><stop offset=".841" stop-color="#0000a5"/><stop offset=".984" stop-color="#0000ba"/><stop offset="1" stop-color="#0000ba"/></linearGradient><linearGradient id="g540"><stop offset="0" stop-color="#24d6b2"/><stop offset=".083" stop-color="#1dd6b9"/><stop offset=".117" stop-color="#00cdd6"/><stop offset=".317" stop-color="#0000d3"/><stop offset=".383" stop-color="#00009e"/><stop offset="1" stop-color="#0000a7"/></linearGradient><linearGradient id="g541"><stop offset="0" stop-color="#00ced6"/><stop offset=".088" stop-color="#00c9d6"/><stop offset=".281" stop-color="#0007d6"/><stop offset=".368" stop-color="#00009e"/><stop offset="1" stop-color="#00009f"/></linearGradient><linearGradient id="g542"><stop offset="0" stop-color="#00a8d6"/><stop offset=".094" stop-color="#00a1d6"/><stop offset=".264" stop-color="#0000d6"/><stop offset=".34" stop-color="#00009e"/><stop offset="1" stop-color="#00009c"/></linearGradient><linearGradient id="g543"><stop offset="0" stop-color="#0083d6"/><stop offset=".1" stop-color="#007cd6"/><stop offset=".24" stop-color="#0000d2"/><stop offset=".32" stop-color="#00009e"/><stop offset="1" stop-color="#00009b"/></linearGradient><linearGradient id="g544"><stop offset="0" stop-color="#0058d6"/><stop offset=".106" stop-color="#0050d6"/><stop offset=".191" stop-color="#0007d6"/><stop offset=".298" stop-color="#00009e"/><stop offset="1" stop-color="#00009b"/></linearGradient><linearGradient id="g545"><stop offset="0" stop-color="#002cd6"/><stop offset=".114" stop-color="#0024d6"/><stop offset=".182" stop-color="#0000cb"/><stop offset=".25" stop-color="#00009f"/><stop offset="1" stop-color="#00009b"/></linearGradient><linearGradient id="g546"><stop offset="0" stop-color="#0005d6"/><stop offset=".122" stop-color="#0000d6"/><stop offset=".22" stop-color="#00009e"/><stop offset="1" stop-color="#00009c"/></linearGradient><linearGradient id="g547"><stop offset="0" stop-color="#0000ba"/><stop offset=".132" stop-color="#0000b5"/><stop offset=".211" stop-color="#00009e"/><stop offset="1" stop-color="#00009c"/></linearGradient><linearGradient id="g548"><stop offset="0" stop-color="#00009e"/><stop offset="1" stop-color="#00009c"/></linearGradient><linearGradient id="g549"><stop offset="0" stop-color="#00009e"/><stop offset="1" stop-color="#00009c"/></linearGradient><linearGradient id="g550"><stop offset="0" stop-color="#00009e"/><stop offset="1" stop-color="#00009c"/></linearGradient><linearGradient id="g551"><stop offset="0" stop-color="#00009e"/><stop offset="1" stop-color="#00009c"/></linearGradient><linearGradient id="g552"><stop offset="0" stop-color="#00009d"/><stop offset="1" stop-color="#00009c"/></linearGradient><linearGradient id="g553"><stop offset="0" stop-color="#00009d"/><stop offset="1" stop-color="#00009c"/></linearGradient><linearGradient id="g554"><stop offset="0" stop-color="#00009d"/><stop offset="1" stop-color="#00009c"/></linearGradient><linearGradient id="g555"><stop offset="0" stop-color="#00009d"/><stop offset="1" stop-color="#00009c"/></linearGradient><linearGradient id="g556"><stop offset="0" stop-color="#00009d"/><stop offset="1" stop-color="#00009c"/></linearGradient><linearGradient id="g557"><stop offset="0" stop-color="#00009c"/><stop offset="1" stop-color="#00009c"/></linearGradient><linearGradient id="g558"><stop offset="0" stop-color="#00009c"/><stop offset="1" stop-color="#00009c"/></linearGradient><clipPath id="cr3c1"><polygon points="5.2,-2.3 62.9,-101.5 111.3,-19.5 101.5,-2.3"/></clipPath></defs>
<g transform="translate(543.6 890)">
<polygon points="0,0 62.3,-107 114,-19.5 102.8,0" fill="#3e3e3e" stroke="#3e3e3e" stroke-width="1" stroke-linejoin="miter" stroke-miterlimit="6"/>
<g clip-path="url(#cr3c1)"><g filter="url(#vb)"><rect x="-8.2" y="4" width="116.8" height="4.6" fill="url(#g528)"/><rect x="-8.2" y="0" width="116.8" height="4.6" fill="url(#g529)"/><rect x="-5.8" y="-4" width="116.8" height="4.6" fill="url(#g530)"/><rect x="-3.5" y="-8" width="116.8" height="4.6" fill="url(#g531)"/><rect x="-1.2" y="-12" width="116.7" height="4.6" fill="url(#g532)"/><rect x="1.2" y="-16" width="116.7" height="4.6" fill="url(#g533)"/><rect x="3.5" y="-20" width="116.7" height="4.6" fill="url(#g534)"/><rect x="5.8" y="-24" width="113.7" height="4.6" fill="url(#g535)"/><rect x="8.1" y="-28" width="109" height="4.6" fill="url(#g536)"/><rect x="10.5" y="-32" width="104.3" height="4.6" fill="url(#g537)"/><rect x="12.8" y="-36" width="99.6" height="4.6" fill="url(#g538)"/><rect x="15.1" y="-40" width="94.9" height="4.6" fill="url(#g539)"/><rect x="17.5" y="-44" width="90.3" height="4.6" fill="url(#g540)"/><rect x="19.8" y="-48" width="85.6" height="4.6" fill="url(#g541)"/><rect x="22.1" y="-52" width="80.9" height="4.6" fill="url(#g542)"/><rect x="24.4" y="-56" width="76.2" height="4.6" fill="url(#g543)"/><rect x="26.8" y="-60" width="71.5" height="4.6" fill="url(#g544)"/><rect x="29.1" y="-64" width="66.8" height="4.6" fill="url(#g545)"/><rect x="31.4" y="-68" width="62.1" height="4.6" fill="url(#g546)"/><rect x="33.8" y="-72" width="57.4" height="4.6" fill="url(#g547)"/><rect x="36.1" y="-76" width="52.7" height="4.6" fill="url(#g548)"/><rect x="38.4" y="-80" width="48" height="4.6" fill="url(#g549)"/><rect x="40.7" y="-84" width="43.3" height="4.6" fill="url(#g550)"/><rect x="43.1" y="-88" width="38.6" height="4.6" fill="url(#g551)"/><rect x="45.4" y="-92" width="33.9" height="4.6" fill="url(#g552)"/><rect x="47.7" y="-96" width="29.3" height="4.6" fill="url(#g553)"/><rect x="50.1" y="-100" width="24.6" height="4.6" fill="url(#g554)"/><rect x="52.4" y="-104" width="19.9" height="4.6" fill="url(#g555)"/><rect x="54.7" y="-108" width="15.2" height="4.6" fill="url(#g556)"/><rect x="56.5" y="-112" width="15" height="4.6" fill="url(#g557)"/><rect x="56.5" y="-116" width="15" height="4.6" fill="url(#g558)"/></g><use href="#meshg"/></g>
<circle cx="68.5" cy="-32" r="1.6" fill="#e040e0"/>
<text x="54.5" y="-104.1" font-size="13.7" fill="#3348ad" stroke="#3348ad" stroke-width=".25" text-anchor="end">0%</text>
<text x="71.9" y="-104.1" font-size="13.7" fill="#111" stroke="#111" stroke-width=".25">60%</text>
<text x="-.6" y="-53.6" font-size="15.5" fill="#1f30b4" stroke="#1f30b4" stroke-width=".45" font-weight="bold" text-anchor="middle">CS</text>
<text x="122.9" y="-58.7" font-size="14.9" fill="#111" stroke="#111" stroke-width=".45" font-weight="bold" text-anchor="middle">LAC</text>
<text x="-.2" y="-4" font-size="13.7" fill="#3348ad" stroke="#3348ad" stroke-width=".25" text-anchor="end">60%</text>
<text x="122.6" y="2.9" font-size="13.7" fill="#111" stroke="#111" stroke-width=".25">0%</text>
<text x="-.9" y="16.3" font-size="13.7" fill="#d0554c" stroke="#d0554c" stroke-width=".25" text-anchor="middle">40%</text>
<text x="56.8" y="17.7" font-size="16.2" fill="#e02818" stroke="#e02818" stroke-width=".45" font-weight="bold" text-anchor="middle">MCC</text>
<text x="109.6" y="16.3" font-size="13.7" fill="#d0554c" stroke="#d0554c" stroke-width=".25" text-anchor="middle">90%</text>
<rect x="-8.9" y="34.2" width="127.7" height="13.4" fill="url(#jet)"/><use href="#cbt"/>
<text x="-12.4" y="58" font-size="10.9" fill="#111" stroke="#111" stroke-width=".25">20</text>
<text x="110.8" y="58" font-size="10.9" fill="#111" stroke="#111" stroke-width=".25">110</text>
<text x="55.4" y="70.3" font-size="11.4" fill="#111" stroke="#111" stroke-width=".25" text-anchor="middle">DT (s)</text>
</g>
<defs><linearGradient id="g559"><stop offset="0" stop-color="#a70000"/><stop offset=".091" stop-color="#b30000"/><stop offset=".169" stop-color="#d60600"/><stop offset=".221" stop-color="#d61d00"/><stop offset=".325" stop-color="#d6c000"/><stop offset=".351" stop-color="#ccd60a"/><stop offset=".519" stop-color="#00d6d6"/><stop offset=".636" stop-color="#002dd6"/><stop offset=".662" stop-color="#0005d6"/><stop offset=".701" stop-color="#0000a1"/><stop offset=".961" stop-color="#00009e"/><stop offset="1" stop-color="#0000c1"/></linearGradient><linearGradient id="g560"><stop offset="0" stop-color="#a70000"/><stop offset=".091" stop-color="#b30000"/><stop offset=".169" stop-color="#d60600"/><stop offset=".221" stop-color="#d61d00"/><stop offset=".325" stop-color="#d6c000"/><stop offset=".351" stop-color="#ccd60a"/><stop offset=".519" stop-color="#00d6d6"/><stop offset=".636" stop-color="#002dd6"/><stop offset=".662" stop-color="#0005d6"/><stop offset=".701" stop-color="#0000a1"/><stop offset=".961" stop-color="#00009e"/><stop offset="1" stop-color="#0000c1"/></linearGradient><linearGradient id="g561"><stop offset="0" stop-color="#af0000"/><stop offset=".078" stop-color="#b90000"/><stop offset=".156" stop-color="#d60b00"/><stop offset=".195" stop-color="#d61c00"/><stop offset=".299" stop-color="#d6be00"/><stop offset=".325" stop-color="#ced608"/><stop offset=".494" stop-color="#01d6d5"/><stop offset=".61" stop-color="#0030d6"/><stop offset=".649" stop-color="#0000ca"/><stop offset=".675" stop-color="#0000a3"/><stop offset=".922" stop-color="#0000a3"/><stop offset=".974" stop-color="#0005d6"/><stop offset="1" stop-color="#0028d6"/></linearGradient><linearGradient id="g562"><stop offset="0" stop-color="#c00000"/><stop offset=".078" stop-color="#ca0000"/><stop offset=".156" stop-color="#d61800"/><stop offset=".182" stop-color="#d63400"/><stop offset=".273" stop-color="#d6c200"/><stop offset=".299" stop-color="#cad60c"/><stop offset=".468" stop-color="#00d4d6"/><stop offset=".584" stop-color="#002bd6"/><stop offset=".61" stop-color="#0003d6"/><stop offset=".649" stop-color="#00009f"/><stop offset=".857" stop-color="#0000a1"/><stop offset=".909" stop-color="#0007d6"/><stop offset="1" stop-color="#00a5d6"/></linearGradient><linearGradient id="g563"><stop offset="0" stop-color="#d00000"/><stop offset=".104" stop-color="#d60e00"/><stop offset=".143" stop-color="#d62200"/><stop offset=".221" stop-color="#d6a300"/><stop offset=".26" stop-color="#d6d600"/><stop offset=".442" stop-color="#00cfd6"/><stop offset=".584" stop-color="#0000d5"/><stop offset=".623" stop-color="#00009e"/><stop offset=".805" stop-color="#0000a5"/><stop offset=".844" stop-color="#0000d2"/><stop offset=".896" stop-color="#0063d6"/><stop offset=".948" stop-color="#06d6d0"/><stop offset=".987" stop-color="#3cd69a"/><stop offset="1" stop-color="#3cd69a"/></linearGradient><linearGradient id="g564"><stop offset="0" stop-color="#d60700"/><stop offset=".091" stop-color="#d61500"/><stop offset=".117" stop-color="#d62800"/><stop offset=".195" stop-color="#d6a700"/><stop offset=".234" stop-color="#d2d604"/><stop offset=".403" stop-color="#06d6d0"/><stop offset=".506" stop-color="#004bd6"/><stop offset=".558" stop-color="#0000d0"/><stop offset=".597" stop-color="#00009e"/><stop offset=".74" stop-color="#00009e"/><stop offset=".792" stop-color="#0004d6"/><stop offset=".844" stop-color="#007bd6"/><stop offset=".87" stop-color="#00cad6"/><stop offset=".909" stop-color="#67d670"/><stop offset=".948" stop-color="#aad62c"/><stop offset="1" stop-color="#afd628"/></linearGradient><linearGradient id="g565"><stop offset="0" stop-color="#d61400"/><stop offset=".078" stop-color="#d61c00"/><stop offset=".182" stop-color="#d6bd00"/><stop offset=".208" stop-color="#ced608"/><stop offset=".377" stop-color="#02d6d4"/><stop offset=".481" stop-color="#0046d6"/><stop offset=".532" stop-color="#0000cb"/><stop offset=".558" stop-color="#0000a4"/><stop offset=".688" stop-color="#00009f"/><stop offset=".74" stop-color="#0006d6"/><stop offset=".779" stop-color="#005fd6"/><stop offset=".818" stop-color="#0bd6cb"/><stop offset=".87" stop-color="#c8d60e"/><stop offset=".896" stop-color="#d6a500"/><stop offset=".922" stop-color="#d68f00"/><stop offset="1" stop-color="#d68f00"/></linearGradient><linearGradient id="g566"><stop offset="0" stop-color="#d62b00"/><stop offset=".067" stop-color="#d63400"/><stop offset=".16" stop-color="#d6c200"/><stop offset=".187" stop-color="#cad60c"/><stop offset=".36" stop-color="#00d4d6"/><stop offset=".48" stop-color="#002bd6"/><stop offset=".507" stop-color="#0003d6"/><stop offset=".547" stop-color="#00009f"/><stop offset=".667" stop-color="#0000a0"/><stop offset=".72" stop-color="#0008d6"/><stop offset=".76" stop-color="#0062d6"/><stop offset=".787" stop-color="#00b5d6"/><stop offset=".8" stop-color="#0ed6c8"/><stop offset=".853" stop-color="#c8d60e"/><stop offset=".88" stop-color="#d6a800"/><stop offset=".92" stop-color="#d69600"/><stop offset="1" stop-color="#d69600"/></linearGradient><linearGradient id="g567"><stop offset="0" stop-color="#d65f00"/><stop offset=".069" stop-color="#d66800"/><stop offset=".153" stop-color="#d6d600"/><stop offset=".347" stop-color="#00d0d6"/><stop offset=".472" stop-color="#0027d6"/><stop offset=".5" stop-color="#0000d6"/><stop offset=".542" stop-color="#00009e"/><stop offset=".653" stop-color="#00009c"/><stop offset=".708" stop-color="#0000d6"/><stop offset=".75" stop-color="#0053d6"/><stop offset=".792" stop-color="#00cbd6"/><stop offset=".861" stop-color="#c1d615"/><stop offset=".875" stop-color="#d6d400"/><stop offset=".917" stop-color="#d6c400"/><stop offset="1" stop-color="#d6c400"/></linearGradient><linearGradient id="g568"><stop offset="0" stop-color="#d68f00"/><stop offset=".072" stop-color="#d69600"/><stop offset=".13" stop-color="#d2d604"/><stop offset=".319" stop-color="#07d6cf"/><stop offset=".435" stop-color="#004cd6"/><stop offset=".493" stop-color="#0000d2"/><stop offset=".536" stop-color="#00009e"/><stop offset=".652" stop-color="#0000a2"/><stop offset=".696" stop-color="#0000ce"/><stop offset=".725" stop-color="#0026d6"/><stop offset=".797" stop-color="#05d6d1"/><stop offset=".855" stop-color="#96d640"/><stop offset=".884" stop-color="#b7d61f"/><stop offset="1" stop-color="#bad61c"/></linearGradient><linearGradient id="g569"><stop offset="0" stop-color="#d6b700"/><stop offset=".076" stop-color="#d6bd00"/><stop offset=".121" stop-color="#c0d617"/><stop offset=".303" stop-color="#03d6d3"/><stop offset=".485" stop-color="#0000ce"/><stop offset=".53" stop-color="#00009e"/><stop offset=".636" stop-color="#00009d"/><stop offset=".697" stop-color="#0002d6"/><stop offset=".758" stop-color="#0074d6"/><stop offset=".803" stop-color="#0cd6ca"/><stop offset=".848" stop-color="#6ad66d"/><stop offset=".894" stop-color="#8ad64c"/><stop offset="1" stop-color="#8ad64c"/></linearGradient><linearGradient id="g570"><stop offset="0" stop-color="#d0d606"/><stop offset=".079" stop-color="#cbd60b"/><stop offset=".286" stop-color="#00d6d6"/><stop offset=".429" stop-color="#002ed6"/><stop offset=".476" stop-color="#0000ca"/><stop offset=".508" stop-color="#0000a3"/><stop offset=".635" stop-color="#0000a2"/><stop offset=".683" stop-color="#0000ce"/><stop offset=".714" stop-color="#0024d6"/><stop offset=".81" stop-color="#0ad6cc"/><stop offset=".857" stop-color="#4ed688"/><stop offset=".984" stop-color="#5ad67c"/><stop offset="1" stop-color="#5ad67c"/></linearGradient><linearGradient id="g571"><stop offset="0" stop-color="#aed628"/><stop offset=".083" stop-color="#a9d62d"/><stop offset=".267" stop-color="#00d2d6"/><stop offset=".417" stop-color="#002ad6"/><stop offset=".45" stop-color="#0003d6"/><stop offset=".5" stop-color="#00009f"/><stop offset=".633" stop-color="#0000a6"/><stop offset=".683" stop-color="#0000d4"/><stop offset=".767" stop-color="#007fd6"/><stop offset=".817" stop-color="#00d0d6"/><stop offset=".867" stop-color="#25d6b1"/><stop offset="1" stop-color="#27d6b0"/></linearGradient><linearGradient id="g572"><stop offset="0" stop-color="#8cd64a"/><stop offset=".088" stop-color="#87d64f"/><stop offset=".246" stop-color="#00ced6"/><stop offset=".439" stop-color="#0000d5"/><stop offset=".491" stop-color="#00009e"/><stop offset=".614" stop-color="#00009e"/><stop offset=".684" stop-color="#0002d6"/><stop offset=".825" stop-color="#00b4d6"/><stop offset=".877" stop-color="#00c9d6"/><stop offset="1" stop-color="#00c9d6"/></linearGradient><linearGradient id="g573"><stop offset="0" stop-color="#6bd66c"/><stop offset=".094" stop-color="#64d672"/><stop offset=".208" stop-color="#01d6d5"/><stop offset=".377" stop-color="#002ed6"/><stop offset=".415" stop-color="#0006d6"/><stop offset=".472" stop-color="#0000a1"/><stop offset=".623" stop-color="#0000a6"/><stop offset=".679" stop-color="#0000d2"/><stop offset=".811" stop-color="#0082d6"/><stop offset=".887" stop-color="#0096d6"/><stop offset="1" stop-color="#0096d6"/></linearGradient><linearGradient id="g574"><stop offset="0" stop-color="#46d690"/><stop offset=".1" stop-color="#3fd697"/><stop offset=".18" stop-color="#00d3d6"/><stop offset=".36" stop-color="#0029d6"/><stop offset=".4" stop-color="#0002d6"/><stop offset=".46" stop-color="#00009e"/><stop offset=".62" stop-color="#0000a4"/><stop offset=".7" stop-color="#0007d6"/><stop offset=".82" stop-color="#005cd6"/><stop offset="1" stop-color="#0063d6"/></linearGradient><linearGradient id="g575"><stop offset="0" stop-color="#21d6b5"/><stop offset=".106" stop-color="#1ad6bc"/><stop offset=".149" stop-color="#00cfd6"/><stop offset=".383" stop-color="#0000d4"/><stop offset=".447" stop-color="#00009e"/><stop offset=".617" stop-color="#00009f"/><stop offset=".723" stop-color="#0004d6"/><stop offset=".83" stop-color="#002ed6"/><stop offset="1" stop-color="#002fd6"/></linearGradient><linearGradient id="g576"><stop offset="0" stop-color="#00d2d6"/><stop offset=".114" stop-color="#00cbd6"/><stop offset=".364" stop-color="#0000d0"/><stop offset=".432" stop-color="#00009e"/><stop offset=".636" stop-color="#0000a0"/><stop offset=".795" stop-color="#0001d6"/><stop offset="1" stop-color="#0004d6"/></linearGradient><linearGradient id="g577"><stop offset="0" stop-color="#00acd6"/><stop offset=".122" stop-color="#00a5d6"/><stop offset=".317" stop-color="#0009d6"/><stop offset=".415" stop-color="#00009e"/><stop offset=".683" stop-color="#0000a3"/><stop offset=".878" stop-color="#0000b8"/><stop offset="1" stop-color="#0000b8"/></linearGradient><linearGradient id="g578"><stop offset="0" stop-color="#0085d6"/><stop offset=".132" stop-color="#007fd6"/><stop offset=".289" stop-color="#0004d6"/><stop offset=".368" stop-color="#0000a0"/><stop offset="1" stop-color="#00009a"/></linearGradient><linearGradient id="g579"><stop offset="0" stop-color="#0058d6"/><stop offset=".143" stop-color="#0051d6"/><stop offset=".257" stop-color="#0000d6"/><stop offset=".343" stop-color="#00009e"/><stop offset="1" stop-color="#00009a"/></linearGradient><linearGradient id="g580"><stop offset="0" stop-color="#0029d6"/><stop offset=".156" stop-color="#0022d6"/><stop offset=".219" stop-color="#0000d2"/><stop offset=".312" stop-color="#00009e"/><stop offset="1" stop-color="#00009a"/></linearGradient><linearGradient id="g581"><stop offset="0" stop-color="#0000d3"/><stop offset=".179" stop-color="#0000c9"/><stop offset=".25" stop-color="#0000a1"/><stop offset="1" stop-color="#00009a"/></linearGradient><linearGradient id="g582"><stop offset="0" stop-color="#0000a7"/><stop offset="1" stop-color="#00009b"/></linearGradient><linearGradient id="g583"><stop offset="0" stop-color="#00009e"/><stop offset="1" stop-color="#00009b"/></linearGradient><linearGradient id="g584"><stop offset="0" stop-color="#00009e"/><stop offset="1" stop-color="#00009b"/></linearGradient><linearGradient id="g585"><stop offset="0" stop-color="#00009d"/><stop offset="1" stop-color="#00009b"/></linearGradient><linearGradient id="g586"><stop offset="0" stop-color="#00009c"/><stop offset="1" stop-color="#00009b"/></linearGradient><linearGradient id="g587"><stop offset="0" stop-color="#00009c"/><stop offset="1" stop-color="#00009c"/></linearGradient><linearGradient id="g588"><stop offset="0" stop-color="#00009c"/><stop offset="1" stop-color="#00009c"/></linearGradient><linearGradient id="g589"><stop offset="0" stop-color="#00009c"/><stop offset="1" stop-color="#00009c"/></linearGradient><clipPath id="cr3c2"><polygon points="6.5,-3.1 63,-100.1 110.6,-19.5 101.2,-3.1"/></clipPath></defs>
<g transform="translate(738.3 890)">
<polygon points="0,0 62.3,-107 114,-19.5 102.8,0" fill="#3e3e3e" stroke="#3e3e3e" stroke-width="1" stroke-linejoin="miter" stroke-miterlimit="6"/>
<g clip-path="url(#cr3c2)"><g filter="url(#vb)"><rect x="-8.2" y="4" width="116.8" height="4.6" fill="url(#g559)"/><rect x="-8.2" y="0" width="116.8" height="4.6" fill="url(#g560)"/><rect x="-5.8" y="-4" width="116.8" height="4.6" fill="url(#g561)"/><rect x="-3.5" y="-8" width="116.8" height="4.6" fill="url(#g562)"/><rect x="-1.2" y="-12" width="116.7" height="4.6" fill="url(#g563)"/><rect x="1.2" y="-16" width="116.7" height="4.6" fill="url(#g564)"/><rect x="3.5" y="-20" width="116.7" height="4.6" fill="url(#g565)"/><rect x="5.8" y="-24" width="113.7" height="4.6" fill="url(#g566)"/><rect x="8.1" y="-28" width="109" height="4.6" fill="url(#g567)"/><rect x="10.5" y="-32" width="104.3" height="4.6" fill="url(#g568)"/><rect x="12.8" y="-36" width="99.6" height="4.6" fill="url(#g569)"/><rect x="15.1" y="-40" width="94.9" height="4.6" fill="url(#g570)"/><rect x="17.5" y="-44" width="90.3" height="4.6" fill="url(#g571)"/><rect x="19.8" y="-48" width="85.6" height="4.6" fill="url(#g572)"/><rect x="22.1" y="-52" width="80.9" height="4.6" fill="url(#g573)"/><rect x="24.4" y="-56" width="76.2" height="4.6" fill="url(#g574)"/><rect x="26.8" y="-60" width="71.5" height="4.6" fill="url(#g575)"/><rect x="29.1" y="-64" width="66.8" height="4.6" fill="url(#g576)"/><rect x="31.4" y="-68" width="62.1" height="4.6" fill="url(#g577)"/><rect x="33.8" y="-72" width="57.4" height="4.6" fill="url(#g578)"/><rect x="36.1" y="-76" width="52.7" height="4.6" fill="url(#g579)"/><rect x="38.4" y="-80" width="48" height="4.6" fill="url(#g580)"/><rect x="40.7" y="-84" width="43.3" height="4.6" fill="url(#g581)"/><rect x="43.1" y="-88" width="38.6" height="4.6" fill="url(#g582)"/><rect x="45.4" y="-92" width="33.9" height="4.6" fill="url(#g583)"/><rect x="47.7" y="-96" width="29.3" height="4.6" fill="url(#g584)"/><rect x="50.1" y="-100" width="24.6" height="4.6" fill="url(#g585)"/><rect x="52.4" y="-104" width="19.9" height="4.6" fill="url(#g586)"/><rect x="54.7" y="-108" width="15.2" height="4.6" fill="url(#g587)"/><rect x="56.5" y="-112" width="15" height="4.6" fill="url(#g588)"/><rect x="56.5" y="-116" width="15" height="4.6" fill="url(#g589)"/></g><use href="#meshg"/></g>
<circle cx="68.8" cy="-34" r="1.6" fill="#e040e0"/>
<text x="54.5" y="-104.1" font-size="13.7" fill="#3348ad" stroke="#3348ad" stroke-width=".25" text-anchor="end">0%</text>
<text x="71.9" y="-104.1" font-size="13.7" fill="#111" stroke="#111" stroke-width=".25">60%</text>
<text x="-.6" y="-53.6" font-size="15.5" fill="#1f30b4" stroke="#1f30b4" stroke-width=".45" font-weight="bold" text-anchor="middle">CS</text>
<text x="122.9" y="-58.7" font-size="14.9" fill="#111" stroke="#111" stroke-width=".45" font-weight="bold" text-anchor="middle">LAC</text>
<text x="-.2" y="-4" font-size="13.7" fill="#3348ad" stroke="#3348ad" stroke-width=".25" text-anchor="end">60%</text>
<text x="122.6" y="2.9" font-size="13.7" fill="#111" stroke="#111" stroke-width=".25">0%</text>
<text x="-.9" y="16.3" font-size="13.7" fill="#d0554c" stroke="#d0554c" stroke-width=".25" text-anchor="middle">40%</text>
<text x="56.8" y="17.7" font-size="16.2" fill="#e02818" stroke="#e02818" stroke-width=".45" font-weight="bold" text-anchor="middle">MCC</text>
<text x="109.6" y="16.3" font-size="13.7" fill="#d0554c" stroke="#d0554c" stroke-width=".25" text-anchor="middle">90%</text>
<rect x="-8.9" y="34.2" width="127.7" height="13.4" fill="url(#jet)"/><use href="#cbt"/>
<text x="-12.4" y="58" font-size="10.9" fill="#111" stroke="#111" stroke-width=".25">10</text>
<text x="110.8" y="58" font-size="10.9" fill="#111" stroke="#111" stroke-width=".25">70</text>
<text x="55.4" y="70.3" font-size="11.4" fill="#111" stroke="#111" stroke-width=".25" text-anchor="middle">DT (s)</text>
</g>
<defs><linearGradient id="g590"><stop offset="0" stop-color="#0000b0"/><stop offset=".831" stop-color="#0000bc"/><stop offset=".948" stop-color="#0008d6"/><stop offset="1" stop-color="#0030d6"/></linearGradient><linearGradient id="g591"><stop offset="0" stop-color="#0000b0"/><stop offset=".831" stop-color="#0000bc"/><stop offset=".948" stop-color="#0008d6"/><stop offset="1" stop-color="#0030d6"/></linearGradient><linearGradient id="g592"><stop offset="0" stop-color="#0000b0"/><stop offset=".792" stop-color="#0000bd"/><stop offset=".909" stop-color="#000ad6"/><stop offset="1" stop-color="#0062d6"/></linearGradient><linearGradient id="g593"><stop offset="0" stop-color="#0000b0"/><stop offset=".727" stop-color="#0000bd"/><stop offset=".844" stop-color="#0008d6"/><stop offset=".922" stop-color="#0053d6"/><stop offset="1" stop-color="#00c3d6"/></linearGradient><linearGradient id="g594"><stop offset="0" stop-color="#0000b0"/><stop offset=".662" stop-color="#0000bd"/><stop offset=".779" stop-color="#0004d6"/><stop offset=".857" stop-color="#004ad6"/><stop offset=".935" stop-color="#00d1d6"/><stop offset=".987" stop-color="#41d696"/><stop offset="1" stop-color="#41d696"/></linearGradient><linearGradient id="g595"><stop offset="0" stop-color="#0000b0"/><stop offset=".623" stop-color="#0000bf"/><stop offset=".74" stop-color="#0009d6"/><stop offset=".805" stop-color="#0044d6"/><stop offset=".883" stop-color="#00d2d6"/><stop offset=".935" stop-color="#56d680"/><stop offset=".974" stop-color="#6bd66b"/><stop offset="1" stop-color="#6bd66b"/></linearGradient><linearGradient id="g596"><stop offset="0" stop-color="#0000b0"/><stop offset=".571" stop-color="#0000be"/><stop offset=".688" stop-color="#0007d6"/><stop offset=".753" stop-color="#003ed6"/><stop offset=".818" stop-color="#00b2d6"/><stop offset=".831" stop-color="#00cfd6"/><stop offset=".896" stop-color="#78d65e"/><stop offset=".935" stop-color="#8dd649"/><stop offset="1" stop-color="#8dd649"/></linearGradient><linearGradient id="g597"><stop offset="0" stop-color="#0000b0"/><stop offset=".547" stop-color="#0000bf"/><stop offset=".667" stop-color="#0009d6"/><stop offset=".733" stop-color="#0043d6"/><stop offset=".8" stop-color="#00bbd6"/><stop offset=".813" stop-color="#02d6d4"/><stop offset=".867" stop-color="#70d666"/><stop offset=".907" stop-color="#95d641"/><stop offset="1" stop-color="#96d640"/></linearGradient><linearGradient id="g598"><stop offset="0" stop-color="#0000b0"/><stop offset=".528" stop-color="#0000bf"/><stop offset=".653" stop-color="#0009d6"/><stop offset=".722" stop-color="#0043d6"/><stop offset=".806" stop-color="#03d6d3"/><stop offset=".861" stop-color="#70d666"/><stop offset=".903" stop-color="#95d641"/><stop offset="1" stop-color="#96d640"/></linearGradient><linearGradient id="g599"><stop offset="0" stop-color="#0000b0"/><stop offset=".522" stop-color="#0000c1"/><stop offset=".638" stop-color="#000ad6"/><stop offset=".71" stop-color="#0044d6"/><stop offset=".797" stop-color="#04d6d3"/><stop offset=".855" stop-color="#70d666"/><stop offset=".899" stop-color="#95d641"/><stop offset="1" stop-color="#96d640"/></linearGradient><linearGradient id="g600"><stop offset="0" stop-color="#0000b0"/><stop offset=".5" stop-color="#0000c1"/><stop offset=".621" stop-color="#000ad6"/><stop offset=".697" stop-color="#0044d6"/><stop offset=".788" stop-color="#04d6d2"/><stop offset=".848" stop-color="#71d665"/><stop offset=".894" stop-color="#95d641"/><stop offset="1" stop-color="#96d640"/></linearGradient><linearGradient id="g601"><stop offset="0" stop-color="#0000b0"/><stop offset=".492" stop-color="#0000c3"/><stop offset=".603" stop-color="#000ad6"/><stop offset=".683" stop-color="#0045d6"/><stop offset=".778" stop-color="#05d6d1"/><stop offset=".841" stop-color="#71d665"/><stop offset=".889" stop-color="#95d641"/><stop offset="1" stop-color="#96d640"/></linearGradient><linearGradient id="g602"><stop offset="0" stop-color="#0000b0"/><stop offset=".467" stop-color="#0000c4"/><stop offset=".583" stop-color="#000ad6"/><stop offset=".667" stop-color="#0045d6"/><stop offset=".767" stop-color="#05d6d1"/><stop offset=".833" stop-color="#71d666"/><stop offset=".883" stop-color="#94d642"/><stop offset="1" stop-color="#95d641"/></linearGradient><linearGradient id="g603"><stop offset="0" stop-color="#0000b0"/><stop offset=".456" stop-color="#0000c6"/><stop offset=".561" stop-color="#000bd6"/><stop offset=".649" stop-color="#0045d6"/><stop offset=".754" stop-color="#04d6d2"/><stop offset=".825" stop-color="#6fd667"/><stop offset=".877" stop-color="#92d644"/><stop offset="1" stop-color="#93d644"/></linearGradient><linearGradient id="g604"><stop offset="0" stop-color="#0000b1"/><stop offset=".434" stop-color="#0000c7"/><stop offset=".547" stop-color="#000fd6"/><stop offset=".642" stop-color="#0051d6"/><stop offset=".736" stop-color="#00d2d6"/><stop offset=".83" stop-color="#7cd65a"/><stop offset=".887" stop-color="#90d646"/><stop offset="1" stop-color="#90d646"/></linearGradient><linearGradient id="g605"><stop offset="0" stop-color="#0000b2"/><stop offset=".42" stop-color="#0000cb"/><stop offset=".52" stop-color="#000fd6"/><stop offset=".62" stop-color="#0051d6"/><stop offset=".72" stop-color="#00d2d6"/><stop offset=".82" stop-color="#7ad65c"/><stop offset=".88" stop-color="#8ed648"/><stop offset="1" stop-color="#8ed648"/></linearGradient><linearGradient id="g606"><stop offset="0" stop-color="#0000b4"/><stop offset=".404" stop-color="#0000ce"/><stop offset=".511" stop-color="#0018d6"/><stop offset=".617" stop-color="#0066d6"/><stop offset=".702" stop-color="#00d1d6"/><stop offset=".809" stop-color="#78d65e"/><stop offset=".872" stop-color="#8cd64b"/><stop offset="1" stop-color="#8cd64b"/></linearGradient><linearGradient id="g607"><stop offset="0" stop-color="#0000b7"/><stop offset=".364" stop-color="#0000ce"/><stop offset=".477" stop-color="#0018d6"/><stop offset=".591" stop-color="#0066d6"/><stop offset=".682" stop-color="#00d0d6"/><stop offset=".795" stop-color="#76d660"/><stop offset=".864" stop-color="#89d64d"/><stop offset="1" stop-color="#89d64d"/></linearGradient><linearGradient id="g608"><stop offset="0" stop-color="#0000ba"/><stop offset=".39" stop-color="#0008d6"/><stop offset=".512" stop-color="#003fd6"/><stop offset=".634" stop-color="#00b3d6"/><stop offset=".659" stop-color="#00d0d6"/><stop offset=".78" stop-color="#74d662"/><stop offset=".878" stop-color="#87d64f"/><stop offset="1" stop-color="#87d64f"/></linearGradient><linearGradient id="g609"><stop offset="0" stop-color="#0000c0"/><stop offset=".342" stop-color="#0008d6"/><stop offset=".474" stop-color="#003fd6"/><stop offset=".605" stop-color="#00b3d6"/><stop offset=".632" stop-color="#00cfd6"/><stop offset=".763" stop-color="#73d664"/><stop offset=".868" stop-color="#85d651"/><stop offset="1" stop-color="#85d651"/></linearGradient><linearGradient id="g610"><stop offset="0" stop-color="#0000c6"/><stop offset=".286" stop-color="#0007d6"/><stop offset=".429" stop-color="#003ed6"/><stop offset=".571" stop-color="#00afd6"/><stop offset=".629" stop-color="#11d6c5"/><stop offset=".743" stop-color="#6bd66b"/><stop offset=".857" stop-color="#7cd65a"/><stop offset="1" stop-color="#7cd65a"/></linearGradient><linearGradient id="g611"><stop offset="0" stop-color="#0000d1"/><stop offset=".219" stop-color="#0007d6"/><stop offset=".375" stop-color="#003dd6"/><stop offset=".531" stop-color="#00acd6"/><stop offset=".594" stop-color="#0cd6ca"/><stop offset=".719" stop-color="#63d673"/><stop offset=".844" stop-color="#74d663"/><stop offset="1" stop-color="#74d663"/></linearGradient><linearGradient id="g612"><stop offset="0" stop-color="#000bd6"/><stop offset=".214" stop-color="#0018d6"/><stop offset=".393" stop-color="#0069d6"/><stop offset=".536" stop-color="#00d1d6"/><stop offset=".679" stop-color="#57d67f"/><stop offset=".786" stop-color="#6bd66b"/><stop offset="1" stop-color="#6bd66b"/></linearGradient><linearGradient id="g613"><stop offset="0" stop-color="#002dd6"/><stop offset=".2" stop-color="#0034d6"/><stop offset=".4" stop-color="#009bd6"/><stop offset=".48" stop-color="#00d0d6"/><stop offset=".68" stop-color="#60d677"/><stop offset="1" stop-color="#67d66f"/></linearGradient><linearGradient id="g614"><stop offset="0" stop-color="#006fd6"/><stop offset=".227" stop-color="#0079d6"/><stop offset=".409" stop-color="#06d6d1"/><stop offset=".591" stop-color="#5dd67a"/><stop offset=".773" stop-color="#6fd667"/><stop offset="1" stop-color="#6fd667"/></linearGradient><linearGradient id="g615"><stop offset="0" stop-color="#00c1d6"/><stop offset=".211" stop-color="#00c1d6"/><stop offset=".316" stop-color="#0fd6c7"/><stop offset=".526" stop-color="#63d674"/><stop offset=".737" stop-color="#74d662"/><stop offset="1" stop-color="#74d662"/></linearGradient><linearGradient id="g616"><stop offset="0" stop-color="#3dd699"/><stop offset=".312" stop-color="#46d690"/><stop offset=".5" stop-color="#73d663"/><stop offset="1" stop-color="#79d65d"/></linearGradient><linearGradient id="g617"><stop offset="0" stop-color="#75d661"/><stop offset="1" stop-color="#7fd658"/></linearGradient><linearGradient id="g618"><stop offset="0" stop-color="#7fd657"/><stop offset="1" stop-color="#7fd657"/></linearGradient><linearGradient id="g619"><stop offset="0" stop-color="#7cd65a"/><stop offset="1" stop-color="#7cd65a"/></linearGradient><linearGradient id="g620"><stop offset="0" stop-color="#7cd65a"/><stop offset="1" stop-color="#7cd65a"/></linearGradient><clipPath id="cr3c3"><polygon points="5.2,-2.3 62.8,-101.3 111.1,-19.5 101.2,-2.3"/></clipPath></defs>
<g transform="translate(933.9 890)">
<polygon points="0,0 62.3,-107 114,-19.5 102.8,0" fill="#3e3e3e" stroke="#3e3e3e" stroke-width="1" stroke-linejoin="miter" stroke-miterlimit="6"/>
<g clip-path="url(#cr3c3)"><g filter="url(#vb)"><rect x="-8.2" y="4" width="116.8" height="4.6" fill="url(#g590)"/><rect x="-8.2" y="0" width="116.8" height="4.6" fill="url(#g591)"/><rect x="-5.8" y="-4" width="116.8" height="4.6" fill="url(#g592)"/><rect x="-3.5" y="-8" width="116.8" height="4.6" fill="url(#g593)"/><rect x="-1.2" y="-12" width="116.7" height="4.6" fill="url(#g594)"/><rect x="1.2" y="-16" width="116.7" height="4.6" fill="url(#g595)"/><rect x="3.5" y="-20" width="116.7" height="4.6" fill="url(#g596)"/><rect x="5.8" y="-24" width="113.7" height="4.6" fill="url(#g597)"/><rect x="8.1" y="-28" width="109" height="4.6" fill="url(#g598)"/><rect x="10.5" y="-32" width="104.3" height="4.6" fill="url(#g599)"/><rect x="12.8" y="-36" width="99.6" height="4.6" fill="url(#g600)"/><rect x="15.1" y="-40" width="94.9" height="4.6" fill="url(#g601)"/><rect x="17.5" y="-44" width="90.3" height="4.6" fill="url(#g602)"/><rect x="19.8" y="-48" width="85.6" height="4.6" fill="url(#g603)"/><rect x="22.1" y="-52" width="80.9" height="4.6" fill="url(#g604)"/><rect x="24.4" y="-56" width="76.2" height="4.6" fill="url(#g605)"/><rect x="26.8" y="-60" width="71.5" height="4.6" fill="url(#g606)"/><rect x="29.1" y="-64" width="66.8" height="4.6" fill="url(#g607)"/><rect x="31.4" y="-68" width="62.1" height="4.6" fill="url(#g608)"/><rect x="33.8" y="-72" width="57.4" height="4.6" fill="url(#g609)"/><rect x="36.1" y="-76" width="52.7" height="4.6" fill="url(#g610)"/><rect x="38.4" y="-80" width="48" height="4.6" fill="url(#g611)"/><rect x="40.7" y="-84" width="43.3" height="4.6" fill="url(#g612)"/><rect x="43.1" y="-88" width="38.6" height="4.6" fill="url(#g613)"/><rect x="45.4" y="-92" width="33.9" height="4.6" fill="url(#g614)"/><rect x="47.7" y="-96" width="29.3" height="4.6" fill="url(#g615)"/><rect x="50.1" y="-100" width="24.6" height="4.6" fill="url(#g616)"/><rect x="52.4" y="-104" width="19.9" height="4.6" fill="url(#g617)"/><rect x="54.7" y="-108" width="15.2" height="4.6" fill="url(#g618)"/><rect x="56.5" y="-112" width="15" height="4.6" fill="url(#g619)"/><rect x="56.5" y="-116" width="15" height="4.6" fill="url(#g620)"/></g><use href="#meshg"/></g>
<circle cx="67.9" cy="-32" r="1.1" fill="#7a5fd0"/>
<text x="54.5" y="-104.1" font-size="13.7" fill="#3348ad" stroke="#3348ad" stroke-width=".25" text-anchor="end">0%</text>
<text x="71.9" y="-104.1" font-size="13.7" fill="#111" stroke="#111" stroke-width=".25">60%</text>
<text x="-.6" y="-53.6" font-size="15.5" fill="#1f30b4" stroke="#1f30b4" stroke-width=".45" font-weight="bold" text-anchor="middle">CS</text>
<text x="122.9" y="-58.7" font-size="14.9" fill="#111" stroke="#111" stroke-width=".45" font-weight="bold" text-anchor="middle">LAC</text>
<text x="-.2" y="-4" font-size="13.7" fill="#3348ad" stroke="#3348ad" stroke-width=".25" text-anchor="end">60%</text>
<text x="122.6" y="2.9" font-size="13.7" fill="#111" stroke="#111" stroke-width=".25">0%</text>
<text x="-.9" y="16.3" font-size="13.7" fill="#d0554c" stroke="#d0554c" stroke-width=".25" text-anchor="middle">40%</text>
<text x="56.8" y="17.7" font-size="16.2" fill="#e02818" stroke="#e02818" stroke-width=".45" font-weight="bold" text-anchor="middle">MCC</text>
<text x="109.6" y="16.3" font-size="13.7" fill="#d0554c" stroke="#d0554c" stroke-width=".25" text-anchor="middle">90%</text>
<rect x="-8.9" y="34.2" width="127.7" height="13.4" fill="url(#jet)"/><use href="#cbt"/>
<text x="-12.4" y="58" font-size="10.9" fill="#111" stroke="#111" stroke-width=".25">20</text>
<text x="110.8" y="58" font-size="10.9" fill="#111" stroke="#111" stroke-width=".25">65</text>
<text x="55.4" y="70.3" font-size="11.4" fill="#111" stroke="#111" stroke-width=".25" text-anchor="middle">DT (s)</text>
</g>
<defs><linearGradient id="g621"><stop offset="0" stop-color="#d6b800"/><stop offset=".078" stop-color="#d6bd00"/><stop offset=".143" stop-color="#c9d60e"/><stop offset=".351" stop-color="#22d6b5"/><stop offset=".403" stop-color="#00cbd6"/><stop offset=".584" stop-color="#002cd6"/><stop offset=".623" stop-color="#0001d6"/><stop offset=".727" stop-color="#00008d"/><stop offset=".974" stop-color="#000096"/><stop offset="1" stop-color="#0000ad"/></linearGradient><linearGradient id="g622"><stop offset="0" stop-color="#d6b800"/><stop offset=".078" stop-color="#d6bd00"/><stop offset=".143" stop-color="#c9d60e"/><stop offset=".351" stop-color="#22d6b5"/><stop offset=".403" stop-color="#00cbd6"/><stop offset=".584" stop-color="#002cd6"/><stop offset=".623" stop-color="#0001d6"/><stop offset=".727" stop-color="#00008d"/><stop offset=".974" stop-color="#000096"/><stop offset="1" stop-color="#0000ad"/></linearGradient><linearGradient id="g623"><stop offset="0" stop-color="#d6c100"/><stop offset=".078" stop-color="#d6cc00"/><stop offset=".182" stop-color="#9ed639"/><stop offset=".364" stop-color="#00d6d6"/><stop offset=".558" stop-color="#002dd6"/><stop offset=".61" stop-color="#0000cb"/><stop offset=".701" stop-color="#00008d"/><stop offset=".922" stop-color="#00008f"/><stop offset=".987" stop-color="#0000d2"/><stop offset="1" stop-color="#0011d6"/></linearGradient><linearGradient id="g624"><stop offset="0" stop-color="#d6d300"/><stop offset=".078" stop-color="#ced608"/><stop offset=".26" stop-color="#43d693"/><stop offset=".338" stop-color="#00d3d6"/><stop offset=".532" stop-color="#0029d6"/><stop offset=".571" stop-color="#0000d4"/><stop offset=".675" stop-color="#00008d"/><stop offset=".87" stop-color="#000093"/><stop offset=".935" stop-color="#0007d6"/><stop offset="1" stop-color="#009cd6"/></linearGradient><linearGradient id="g625"><stop offset="0" stop-color="#c7d60f"/><stop offset=".078" stop-color="#bcd61a"/><stop offset=".312" stop-color="#00cfd6"/><stop offset=".506" stop-color="#0024d6"/><stop offset=".545" stop-color="#0000d0"/><stop offset=".636" stop-color="#00008d"/><stop offset=".818" stop-color="#000094"/><stop offset=".883" stop-color="#000ad6"/><stop offset=".935" stop-color="#0091d6"/><stop offset=".961" stop-color="#0bd6cb"/><stop offset=".987" stop-color="#4bd68b"/><stop offset="1" stop-color="#4bd68b"/></linearGradient><linearGradient id="g626"><stop offset="0" stop-color="#b5d621"/><stop offset=".078" stop-color="#a8d62e"/><stop offset=".273" stop-color="#00d6d6"/><stop offset=".468" stop-color="#002ed6"/><stop offset=".519" stop-color="#0000cb"/><stop offset=".61" stop-color="#00008d"/><stop offset=".753" stop-color="#000091"/><stop offset=".805" stop-color="#0000be"/><stop offset=".818" stop-color="#0000d2"/><stop offset=".857" stop-color="#0057d6"/><stop offset=".883" stop-color="#00b2d6"/><stop offset=".896" stop-color="#10d6c6"/><stop offset=".935" stop-color="#a8d62f"/><stop offset=".948" stop-color="#ced609"/><stop offset=".974" stop-color="#d6bd00"/><stop offset="1" stop-color="#d6bd00"/></linearGradient><linearGradient id="g627"><stop offset="0" stop-color="#9ed638"/><stop offset=".065" stop-color="#9ad63c"/><stop offset=".247" stop-color="#00d3d6"/><stop offset=".442" stop-color="#0029d6"/><stop offset=".481" stop-color="#0000d5"/><stop offset=".584" stop-color="#00008d"/><stop offset=".701" stop-color="#000093"/><stop offset=".753" stop-color="#0000c0"/><stop offset=".766" stop-color="#0000d4"/><stop offset=".805" stop-color="#005cd6"/><stop offset=".831" stop-color="#00c0d6"/><stop offset=".844" stop-color="#26d6b0"/><stop offset=".87" stop-color="#a9d62d"/><stop offset=".883" stop-color="#d6c300"/><stop offset=".909" stop-color="#d65c00"/><stop offset=".935" stop-color="#d63000"/><stop offset="1" stop-color="#d62f00"/></linearGradient><linearGradient id="g628"><stop offset="0" stop-color="#86d651"/><stop offset=".067" stop-color="#82d655"/><stop offset=".227" stop-color="#00cfd6"/><stop offset=".427" stop-color="#0024d6"/><stop offset=".467" stop-color="#0000d0"/><stop offset=".56" stop-color="#00008d"/><stop offset=".68" stop-color="#000094"/><stop offset=".733" stop-color="#0000c2"/><stop offset=".747" stop-color="#0000d6"/><stop offset=".787" stop-color="#0061d6"/><stop offset=".813" stop-color="#00c6d6"/><stop offset=".827" stop-color="#2dd6a9"/><stop offset=".853" stop-color="#b0d626"/><stop offset=".867" stop-color="#d6be00"/><stop offset=".893" stop-color="#d65a00"/><stop offset=".907" stop-color="#d63e00"/><stop offset=".987" stop-color="#d63300"/><stop offset="1" stop-color="#d63300"/></linearGradient><linearGradient id="g629"><stop offset="0" stop-color="#72d664"/><stop offset=".069" stop-color="#6ed668"/><stop offset=".208" stop-color="#00ced6"/><stop offset=".417" stop-color="#0020d6"/><stop offset=".458" stop-color="#00c"/><stop offset=".556" stop-color="#00008d"/><stop offset=".681" stop-color="#009"/><stop offset=".736" stop-color="#0000cf"/><stop offset=".764" stop-color="#002ed6"/><stop offset=".806" stop-color="#00b1d6"/><stop offset=".819" stop-color="#13d6c3"/><stop offset=".861" stop-color="#c6d610"/><stop offset=".889" stop-color="#d68b00"/><stop offset=".917" stop-color="#d66700"/><stop offset="1" stop-color="#d66700"/></linearGradient><linearGradient id="g630"><stop offset="0" stop-color="#6fd667"/><stop offset=".072" stop-color="#6bd66b"/><stop offset=".188" stop-color="#01d6d5"/><stop offset=".42" stop-color="#000ed6"/><stop offset=".449" stop-color="#0000c8"/><stop offset=".551" stop-color="#00008d"/><stop offset=".667" stop-color="#000095"/><stop offset=".739" stop-color="#0006d6"/><stop offset=".783" stop-color="#006bd6"/><stop offset=".812" stop-color="#00ccd6"/><stop offset=".87" stop-color="#c7d60f"/><stop offset=".899" stop-color="#d6a900"/><stop offset="1" stop-color="#d6a100"/></linearGradient><linearGradient id="g631"><stop offset="0" stop-color="#69d66d"/><stop offset=".076" stop-color="#65d671"/><stop offset=".182" stop-color="#03d6d3"/><stop offset=".424" stop-color="#0000d2"/><stop offset=".53" stop-color="#00008d"/><stop offset=".667" stop-color="#009"/><stop offset=".727" stop-color="#0000d1"/><stop offset=".773" stop-color="#0056d6"/><stop offset=".818" stop-color="#08d6ce"/><stop offset=".864" stop-color="#92d644"/><stop offset=".894" stop-color="#c8d60e"/><stop offset="1" stop-color="#d0d606"/></linearGradient><linearGradient id="g632"><stop offset="0" stop-color="#63d673"/><stop offset=".079" stop-color="#5fd678"/><stop offset=".19" stop-color="#00ced6"/><stop offset=".413" stop-color="#0000cf"/><stop offset=".524" stop-color="#00008d"/><stop offset=".651" stop-color="#000094"/><stop offset=".73" stop-color="#0008d6"/><stop offset=".778" stop-color="#0068d6"/><stop offset=".81" stop-color="#00bed6"/><stop offset=".825" stop-color="#14d6c2"/><stop offset=".873" stop-color="#81d655"/><stop offset=".905" stop-color="#9ad63c"/><stop offset="1" stop-color="#9ad63c"/></linearGradient><linearGradient id="g633"><stop offset="0" stop-color="#5ed678"/><stop offset=".083" stop-color="#5bd67c"/><stop offset=".183" stop-color="#00d6d6"/><stop offset=".383" stop-color="#0006d6"/><stop offset=".517" stop-color="#00008e"/><stop offset=".65" stop-color="#000098"/><stop offset=".717" stop-color="#0000d2"/><stop offset=".767" stop-color="#0052d6"/><stop offset=".817" stop-color="#00c6d6"/><stop offset=".85" stop-color="#37d6a0"/><stop offset=".883" stop-color="#61d675"/><stop offset="1" stop-color="#67d66f"/></linearGradient><linearGradient id="g634"><stop offset="0" stop-color="#5bd67b"/><stop offset=".088" stop-color="#58d67e"/><stop offset=".193" stop-color="#00cdd6"/><stop offset=".368" stop-color="#0008d6"/><stop offset=".509" stop-color="#00008e"/><stop offset=".632" stop-color="#000093"/><stop offset=".719" stop-color="#0006d6"/><stop offset=".825" stop-color="#00c3d6"/><stop offset=".842" stop-color="#0ad6cd"/><stop offset=".877" stop-color="#2ed6a8"/><stop offset="1" stop-color="#33d6a3"/></linearGradient><linearGradient id="g635"><stop offset="0" stop-color="#59d67e"/><stop offset=".094" stop-color="#54d682"/><stop offset=".189" stop-color="#00d5d6"/><stop offset=".358" stop-color="#0009d6"/><stop offset=".491" stop-color="#00008f"/><stop offset=".623" stop-color="#000091"/><stop offset=".717" stop-color="#0003d6"/><stop offset=".849" stop-color="#00bad6"/><stop offset=".906" stop-color="#00cdd6"/><stop offset="1" stop-color="#00cdd6"/></linearGradient><linearGradient id="g636"><stop offset="0" stop-color="#40d696"/><stop offset=".1" stop-color="#3bd69b"/><stop offset=".18" stop-color="#00d1d6"/><stop offset=".36" stop-color="#0000d6"/><stop offset=".46" stop-color="#000094"/><stop offset=".62" stop-color="#000090"/><stop offset=".72" stop-color="#0000d6"/><stop offset=".84" stop-color="#007ed6"/><stop offset=".94" stop-color="#008cd6"/><stop offset="1" stop-color="#008cd6"/></linearGradient><linearGradient id="g637"><stop offset="0" stop-color="#27d6af"/><stop offset=".106" stop-color="#23d6b4"/><stop offset=".17" stop-color="#00cbd6"/><stop offset=".34" stop-color="#000dd6"/><stop offset=".404" stop-color="#0000b2"/><stop offset=".468" stop-color="#000096"/><stop offset=".617" stop-color="#00008f"/><stop offset=".723" stop-color="#0000d0"/><stop offset=".851" stop-color="#0053d6"/><stop offset="1" stop-color="#0056d6"/></linearGradient><linearGradient id="g638"><stop offset="0" stop-color="#0ed6c8"/><stop offset=".114" stop-color="#0ad6cc"/><stop offset=".159" stop-color="#00bfd6"/><stop offset=".341" stop-color="#000ad6"/><stop offset=".455" stop-color="#00009e"/><stop offset=".636" stop-color="#000094"/><stop offset=".773" stop-color="#0006d6"/><stop offset=".864" stop-color="#0022d6"/><stop offset="1" stop-color="#0022d6"/></linearGradient><linearGradient id="g639"><stop offset="0" stop-color="#00c7d6"/><stop offset=".122" stop-color="#00c1d6"/><stop offset=".341" stop-color="#0009d6"/><stop offset=".463" stop-color="#0000a3"/><stop offset=".659" stop-color="#000095"/><stop offset=".854" stop-color="#0000ca"/><stop offset="1" stop-color="#0000ca"/></linearGradient><linearGradient id="g640"><stop offset="0" stop-color="#0095d6"/><stop offset=".132" stop-color="#0090d6"/><stop offset=".342" stop-color="#0000d6"/><stop offset=".5" stop-color="#0000a1"/><stop offset=".684" stop-color="#000093"/><stop offset=".895" stop-color="#0000ab"/><stop offset="1" stop-color="#0000ab"/></linearGradient><linearGradient id="g641"><stop offset="0" stop-color="#005ed6"/><stop offset=".143" stop-color="#0059d6"/><stop offset=".314" stop-color="#0001d6"/><stop offset=".571" stop-color="#00009a"/><stop offset="1" stop-color="#00008e"/></linearGradient><linearGradient id="g642"><stop offset="0" stop-color="#002dd6"/><stop offset=".187" stop-color="#0020d6"/><stop offset=".312" stop-color="#0000c9"/><stop offset=".688" stop-color="#000093"/><stop offset="1" stop-color="#00008e"/></linearGradient><linearGradient id="g643"><stop offset="0" stop-color="#0002d6"/><stop offset=".214" stop-color="#0000c9"/><stop offset=".786" stop-color="#000091"/><stop offset="1" stop-color="#00008f"/></linearGradient><linearGradient id="g644"><stop offset="0" stop-color="#0000ae"/><stop offset="1" stop-color="#000090"/></linearGradient><linearGradient id="g645"><stop offset="0" stop-color="#000098"/><stop offset="1" stop-color="#000090"/></linearGradient><linearGradient id="g646"><stop offset="0" stop-color="#00008d"/><stop offset="1" stop-color="#00008d"/></linearGradient><linearGradient id="g647"><stop offset="0" stop-color="#00008d"/><stop offset="1" stop-color="#00008d"/></linearGradient><linearGradient id="g648"><stop offset="0" stop-color="#00008d"/><stop offset="1" stop-color="#00008d"/></linearGradient><linearGradient id="g649"><stop offset="0" stop-color="#00008d"/><stop offset="1" stop-color="#00008d"/></linearGradient><linearGradient id="g650"><stop offset="0" stop-color="#00008d"/><stop offset="1" stop-color="#00008d"/></linearGradient><linearGradient id="g651"><stop offset="0" stop-color="#00008d"/><stop offset="1" stop-color="#00008d"/></linearGradient><clipPath id="cr3c4"><polygon points="3.7,-1.7 62.7,-103 112,-19.5 101.8,-1.7"/></clipPath></defs>
<g transform="translate(1127.8 890)">
<polygon points="0,0 62.3,-107 114,-19.5 102.8,0" fill="#3e3e3e" stroke="#3e3e3e" stroke-width="1" stroke-linejoin="miter" stroke-miterlimit="6"/>
<g clip-path="url(#cr3c4)"><g filter="url(#vb)"><rect x="-8.2" y="4" width="116.8" height="4.6" fill="url(#g621)"/><rect x="-8.2" y="0" width="116.8" height="4.6" fill="url(#g622)"/><rect x="-5.8" y="-4" width="116.8" height="4.6" fill="url(#g623)"/><rect x="-3.5" y="-8" width="116.8" height="4.6" fill="url(#g624)"/><rect x="-1.2" y="-12" width="116.7" height="4.6" fill="url(#g625)"/><rect x="1.2" y="-16" width="116.7" height="4.6" fill="url(#g626)"/><rect x="3.5" y="-20" width="116.7" height="4.6" fill="url(#g627)"/><rect x="5.8" y="-24" width="113.7" height="4.6" fill="url(#g628)"/><rect x="8.1" y="-28" width="109" height="4.6" fill="url(#g629)"/><rect x="10.5" y="-32" width="104.3" height="4.6" fill="url(#g630)"/><rect x="12.8" y="-36" width="99.6" height="4.6" fill="url(#g631)"/><rect x="15.1" y="-40" width="94.9" height="4.6" fill="url(#g632)"/><rect x="17.5" y="-44" width="90.3" height="4.6" fill="url(#g633)"/><rect x="19.8" y="-48" width="85.6" height="4.6" fill="url(#g634)"/><rect x="22.1" y="-52" width="80.9" height="4.6" fill="url(#g635)"/><rect x="24.4" y="-56" width="76.2" height="4.6" fill="url(#g636)"/><rect x="26.8" y="-60" width="71.5" height="4.6" fill="url(#g637)"/><rect x="29.1" y="-64" width="66.8" height="4.6" fill="url(#g638)"/><rect x="31.4" y="-68" width="62.1" height="4.6" fill="url(#g639)"/><rect x="33.8" y="-72" width="57.4" height="4.6" fill="url(#g640)"/><rect x="36.1" y="-76" width="52.7" height="4.6" fill="url(#g641)"/><rect x="38.4" y="-80" width="48" height="4.6" fill="url(#g642)"/><rect x="40.7" y="-84" width="43.3" height="4.6" fill="url(#g643)"/><rect x="43.1" y="-88" width="38.6" height="4.6" fill="url(#g644)"/><rect x="45.4" y="-92" width="33.9" height="4.6" fill="url(#g645)"/><rect x="47.7" y="-96" width="29.3" height="4.6" fill="url(#g646)"/><rect x="50.1" y="-100" width="24.6" height="4.6" fill="url(#g647)"/><rect x="52.4" y="-104" width="19.9" height="4.6" fill="url(#g648)"/><rect x="54.7" y="-108" width="15.2" height="4.6" fill="url(#g649)"/><rect x="56.5" y="-112" width="15" height="4.6" fill="url(#g650)"/><rect x="56.5" y="-116" width="15" height="4.6" fill="url(#g651)"/></g><use href="#meshg"/></g>
<circle cx="68.7" cy="-31" r="1.6" fill="#e040e0"/>
<text x="54.5" y="-104.1" font-size="13.7" fill="#3348ad" stroke="#3348ad" stroke-width=".25" text-anchor="end">0%</text>
<text x="71.9" y="-104.1" font-size="13.7" fill="#111" stroke="#111" stroke-width=".25">60%</text>
<text x="-.6" y="-53.6" font-size="15.5" fill="#1f30b4" stroke="#1f30b4" stroke-width=".45" font-weight="bold" text-anchor="middle">CS</text>
<text x="122.9" y="-58.7" font-size="14.9" fill="#111" stroke="#111" stroke-width=".45" font-weight="bold" text-anchor="middle">LAC</text>
<text x="-.2" y="-4" font-size="13.7" fill="#3348ad" stroke="#3348ad" stroke-width=".25" text-anchor="end">60%</text>
<text x="122.6" y="2.9" font-size="13.7" fill="#111" stroke="#111" stroke-width=".25">0%</text>
<text x="-.9" y="16.3" font-size="13.7" fill="#d0554c" stroke="#d0554c" stroke-width=".25" text-anchor="middle">40%</text>
<text x="56.8" y="17.7" font-size="16.2" fill="#e02818" stroke="#e02818" stroke-width=".45" font-weight="bold" text-anchor="middle">MCC</text>
<text x="109.6" y="16.3" font-size="13.7" fill="#d0554c" stroke="#d0554c" stroke-width=".25" text-anchor="middle">90%</text>
<rect x="-8.9" y="34.2" width="127.7" height="13.4" fill="url(#jet)"/><use href="#cbt"/>
<text x="-12.4" y="58" font-size="10.9" fill="#111" stroke="#111" stroke-width=".25">15</text>
<text x="110.8" y="58" font-size="10.9" fill="#111" stroke="#111" stroke-width=".25">40</text>
<text x="55.4" y="70.3" font-size="11.4" fill="#111" stroke="#111" stroke-width=".25" text-anchor="middle">DT (s)</text>
</g>
</svg></body></html>
